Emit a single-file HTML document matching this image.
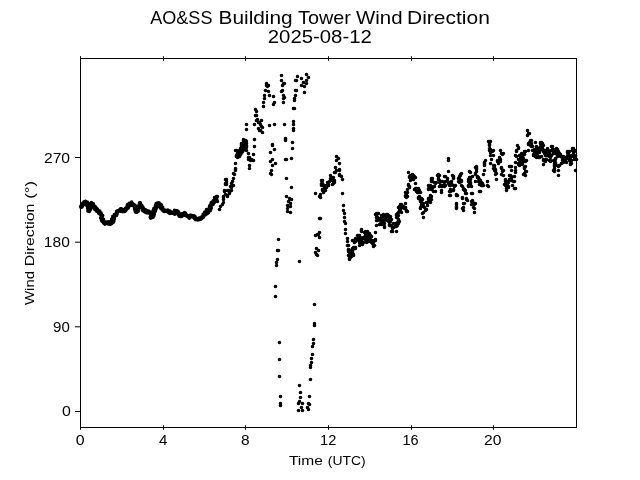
<!DOCTYPE html><html><head><meta charset="utf-8"><style>html,body{margin:0;padding:0;background:#fff;width:640px;height:480px;overflow:hidden}svg{display:block;will-change:transform}text{font-family:"Liberation Sans",sans-serif;fill:#000}</style></head><body>
<svg width="640" height="480" viewBox="0 0 640 480">
<rect width="640" height="480" fill="#fff"/>
<text x="150.25" y="23.50" font-size="18.50" text-anchor="start" textLength="62.20" lengthAdjust="spacingAndGlyphs">AO&amp;SS</text>
<text x="218.50" y="23.50" font-size="18.50" text-anchor="start" textLength="74.19" lengthAdjust="spacingAndGlyphs">Building</text>
<text x="298.05" y="23.50" font-size="18.50" text-anchor="start" textLength="52.90" lengthAdjust="spacingAndGlyphs">Tower</text>
<text x="356.00" y="23.50" font-size="18.50" text-anchor="start" textLength="46.52" lengthAdjust="spacingAndGlyphs">Wind</text>
<text x="407.00" y="23.50" font-size="18.50" text-anchor="start" textLength="82.83" lengthAdjust="spacingAndGlyphs">Direction</text>
<text x="319.80" y="43.45" font-size="17.98" text-anchor="middle" textLength="103.92" lengthAdjust="spacingAndGlyphs">2025-08-12</text>
<polyline points="81.2,207.5 83.1,205.0 85.6,201.2 87.5,205.6 88.8,211.2 91.2,202.5 93.8,206.9 96.2,210.0 98.8,210.6 101.2,215.6 103.1,221.9 105.0,224.4 108.8,222.5 111.9,223.8 113.8,216.2 117.5,212.5 120.0,209.0 123.8,211.2 126.2,208.8 128.8,204.6 132.5,203.1 135.0,206.9 136.9,212.5 140.0,202.5 142.5,209.4 146.2,211.2 150.0,212.5 151.9,218.1 155.0,208.8 157.5,203.8 158.5,203.1 161.0,206.9 163.5,210.0 167.2,211.2 171.0,212.8 173.5,213.8 176.0,210.6 179.1,215.6 182.2,215.0 185.4,213.1 188.5,217.5 192.2,215.6 194.8,218.1 198.5,219.4 202.2,218.1 204.8,213.8 208.5,211.2 211.6,205.0 214.8,199.4 217.2,200.0" fill="none" stroke="#000" stroke-width="2.6" stroke-linejoin="round" stroke-linecap="round"/>
<polyline points="239.0,156.5 243.0,151.0 245.5,146.5 246.5,142.0" fill="none" stroke="#000" stroke-width="3.4" stroke-linejoin="round" stroke-linecap="round"/>
<polyline points="236.5,156.5 239.5,151.5 242.0,147.0 244.5,142.0 246.0,140.5" fill="none" stroke="#000" stroke-width="3.4" stroke-linejoin="round" stroke-linecap="round"/>
<polyline points="248.5,158.5 251.0,159.8 253.0,160.5" fill="none" stroke="#000" stroke-width="3.0" stroke-linejoin="round" stroke-linecap="round"/>
<path fill="#000" d="M79.05,207.21a1.8,1.8 0 1,0 3.6,0a1.8,1.8 0 1,0 -3.6,0M78.93,206.56a1.8,1.8 0 1,0 3.6,0a1.8,1.8 0 1,0 -3.6,0M80.32,207.04a1.8,1.8 0 1,0 3.6,0a1.8,1.8 0 1,0 -3.6,0M79.28,205.72a1.8,1.8 0 1,0 3.6,0a1.8,1.8 0 1,0 -3.6,0M80.59,206.13a1.8,1.8 0 1,0 3.6,0a1.8,1.8 0 1,0 -3.6,0M80.47,205.49a1.8,1.8 0 1,0 3.6,0a1.8,1.8 0 1,0 -3.6,0M80.04,204.62a1.8,1.8 0 1,0 3.6,0a1.8,1.8 0 1,0 -3.6,0M81.32,205.01a1.8,1.8 0 1,0 3.6,0a1.8,1.8 0 1,0 -3.6,0M80.45,203.94a1.8,1.8 0 1,0 3.6,0a1.8,1.8 0 1,0 -3.6,0M81.60,204.22a1.8,1.8 0 1,0 3.6,0a1.8,1.8 0 1,0 -3.6,0M80.98,203.31a1.8,1.8 0 1,0 3.6,0a1.8,1.8 0 1,0 -3.6,0M81.26,203.00a1.8,1.8 0 1,0 3.6,0a1.8,1.8 0 1,0 -3.6,0M82.26,203.18a1.8,1.8 0 1,0 3.6,0a1.8,1.8 0 1,0 -3.6,0M83.43,203.46a1.8,1.8 0 1,0 3.6,0a1.8,1.8 0 1,0 -3.6,0M82.01,202.03a1.8,1.8 0 1,0 3.6,0a1.8,1.8 0 1,0 -3.6,0M82.47,201.84a1.8,1.8 0 1,0 3.6,0a1.8,1.8 0 1,0 -3.6,0M83.64,202.13a1.8,1.8 0 1,0 3.6,0a1.8,1.8 0 1,0 -3.6,0M84.62,202.29a1.8,1.8 0 1,0 3.6,0a1.8,1.8 0 1,0 -3.6,0M83.60,201.34a1.8,1.8 0 1,0 3.6,0a1.8,1.8 0 1,0 -3.6,0M84.24,201.53a1.8,1.8 0 1,0 3.6,0a1.8,1.8 0 1,0 -3.6,0M82.92,202.57a1.8,1.8 0 1,0 3.6,0a1.8,1.8 0 1,0 -3.6,0M85.48,201.93a1.8,1.8 0 1,0 3.6,0a1.8,1.8 0 1,0 -3.6,0M83.57,203.23a1.8,1.8 0 1,0 3.6,0a1.8,1.8 0 1,0 -3.6,0M85.20,202.99a1.8,1.8 0 1,0 3.6,0a1.8,1.8 0 1,0 -3.6,0M85.75,203.22a1.8,1.8 0 1,0 3.6,0a1.8,1.8 0 1,0 -3.6,0M85.99,203.59a1.8,1.8 0 1,0 3.6,0a1.8,1.8 0 1,0 -3.6,0M85.67,204.20a1.8,1.8 0 1,0 3.6,0a1.8,1.8 0 1,0 -3.6,0M84.54,205.16a1.8,1.8 0 1,0 3.6,0a1.8,1.8 0 1,0 -3.6,0M86.35,204.85a1.8,1.8 0 1,0 3.6,0a1.8,1.8 0 1,0 -3.6,0M85.48,205.65a1.8,1.8 0 1,0 3.6,0a1.8,1.8 0 1,0 -3.6,0M85.41,206.09a1.8,1.8 0 1,0 3.6,0a1.8,1.8 0 1,0 -3.6,0M86.23,206.33a1.8,1.8 0 1,0 3.6,0a1.8,1.8 0 1,0 -3.6,0M85.84,206.84a1.8,1.8 0 1,0 3.6,0a1.8,1.8 0 1,0 -3.6,0M87.25,206.95a1.8,1.8 0 1,0 3.6,0a1.8,1.8 0 1,0 -3.6,0M87.35,207.35a1.8,1.8 0 1,0 3.6,0a1.8,1.8 0 1,0 -3.6,0M87.04,207.84a1.8,1.8 0 1,0 3.6,0a1.8,1.8 0 1,0 -3.6,0M85.83,208.53a1.8,1.8 0 1,0 3.6,0a1.8,1.8 0 1,0 -3.6,0M86.61,208.78a1.8,1.8 0 1,0 3.6,0a1.8,1.8 0 1,0 -3.6,0M87.01,209.12a1.8,1.8 0 1,0 3.6,0a1.8,1.8 0 1,0 -3.6,0M86.36,209.69a1.8,1.8 0 1,0 3.6,0a1.8,1.8 0 1,0 -3.6,0M86.81,210.01a1.8,1.8 0 1,0 3.6,0a1.8,1.8 0 1,0 -3.6,0M87.32,210.32a1.8,1.8 0 1,0 3.6,0a1.8,1.8 0 1,0 -3.6,0M86.06,211.02a1.8,1.8 0 1,0 3.6,0a1.8,1.8 0 1,0 -3.6,0M87.49,211.40a1.8,1.8 0 1,0 3.6,0a1.8,1.8 0 1,0 -3.6,0M86.37,210.66a1.8,1.8 0 1,0 3.6,0a1.8,1.8 0 1,0 -3.6,0M87.38,210.51a1.8,1.8 0 1,0 3.6,0a1.8,1.8 0 1,0 -3.6,0M87.36,210.08a1.8,1.8 0 1,0 3.6,0a1.8,1.8 0 1,0 -3.6,0M88.41,209.95a1.8,1.8 0 1,0 3.6,0a1.8,1.8 0 1,0 -3.6,0M88.14,209.44a1.8,1.8 0 1,0 3.6,0a1.8,1.8 0 1,0 -3.6,0M87.06,208.70a1.8,1.8 0 1,0 3.6,0a1.8,1.8 0 1,0 -3.6,0M89.04,208.84a1.8,1.8 0 1,0 3.6,0a1.8,1.8 0 1,0 -3.6,0M86.83,207.77a1.8,1.8 0 1,0 3.6,0a1.8,1.8 0 1,0 -3.6,0M87.75,207.61a1.8,1.8 0 1,0 3.6,0a1.8,1.8 0 1,0 -3.6,0M88.78,207.47a1.8,1.8 0 1,0 3.6,0a1.8,1.8 0 1,0 -3.6,0M87.26,206.61a1.8,1.8 0 1,0 3.6,0a1.8,1.8 0 1,0 -3.6,0M88.28,206.47a1.8,1.8 0 1,0 3.6,0a1.8,1.8 0 1,0 -3.6,0M87.19,205.73a1.8,1.8 0 1,0 3.6,0a1.8,1.8 0 1,0 -3.6,0M88.99,205.81a1.8,1.8 0 1,0 3.6,0a1.8,1.8 0 1,0 -3.6,0M89.37,205.49a1.8,1.8 0 1,0 3.6,0a1.8,1.8 0 1,0 -3.6,0M88.96,204.94a1.8,1.8 0 1,0 3.6,0a1.8,1.8 0 1,0 -3.6,0M89.89,204.78a1.8,1.8 0 1,0 3.6,0a1.8,1.8 0 1,0 -3.6,0M88.49,203.95a1.8,1.8 0 1,0 3.6,0a1.8,1.8 0 1,0 -3.6,0M89.63,203.84a1.8,1.8 0 1,0 3.6,0a1.8,1.8 0 1,0 -3.6,0M89.48,203.37a1.8,1.8 0 1,0 3.6,0a1.8,1.8 0 1,0 -3.6,0M89.55,202.96a1.8,1.8 0 1,0 3.6,0a1.8,1.8 0 1,0 -3.6,0M89.56,202.44a1.8,1.8 0 1,0 3.6,0a1.8,1.8 0 1,0 -3.6,0M88.83,203.34a1.8,1.8 0 1,0 3.6,0a1.8,1.8 0 1,0 -3.6,0M88.78,203.85a1.8,1.8 0 1,0 3.6,0a1.8,1.8 0 1,0 -3.6,0M90.14,203.56a1.8,1.8 0 1,0 3.6,0a1.8,1.8 0 1,0 -3.6,0M89.88,204.19a1.8,1.8 0 1,0 3.6,0a1.8,1.8 0 1,0 -3.6,0M91.56,203.73a1.8,1.8 0 1,0 3.6,0a1.8,1.8 0 1,0 -3.6,0M90.21,204.98a1.8,1.8 0 1,0 3.6,0a1.8,1.8 0 1,0 -3.6,0M90.55,205.27a1.8,1.8 0 1,0 3.6,0a1.8,1.8 0 1,0 -3.6,0M89.92,206.12a1.8,1.8 0 1,0 3.6,0a1.8,1.8 0 1,0 -3.6,0M90.54,206.25a1.8,1.8 0 1,0 3.6,0a1.8,1.8 0 1,0 -3.6,0M92.06,205.87a1.8,1.8 0 1,0 3.6,0a1.8,1.8 0 1,0 -3.6,0M92.02,206.38a1.8,1.8 0 1,0 3.6,0a1.8,1.8 0 1,0 -3.6,0M91.58,207.20a1.8,1.8 0 1,0 3.6,0a1.8,1.8 0 1,0 -3.6,0M93.27,206.41a1.8,1.8 0 1,0 3.6,0a1.8,1.8 0 1,0 -3.6,0M92.59,207.52a1.8,1.8 0 1,0 3.6,0a1.8,1.8 0 1,0 -3.6,0M93.51,207.35a1.8,1.8 0 1,0 3.6,0a1.8,1.8 0 1,0 -3.6,0M93.90,207.60a1.8,1.8 0 1,0 3.6,0a1.8,1.8 0 1,0 -3.6,0M94.30,207.85a1.8,1.8 0 1,0 3.6,0a1.8,1.8 0 1,0 -3.6,0M93.03,209.44a1.8,1.8 0 1,0 3.6,0a1.8,1.8 0 1,0 -3.6,0M94.70,208.66a1.8,1.8 0 1,0 3.6,0a1.8,1.8 0 1,0 -3.6,0M94.72,209.21a1.8,1.8 0 1,0 3.6,0a1.8,1.8 0 1,0 -3.6,0M94.52,209.70a1.8,1.8 0 1,0 3.6,0a1.8,1.8 0 1,0 -3.6,0M94.62,211.11a1.8,1.8 0 1,0 3.6,0a1.8,1.8 0 1,0 -3.6,0M95.56,209.06a1.8,1.8 0 1,0 3.6,0a1.8,1.8 0 1,0 -3.6,0M95.73,210.16a1.8,1.8 0 1,0 3.6,0a1.8,1.8 0 1,0 -3.6,0M96.08,210.53a1.8,1.8 0 1,0 3.6,0a1.8,1.8 0 1,0 -3.6,0M96.28,211.54a1.8,1.8 0 1,0 3.6,0a1.8,1.8 0 1,0 -3.6,0M96.15,211.00a1.8,1.8 0 1,0 3.6,0a1.8,1.8 0 1,0 -3.6,0M96.23,211.44a1.8,1.8 0 1,0 3.6,0a1.8,1.8 0 1,0 -3.6,0M97.89,211.09a1.8,1.8 0 1,0 3.6,0a1.8,1.8 0 1,0 -3.6,0M97.74,211.65a1.8,1.8 0 1,0 3.6,0a1.8,1.8 0 1,0 -3.6,0M98.07,211.96a1.8,1.8 0 1,0 3.6,0a1.8,1.8 0 1,0 -3.6,0M96.95,213.00a1.8,1.8 0 1,0 3.6,0a1.8,1.8 0 1,0 -3.6,0M96.96,213.48a1.8,1.8 0 1,0 3.6,0a1.8,1.8 0 1,0 -3.6,0M99.17,212.86a1.8,1.8 0 1,0 3.6,0a1.8,1.8 0 1,0 -3.6,0M99.30,213.27a1.8,1.8 0 1,0 3.6,0a1.8,1.8 0 1,0 -3.6,0M99.35,213.73a1.8,1.8 0 1,0 3.6,0a1.8,1.8 0 1,0 -3.6,0M99.54,214.11a1.8,1.8 0 1,0 3.6,0a1.8,1.8 0 1,0 -3.6,0M99.10,214.81a1.8,1.8 0 1,0 3.6,0a1.8,1.8 0 1,0 -3.6,0M99.03,215.33a1.8,1.8 0 1,0 3.6,0a1.8,1.8 0 1,0 -3.6,0M100.09,215.41a1.8,1.8 0 1,0 3.6,0a1.8,1.8 0 1,0 -3.6,0M100.90,215.60a1.8,1.8 0 1,0 3.6,0a1.8,1.8 0 1,0 -3.6,0M99.90,216.32a1.8,1.8 0 1,0 3.6,0a1.8,1.8 0 1,0 -3.6,0M100.15,216.68a1.8,1.8 0 1,0 3.6,0a1.8,1.8 0 1,0 -3.6,0M99.73,217.23a1.8,1.8 0 1,0 3.6,0a1.8,1.8 0 1,0 -3.6,0M98.81,217.93a1.8,1.8 0 1,0 3.6,0a1.8,1.8 0 1,0 -3.6,0M99.63,218.11a1.8,1.8 0 1,0 3.6,0a1.8,1.8 0 1,0 -3.6,0M100.22,218.37a1.8,1.8 0 1,0 3.6,0a1.8,1.8 0 1,0 -3.6,0M100.06,218.84a1.8,1.8 0 1,0 3.6,0a1.8,1.8 0 1,0 -3.6,0M100.02,219.28a1.8,1.8 0 1,0 3.6,0a1.8,1.8 0 1,0 -3.6,0M101.80,219.19a1.8,1.8 0 1,0 3.6,0a1.8,1.8 0 1,0 -3.6,0M99.65,220.25a1.8,1.8 0 1,0 3.6,0a1.8,1.8 0 1,0 -3.6,0M100.09,220.55a1.8,1.8 0 1,0 3.6,0a1.8,1.8 0 1,0 -3.6,0M99.95,221.01a1.8,1.8 0 1,0 3.6,0a1.8,1.8 0 1,0 -3.6,0M100.27,221.35a1.8,1.8 0 1,0 3.6,0a1.8,1.8 0 1,0 -3.6,0M101.47,221.42a1.8,1.8 0 1,0 3.6,0a1.8,1.8 0 1,0 -3.6,0M101.53,221.73a1.8,1.8 0 1,0 3.6,0a1.8,1.8 0 1,0 -3.6,0M102.46,221.59a1.8,1.8 0 1,0 3.6,0a1.8,1.8 0 1,0 -3.6,0M101.54,222.84a1.8,1.8 0 1,0 3.6,0a1.8,1.8 0 1,0 -3.6,0M103.09,222.23a1.8,1.8 0 1,0 3.6,0a1.8,1.8 0 1,0 -3.6,0M103.35,222.60a1.8,1.8 0 1,0 3.6,0a1.8,1.8 0 1,0 -3.6,0M103.31,223.19a1.8,1.8 0 1,0 3.6,0a1.8,1.8 0 1,0 -3.6,0M103.68,223.47a1.8,1.8 0 1,0 3.6,0a1.8,1.8 0 1,0 -3.6,0M103.00,224.00a1.8,1.8 0 1,0 3.6,0a1.8,1.8 0 1,0 -3.6,0M103.01,223.09a1.8,1.8 0 1,0 3.6,0a1.8,1.8 0 1,0 -3.6,0M103.32,222.77a1.8,1.8 0 1,0 3.6,0a1.8,1.8 0 1,0 -3.6,0M103.88,222.96a1.8,1.8 0 1,0 3.6,0a1.8,1.8 0 1,0 -3.6,0M104.20,222.64a1.8,1.8 0 1,0 3.6,0a1.8,1.8 0 1,0 -3.6,0M104.90,223.11a1.8,1.8 0 1,0 3.6,0a1.8,1.8 0 1,0 -3.6,0M104.85,222.07a1.8,1.8 0 1,0 3.6,0a1.8,1.8 0 1,0 -3.6,0M106.30,224.00a1.8,1.8 0 1,0 3.6,0a1.8,1.8 0 1,0 -3.6,0M106.34,223.16a1.8,1.8 0 1,0 3.6,0a1.8,1.8 0 1,0 -3.6,0M106.13,221.81a1.8,1.8 0 1,0 3.6,0a1.8,1.8 0 1,0 -3.6,0M107.21,221.86a1.8,1.8 0 1,0 3.6,0a1.8,1.8 0 1,0 -3.6,0M107.50,222.26a1.8,1.8 0 1,0 3.6,0a1.8,1.8 0 1,0 -3.6,0M107.88,222.46a1.8,1.8 0 1,0 3.6,0a1.8,1.8 0 1,0 -3.6,0M108.52,221.99a1.8,1.8 0 1,0 3.6,0a1.8,1.8 0 1,0 -3.6,0M108.16,224.03a1.8,1.8 0 1,0 3.6,0a1.8,1.8 0 1,0 -3.6,0M108.41,224.56a1.8,1.8 0 1,0 3.6,0a1.8,1.8 0 1,0 -3.6,0M109.35,223.35a1.8,1.8 0 1,0 3.6,0a1.8,1.8 0 1,0 -3.6,0M109.72,223.55a1.8,1.8 0 1,0 3.6,0a1.8,1.8 0 1,0 -3.6,0M108.97,223.47a1.8,1.8 0 1,0 3.6,0a1.8,1.8 0 1,0 -3.6,0M109.12,223.09a1.8,1.8 0 1,0 3.6,0a1.8,1.8 0 1,0 -3.6,0M109.87,222.86a1.8,1.8 0 1,0 3.6,0a1.8,1.8 0 1,0 -3.6,0M109.75,222.41a1.8,1.8 0 1,0 3.6,0a1.8,1.8 0 1,0 -3.6,0M111.38,222.39a1.8,1.8 0 1,0 3.6,0a1.8,1.8 0 1,0 -3.6,0M109.67,221.55a1.8,1.8 0 1,0 3.6,0a1.8,1.8 0 1,0 -3.6,0M109.39,221.06a1.8,1.8 0 1,0 3.6,0a1.8,1.8 0 1,0 -3.6,0M112.01,221.29a1.8,1.8 0 1,0 3.6,0a1.8,1.8 0 1,0 -3.6,0M110.96,220.61a1.8,1.8 0 1,0 3.6,0a1.8,1.8 0 1,0 -3.6,0M110.02,219.96a1.8,1.8 0 1,0 3.6,0a1.8,1.8 0 1,0 -3.6,0M111.19,219.83a1.8,1.8 0 1,0 3.6,0a1.8,1.8 0 1,0 -3.6,0M109.89,219.09a1.8,1.8 0 1,0 3.6,0a1.8,1.8 0 1,0 -3.6,0M111.34,219.03a1.8,1.8 0 1,0 3.6,0a1.8,1.8 0 1,0 -3.6,0M112.67,218.94a1.8,1.8 0 1,0 3.6,0a1.8,1.8 0 1,0 -3.6,0M112.45,218.47a1.8,1.8 0 1,0 3.6,0a1.8,1.8 0 1,0 -3.6,0M112.09,217.96a1.8,1.8 0 1,0 3.6,0a1.8,1.8 0 1,0 -3.6,0M111.01,217.27a1.8,1.8 0 1,0 3.6,0a1.8,1.8 0 1,0 -3.6,0M111.39,216.95a1.8,1.8 0 1,0 3.6,0a1.8,1.8 0 1,0 -3.6,0M110.95,216.42a1.8,1.8 0 1,0 3.6,0a1.8,1.8 0 1,0 -3.6,0M112.49,216.79a1.8,1.8 0 1,0 3.6,0a1.8,1.8 0 1,0 -3.6,0M112.30,216.03a1.8,1.8 0 1,0 3.6,0a1.8,1.8 0 1,0 -3.6,0M113.08,216.23a1.8,1.8 0 1,0 3.6,0a1.8,1.8 0 1,0 -3.6,0M112.48,215.05a1.8,1.8 0 1,0 3.6,0a1.8,1.8 0 1,0 -3.6,0M112.56,214.55a1.8,1.8 0 1,0 3.6,0a1.8,1.8 0 1,0 -3.6,0M114.01,215.42a1.8,1.8 0 1,0 3.6,0a1.8,1.8 0 1,0 -3.6,0M114.64,215.48a1.8,1.8 0 1,0 3.6,0a1.8,1.8 0 1,0 -3.6,0M114.67,214.93a1.8,1.8 0 1,0 3.6,0a1.8,1.8 0 1,0 -3.6,0M114.86,214.55a1.8,1.8 0 1,0 3.6,0a1.8,1.8 0 1,0 -3.6,0M115.18,214.28a1.8,1.8 0 1,0 3.6,0a1.8,1.8 0 1,0 -3.6,0M115.31,213.84a1.8,1.8 0 1,0 3.6,0a1.8,1.8 0 1,0 -3.6,0M114.58,212.54a1.8,1.8 0 1,0 3.6,0a1.8,1.8 0 1,0 -3.6,0M115.45,212.82a1.8,1.8 0 1,0 3.6,0a1.8,1.8 0 1,0 -3.6,0M115.37,212.26a1.8,1.8 0 1,0 3.6,0a1.8,1.8 0 1,0 -3.6,0M114.88,211.38a1.8,1.8 0 1,0 3.6,0a1.8,1.8 0 1,0 -3.6,0M115.12,211.03a1.8,1.8 0 1,0 3.6,0a1.8,1.8 0 1,0 -3.6,0M115.95,211.09a1.8,1.8 0 1,0 3.6,0a1.8,1.8 0 1,0 -3.6,0M116.15,210.71a1.8,1.8 0 1,0 3.6,0a1.8,1.8 0 1,0 -3.6,0M117.39,211.06a1.8,1.8 0 1,0 3.6,0a1.8,1.8 0 1,0 -3.6,0M118.24,211.14a1.8,1.8 0 1,0 3.6,0a1.8,1.8 0 1,0 -3.6,0M117.33,209.96a1.8,1.8 0 1,0 3.6,0a1.8,1.8 0 1,0 -3.6,0M118.70,210.41a1.8,1.8 0 1,0 3.6,0a1.8,1.8 0 1,0 -3.6,0M119.06,210.14a1.8,1.8 0 1,0 3.6,0a1.8,1.8 0 1,0 -3.6,0M117.54,210.09a1.8,1.8 0 1,0 3.6,0a1.8,1.8 0 1,0 -3.6,0M118.77,208.90a1.8,1.8 0 1,0 3.6,0a1.8,1.8 0 1,0 -3.6,0M119.35,208.78a1.8,1.8 0 1,0 3.6,0a1.8,1.8 0 1,0 -3.6,0M119.72,209.02a1.8,1.8 0 1,0 3.6,0a1.8,1.8 0 1,0 -3.6,0M120.14,209.17a1.8,1.8 0 1,0 3.6,0a1.8,1.8 0 1,0 -3.6,0M120.50,209.42a1.8,1.8 0 1,0 3.6,0a1.8,1.8 0 1,0 -3.6,0M120.27,210.65a1.8,1.8 0 1,0 3.6,0a1.8,1.8 0 1,0 -3.6,0M120.25,211.54a1.8,1.8 0 1,0 3.6,0a1.8,1.8 0 1,0 -3.6,0M120.71,211.62a1.8,1.8 0 1,0 3.6,0a1.8,1.8 0 1,0 -3.6,0M121.60,210.98a1.8,1.8 0 1,0 3.6,0a1.8,1.8 0 1,0 -3.6,0M122.25,211.55a1.8,1.8 0 1,0 3.6,0a1.8,1.8 0 1,0 -3.6,0M122.86,211.53a1.8,1.8 0 1,0 3.6,0a1.8,1.8 0 1,0 -3.6,0M121.75,209.80a1.8,1.8 0 1,0 3.6,0a1.8,1.8 0 1,0 -3.6,0M123.21,210.63a1.8,1.8 0 1,0 3.6,0a1.8,1.8 0 1,0 -3.6,0M124.01,210.81a1.8,1.8 0 1,0 3.6,0a1.8,1.8 0 1,0 -3.6,0M124.07,210.25a1.8,1.8 0 1,0 3.6,0a1.8,1.8 0 1,0 -3.6,0M124.32,209.87a1.8,1.8 0 1,0 3.6,0a1.8,1.8 0 1,0 -3.6,0M124.09,209.02a1.8,1.8 0 1,0 3.6,0a1.8,1.8 0 1,0 -3.6,0M123.68,208.29a1.8,1.8 0 1,0 3.6,0a1.8,1.8 0 1,0 -3.6,0M125.35,208.82a1.8,1.8 0 1,0 3.6,0a1.8,1.8 0 1,0 -3.6,0M124.46,207.82a1.8,1.8 0 1,0 3.6,0a1.8,1.8 0 1,0 -3.6,0M125.80,208.15a1.8,1.8 0 1,0 3.6,0a1.8,1.8 0 1,0 -3.6,0M126.41,208.05a1.8,1.8 0 1,0 3.6,0a1.8,1.8 0 1,0 -3.6,0M125.24,206.87a1.8,1.8 0 1,0 3.6,0a1.8,1.8 0 1,0 -3.6,0M125.46,206.53a1.8,1.8 0 1,0 3.6,0a1.8,1.8 0 1,0 -3.6,0M126.98,206.97a1.8,1.8 0 1,0 3.6,0a1.8,1.8 0 1,0 -3.6,0M126.66,206.31a1.8,1.8 0 1,0 3.6,0a1.8,1.8 0 1,0 -3.6,0M125.53,205.16a1.8,1.8 0 1,0 3.6,0a1.8,1.8 0 1,0 -3.6,0M125.64,204.75a1.8,1.8 0 1,0 3.6,0a1.8,1.8 0 1,0 -3.6,0M125.90,204.44a1.8,1.8 0 1,0 3.6,0a1.8,1.8 0 1,0 -3.6,0M127.37,205.65a1.8,1.8 0 1,0 3.6,0a1.8,1.8 0 1,0 -3.6,0M127.64,205.25a1.8,1.8 0 1,0 3.6,0a1.8,1.8 0 1,0 -3.6,0M127.33,203.38a1.8,1.8 0 1,0 3.6,0a1.8,1.8 0 1,0 -3.6,0M128.41,205.00a1.8,1.8 0 1,0 3.6,0a1.8,1.8 0 1,0 -3.6,0M128.95,205.25a1.8,1.8 0 1,0 3.6,0a1.8,1.8 0 1,0 -3.6,0M128.99,204.26a1.8,1.8 0 1,0 3.6,0a1.8,1.8 0 1,0 -3.6,0M129.04,203.31a1.8,1.8 0 1,0 3.6,0a1.8,1.8 0 1,0 -3.6,0M129.63,203.68a1.8,1.8 0 1,0 3.6,0a1.8,1.8 0 1,0 -3.6,0M129.57,202.44a1.8,1.8 0 1,0 3.6,0a1.8,1.8 0 1,0 -3.6,0M129.82,201.99a1.8,1.8 0 1,0 3.6,0a1.8,1.8 0 1,0 -3.6,0M129.60,203.82a1.8,1.8 0 1,0 3.6,0a1.8,1.8 0 1,0 -3.6,0M130.58,203.68a1.8,1.8 0 1,0 3.6,0a1.8,1.8 0 1,0 -3.6,0M131.09,203.83a1.8,1.8 0 1,0 3.6,0a1.8,1.8 0 1,0 -3.6,0M130.37,204.80a1.8,1.8 0 1,0 3.6,0a1.8,1.8 0 1,0 -3.6,0M131.76,204.38a1.8,1.8 0 1,0 3.6,0a1.8,1.8 0 1,0 -3.6,0M130.97,205.40a1.8,1.8 0 1,0 3.6,0a1.8,1.8 0 1,0 -3.6,0M131.30,205.67a1.8,1.8 0 1,0 3.6,0a1.8,1.8 0 1,0 -3.6,0M132.97,205.07a1.8,1.8 0 1,0 3.6,0a1.8,1.8 0 1,0 -3.6,0M133.10,205.48a1.8,1.8 0 1,0 3.6,0a1.8,1.8 0 1,0 -3.6,0M133.23,205.89a1.8,1.8 0 1,0 3.6,0a1.8,1.8 0 1,0 -3.6,0M133.58,206.16a1.8,1.8 0 1,0 3.6,0a1.8,1.8 0 1,0 -3.6,0M132.97,206.98a1.8,1.8 0 1,0 3.6,0a1.8,1.8 0 1,0 -3.6,0M133.97,207.08a1.8,1.8 0 1,0 3.6,0a1.8,1.8 0 1,0 -3.6,0M133.69,207.63a1.8,1.8 0 1,0 3.6,0a1.8,1.8 0 1,0 -3.6,0M134.59,207.77a1.8,1.8 0 1,0 3.6,0a1.8,1.8 0 1,0 -3.6,0M132.66,208.87a1.8,1.8 0 1,0 3.6,0a1.8,1.8 0 1,0 -3.6,0M134.27,208.77a1.8,1.8 0 1,0 3.6,0a1.8,1.8 0 1,0 -3.6,0M134.13,209.26a1.8,1.8 0 1,0 3.6,0a1.8,1.8 0 1,0 -3.6,0M133.93,209.77a1.8,1.8 0 1,0 3.6,0a1.8,1.8 0 1,0 -3.6,0M133.21,210.46a1.8,1.8 0 1,0 3.6,0a1.8,1.8 0 1,0 -3.6,0M134.63,210.43a1.8,1.8 0 1,0 3.6,0a1.8,1.8 0 1,0 -3.6,0M133.45,211.28a1.8,1.8 0 1,0 3.6,0a1.8,1.8 0 1,0 -3.6,0M134.69,211.30a1.8,1.8 0 1,0 3.6,0a1.8,1.8 0 1,0 -3.6,0M134.74,211.73a1.8,1.8 0 1,0 3.6,0a1.8,1.8 0 1,0 -3.6,0M134.90,212.12a1.8,1.8 0 1,0 3.6,0a1.8,1.8 0 1,0 -3.6,0M133.81,212.10a1.8,1.8 0 1,0 3.6,0a1.8,1.8 0 1,0 -3.6,0M135.06,212.07a1.8,1.8 0 1,0 3.6,0a1.8,1.8 0 1,0 -3.6,0M134.49,211.47a1.8,1.8 0 1,0 3.6,0a1.8,1.8 0 1,0 -3.6,0M134.13,210.93a1.8,1.8 0 1,0 3.6,0a1.8,1.8 0 1,0 -3.6,0M136.38,211.21a1.8,1.8 0 1,0 3.6,0a1.8,1.8 0 1,0 -3.6,0M134.82,210.31a1.8,1.8 0 1,0 3.6,0a1.8,1.8 0 1,0 -3.6,0M135.74,210.17a1.8,1.8 0 1,0 3.6,0a1.8,1.8 0 1,0 -3.6,0M136.54,209.99a1.8,1.8 0 1,0 3.6,0a1.8,1.8 0 1,0 -3.6,0M136.20,209.47a1.8,1.8 0 1,0 3.6,0a1.8,1.8 0 1,0 -3.6,0M135.71,208.89a1.8,1.8 0 1,0 3.6,0a1.8,1.8 0 1,0 -3.6,0M136.34,208.67a1.8,1.8 0 1,0 3.6,0a1.8,1.8 0 1,0 -3.6,0M136.56,208.32a1.8,1.8 0 1,0 3.6,0a1.8,1.8 0 1,0 -3.6,0M137.29,208.12a1.8,1.8 0 1,0 3.6,0a1.8,1.8 0 1,0 -3.6,0M135.60,207.17a1.8,1.8 0 1,0 3.6,0a1.8,1.8 0 1,0 -3.6,0M136.93,207.17a1.8,1.8 0 1,0 3.6,0a1.8,1.8 0 1,0 -3.6,0M136.22,206.52a1.8,1.8 0 1,0 3.6,0a1.8,1.8 0 1,0 -3.6,0M136.41,206.16a1.8,1.8 0 1,0 3.6,0a1.8,1.8 0 1,0 -3.6,0M137.86,206.19a1.8,1.8 0 1,0 3.6,0a1.8,1.8 0 1,0 -3.6,0M137.27,205.58a1.8,1.8 0 1,0 3.6,0a1.8,1.8 0 1,0 -3.6,0M137.53,205.24a1.8,1.8 0 1,0 3.6,0a1.8,1.8 0 1,0 -3.6,0M138.18,205.02a1.8,1.8 0 1,0 3.6,0a1.8,1.8 0 1,0 -3.6,0M138.71,204.77a1.8,1.8 0 1,0 3.6,0a1.8,1.8 0 1,0 -3.6,0M137.57,203.99a1.8,1.8 0 1,0 3.6,0a1.8,1.8 0 1,0 -3.6,0M138.14,203.75a1.8,1.8 0 1,0 3.6,0a1.8,1.8 0 1,0 -3.6,0M137.98,203.27a1.8,1.8 0 1,0 3.6,0a1.8,1.8 0 1,0 -3.6,0M138.11,202.89a1.8,1.8 0 1,0 3.6,0a1.8,1.8 0 1,0 -3.6,0M137.69,202.68a1.8,1.8 0 1,0 3.6,0a1.8,1.8 0 1,0 -3.6,0M138.46,202.84a1.8,1.8 0 1,0 3.6,0a1.8,1.8 0 1,0 -3.6,0M138.39,203.30a1.8,1.8 0 1,0 3.6,0a1.8,1.8 0 1,0 -3.6,0M138.67,203.63a1.8,1.8 0 1,0 3.6,0a1.8,1.8 0 1,0 -3.6,0M137.59,204.45a1.8,1.8 0 1,0 3.6,0a1.8,1.8 0 1,0 -3.6,0M138.37,204.61a1.8,1.8 0 1,0 3.6,0a1.8,1.8 0 1,0 -3.6,0M138.04,205.16a1.8,1.8 0 1,0 3.6,0a1.8,1.8 0 1,0 -3.6,0M138.01,205.61a1.8,1.8 0 1,0 3.6,0a1.8,1.8 0 1,0 -3.6,0M139.94,205.34a1.8,1.8 0 1,0 3.6,0a1.8,1.8 0 1,0 -3.6,0M139.29,206.01a1.8,1.8 0 1,0 3.6,0a1.8,1.8 0 1,0 -3.6,0M138.42,206.76a1.8,1.8 0 1,0 3.6,0a1.8,1.8 0 1,0 -3.6,0M138.83,207.04a1.8,1.8 0 1,0 3.6,0a1.8,1.8 0 1,0 -3.6,0M140.82,206.75a1.8,1.8 0 1,0 3.6,0a1.8,1.8 0 1,0 -3.6,0M141.00,207.12a1.8,1.8 0 1,0 3.6,0a1.8,1.8 0 1,0 -3.6,0M140.30,207.81a1.8,1.8 0 1,0 3.6,0a1.8,1.8 0 1,0 -3.6,0M141.41,207.84a1.8,1.8 0 1,0 3.6,0a1.8,1.8 0 1,0 -3.6,0M141.10,208.39a1.8,1.8 0 1,0 3.6,0a1.8,1.8 0 1,0 -3.6,0M141.68,208.61a1.8,1.8 0 1,0 3.6,0a1.8,1.8 0 1,0 -3.6,0M140.49,209.83a1.8,1.8 0 1,0 3.6,0a1.8,1.8 0 1,0 -3.6,0M140.72,210.30a1.8,1.8 0 1,0 3.6,0a1.8,1.8 0 1,0 -3.6,0M140.96,210.77a1.8,1.8 0 1,0 3.6,0a1.8,1.8 0 1,0 -3.6,0M142.25,209.09a1.8,1.8 0 1,0 3.6,0a1.8,1.8 0 1,0 -3.6,0M141.93,210.68a1.8,1.8 0 1,0 3.6,0a1.8,1.8 0 1,0 -3.6,0M142.38,210.73a1.8,1.8 0 1,0 3.6,0a1.8,1.8 0 1,0 -3.6,0M143.39,209.61a1.8,1.8 0 1,0 3.6,0a1.8,1.8 0 1,0 -3.6,0M142.85,211.66a1.8,1.8 0 1,0 3.6,0a1.8,1.8 0 1,0 -3.6,0M143.12,212.05a1.8,1.8 0 1,0 3.6,0a1.8,1.8 0 1,0 -3.6,0M144.42,210.36a1.8,1.8 0 1,0 3.6,0a1.8,1.8 0 1,0 -3.6,0M144.05,212.45a1.8,1.8 0 1,0 3.6,0a1.8,1.8 0 1,0 -3.6,0M144.96,211.12a1.8,1.8 0 1,0 3.6,0a1.8,1.8 0 1,0 -3.6,0M145.29,211.49a1.8,1.8 0 1,0 3.6,0a1.8,1.8 0 1,0 -3.6,0M145.27,212.97a1.8,1.8 0 1,0 3.6,0a1.8,1.8 0 1,0 -3.6,0M145.82,212.69a1.8,1.8 0 1,0 3.6,0a1.8,1.8 0 1,0 -3.6,0M146.83,211.05a1.8,1.8 0 1,0 3.6,0a1.8,1.8 0 1,0 -3.6,0M147.01,211.90a1.8,1.8 0 1,0 3.6,0a1.8,1.8 0 1,0 -3.6,0M147.35,212.26a1.8,1.8 0 1,0 3.6,0a1.8,1.8 0 1,0 -3.6,0M147.93,211.93a1.8,1.8 0 1,0 3.6,0a1.8,1.8 0 1,0 -3.6,0M149.01,212.23a1.8,1.8 0 1,0 3.6,0a1.8,1.8 0 1,0 -3.6,0M148.82,212.74a1.8,1.8 0 1,0 3.6,0a1.8,1.8 0 1,0 -3.6,0M147.88,213.50a1.8,1.8 0 1,0 3.6,0a1.8,1.8 0 1,0 -3.6,0M149.88,213.27a1.8,1.8 0 1,0 3.6,0a1.8,1.8 0 1,0 -3.6,0M148.60,214.15a1.8,1.8 0 1,0 3.6,0a1.8,1.8 0 1,0 -3.6,0M149.04,214.45a1.8,1.8 0 1,0 3.6,0a1.8,1.8 0 1,0 -3.6,0M150.29,214.47a1.8,1.8 0 1,0 3.6,0a1.8,1.8 0 1,0 -3.6,0M149.60,215.15a1.8,1.8 0 1,0 3.6,0a1.8,1.8 0 1,0 -3.6,0M148.96,215.81a1.8,1.8 0 1,0 3.6,0a1.8,1.8 0 1,0 -3.6,0M149.39,216.11a1.8,1.8 0 1,0 3.6,0a1.8,1.8 0 1,0 -3.6,0M150.71,216.11a1.8,1.8 0 1,0 3.6,0a1.8,1.8 0 1,0 -3.6,0M148.41,217.34a1.8,1.8 0 1,0 3.6,0a1.8,1.8 0 1,0 -3.6,0M149.06,217.56a1.8,1.8 0 1,0 3.6,0a1.8,1.8 0 1,0 -3.6,0M148.71,218.12a1.8,1.8 0 1,0 3.6,0a1.8,1.8 0 1,0 -3.6,0M149.05,217.75a1.8,1.8 0 1,0 3.6,0a1.8,1.8 0 1,0 -3.6,0M149.61,217.50a1.8,1.8 0 1,0 3.6,0a1.8,1.8 0 1,0 -3.6,0M149.13,216.92a1.8,1.8 0 1,0 3.6,0a1.8,1.8 0 1,0 -3.6,0M151.23,217.18a1.8,1.8 0 1,0 3.6,0a1.8,1.8 0 1,0 -3.6,0M150.01,216.34a1.8,1.8 0 1,0 3.6,0a1.8,1.8 0 1,0 -3.6,0M149.76,215.83a1.8,1.8 0 1,0 3.6,0a1.8,1.8 0 1,0 -3.6,0M150.67,215.69a1.8,1.8 0 1,0 3.6,0a1.8,1.8 0 1,0 -3.6,0M152.10,215.74a1.8,1.8 0 1,0 3.6,0a1.8,1.8 0 1,0 -3.6,0M151.98,215.26a1.8,1.8 0 1,0 3.6,0a1.8,1.8 0 1,0 -3.6,0M150.62,214.38a1.8,1.8 0 1,0 3.6,0a1.8,1.8 0 1,0 -3.6,0M150.46,213.90a1.8,1.8 0 1,0 3.6,0a1.8,1.8 0 1,0 -3.6,0M152.63,214.18a1.8,1.8 0 1,0 3.6,0a1.8,1.8 0 1,0 -3.6,0M151.84,213.49a1.8,1.8 0 1,0 3.6,0a1.8,1.8 0 1,0 -3.6,0M152.31,213.21a1.8,1.8 0 1,0 3.6,0a1.8,1.8 0 1,0 -3.6,0M150.82,212.28a1.8,1.8 0 1,0 3.6,0a1.8,1.8 0 1,0 -3.6,0M150.86,211.87a1.8,1.8 0 1,0 3.6,0a1.8,1.8 0 1,0 -3.6,0M152.67,212.03a1.8,1.8 0 1,0 3.6,0a1.8,1.8 0 1,0 -3.6,0M152.10,211.41a1.8,1.8 0 1,0 3.6,0a1.8,1.8 0 1,0 -3.6,0M151.29,210.71a1.8,1.8 0 1,0 3.6,0a1.8,1.8 0 1,0 -3.6,0M153.72,211.08a1.8,1.8 0 1,0 3.6,0a1.8,1.8 0 1,0 -3.6,0M153.04,210.43a1.8,1.8 0 1,0 3.6,0a1.8,1.8 0 1,0 -3.6,0M153.61,210.18a1.8,1.8 0 1,0 3.6,0a1.8,1.8 0 1,0 -3.6,0M151.84,209.16a1.8,1.8 0 1,0 3.6,0a1.8,1.8 0 1,0 -3.6,0M154.02,209.45a1.8,1.8 0 1,0 3.6,0a1.8,1.8 0 1,0 -3.6,0M152.11,208.21a1.8,1.8 0 1,0 3.6,0a1.8,1.8 0 1,0 -3.6,0M154.30,208.82a1.8,1.8 0 1,0 3.6,0a1.8,1.8 0 1,0 -3.6,0M153.47,207.92a1.8,1.8 0 1,0 3.6,0a1.8,1.8 0 1,0 -3.6,0M153.37,207.39a1.8,1.8 0 1,0 3.6,0a1.8,1.8 0 1,0 -3.6,0M154.10,207.28a1.8,1.8 0 1,0 3.6,0a1.8,1.8 0 1,0 -3.6,0M155.23,207.36a1.8,1.8 0 1,0 3.6,0a1.8,1.8 0 1,0 -3.6,0M153.77,206.15a1.8,1.8 0 1,0 3.6,0a1.8,1.8 0 1,0 -3.6,0M153.62,205.59a1.8,1.8 0 1,0 3.6,0a1.8,1.8 0 1,0 -3.6,0M154.81,205.71a1.8,1.8 0 1,0 3.6,0a1.8,1.8 0 1,0 -3.6,0M154.28,204.96a1.8,1.8 0 1,0 3.6,0a1.8,1.8 0 1,0 -3.6,0M154.14,204.41a1.8,1.8 0 1,0 3.6,0a1.8,1.8 0 1,0 -3.6,0M154.47,204.10a1.8,1.8 0 1,0 3.6,0a1.8,1.8 0 1,0 -3.6,0M154.38,203.57a1.8,1.8 0 1,0 3.6,0a1.8,1.8 0 1,0 -3.6,0M155.24,203.05a1.8,1.8 0 1,0 3.6,0a1.8,1.8 0 1,0 -3.6,0M155.91,202.98a1.8,1.8 0 1,0 3.6,0a1.8,1.8 0 1,0 -3.6,0M157.16,202.80a1.8,1.8 0 1,0 3.6,0a1.8,1.8 0 1,0 -3.6,0M156.32,203.84a1.8,1.8 0 1,0 3.6,0a1.8,1.8 0 1,0 -3.6,0M157.65,203.47a1.8,1.8 0 1,0 3.6,0a1.8,1.8 0 1,0 -3.6,0M157.38,204.14a1.8,1.8 0 1,0 3.6,0a1.8,1.8 0 1,0 -3.6,0M158.36,203.99a1.8,1.8 0 1,0 3.6,0a1.8,1.8 0 1,0 -3.6,0M158.19,204.59a1.8,1.8 0 1,0 3.6,0a1.8,1.8 0 1,0 -3.6,0M159.19,204.43a1.8,1.8 0 1,0 3.6,0a1.8,1.8 0 1,0 -3.6,0M158.87,205.13a1.8,1.8 0 1,0 3.6,0a1.8,1.8 0 1,0 -3.6,0M159.65,205.12a1.8,1.8 0 1,0 3.6,0a1.8,1.8 0 1,0 -3.6,0M158.20,206.57a1.8,1.8 0 1,0 3.6,0a1.8,1.8 0 1,0 -3.6,0M158.85,206.63a1.8,1.8 0 1,0 3.6,0a1.8,1.8 0 1,0 -3.6,0M159.88,206.35a1.8,1.8 0 1,0 3.6,0a1.8,1.8 0 1,0 -3.6,0M159.53,207.20a1.8,1.8 0 1,0 3.6,0a1.8,1.8 0 1,0 -3.6,0M158.81,208.35a1.8,1.8 0 1,0 3.6,0a1.8,1.8 0 1,0 -3.6,0M160.89,207.24a1.8,1.8 0 1,0 3.6,0a1.8,1.8 0 1,0 -3.6,0M159.62,208.84a1.8,1.8 0 1,0 3.6,0a1.8,1.8 0 1,0 -3.6,0M160.74,208.50a1.8,1.8 0 1,0 3.6,0a1.8,1.8 0 1,0 -3.6,0M160.88,208.96a1.8,1.8 0 1,0 3.6,0a1.8,1.8 0 1,0 -3.6,0M160.42,209.90a1.8,1.8 0 1,0 3.6,0a1.8,1.8 0 1,0 -3.6,0M161.66,209.47a1.8,1.8 0 1,0 3.6,0a1.8,1.8 0 1,0 -3.6,0M161.69,210.02a1.8,1.8 0 1,0 3.6,0a1.8,1.8 0 1,0 -3.6,0M161.95,210.64a1.8,1.8 0 1,0 3.6,0a1.8,1.8 0 1,0 -3.6,0M162.11,211.56a1.8,1.8 0 1,0 3.6,0a1.8,1.8 0 1,0 -3.6,0M163.09,210.00a1.8,1.8 0 1,0 3.6,0a1.8,1.8 0 1,0 -3.6,0M163.07,211.44a1.8,1.8 0 1,0 3.6,0a1.8,1.8 0 1,0 -3.6,0M163.60,211.24a1.8,1.8 0 1,0 3.6,0a1.8,1.8 0 1,0 -3.6,0M164.08,211.19a1.8,1.8 0 1,0 3.6,0a1.8,1.8 0 1,0 -3.6,0M164.70,210.72a1.8,1.8 0 1,0 3.6,0a1.8,1.8 0 1,0 -3.6,0M165.17,210.71a1.8,1.8 0 1,0 3.6,0a1.8,1.8 0 1,0 -3.6,0M165.91,210.09a1.8,1.8 0 1,0 3.6,0a1.8,1.8 0 1,0 -3.6,0M166.21,210.44a1.8,1.8 0 1,0 3.6,0a1.8,1.8 0 1,0 -3.6,0M166.65,210.43a1.8,1.8 0 1,0 3.6,0a1.8,1.8 0 1,0 -3.6,0M166.32,212.33a1.8,1.8 0 1,0 3.6,0a1.8,1.8 0 1,0 -3.6,0M167.20,211.21a1.8,1.8 0 1,0 3.6,0a1.8,1.8 0 1,0 -3.6,0M167.68,211.12a1.8,1.8 0 1,0 3.6,0a1.8,1.8 0 1,0 -3.6,0M168.13,211.07a1.8,1.8 0 1,0 3.6,0a1.8,1.8 0 1,0 -3.6,0M167.72,213.19a1.8,1.8 0 1,0 3.6,0a1.8,1.8 0 1,0 -3.6,0M168.06,213.41a1.8,1.8 0 1,0 3.6,0a1.8,1.8 0 1,0 -3.6,0M168.65,213.04a1.8,1.8 0 1,0 3.6,0a1.8,1.8 0 1,0 -3.6,0M169.43,212.18a1.8,1.8 0 1,0 3.6,0a1.8,1.8 0 1,0 -3.6,0M169.88,212.25a1.8,1.8 0 1,0 3.6,0a1.8,1.8 0 1,0 -3.6,0M170.25,212.55a1.8,1.8 0 1,0 3.6,0a1.8,1.8 0 1,0 -3.6,0M170.49,213.14a1.8,1.8 0 1,0 3.6,0a1.8,1.8 0 1,0 -3.6,0M171.22,212.53a1.8,1.8 0 1,0 3.6,0a1.8,1.8 0 1,0 -3.6,0M171.34,213.44a1.8,1.8 0 1,0 3.6,0a1.8,1.8 0 1,0 -3.6,0M171.18,213.34a1.8,1.8 0 1,0 3.6,0a1.8,1.8 0 1,0 -3.6,0M172.96,214.24a1.8,1.8 0 1,0 3.6,0a1.8,1.8 0 1,0 -3.6,0M173.24,213.94a1.8,1.8 0 1,0 3.6,0a1.8,1.8 0 1,0 -3.6,0M172.55,212.89a1.8,1.8 0 1,0 3.6,0a1.8,1.8 0 1,0 -3.6,0M172.14,212.05a1.8,1.8 0 1,0 3.6,0a1.8,1.8 0 1,0 -3.6,0M173.97,212.99a1.8,1.8 0 1,0 3.6,0a1.8,1.8 0 1,0 -3.6,0M172.78,211.53a1.8,1.8 0 1,0 3.6,0a1.8,1.8 0 1,0 -3.6,0M173.14,211.30a1.8,1.8 0 1,0 3.6,0a1.8,1.8 0 1,0 -3.6,0M172.61,210.36a1.8,1.8 0 1,0 3.6,0a1.8,1.8 0 1,0 -3.6,0M173.69,210.71a1.8,1.8 0 1,0 3.6,0a1.8,1.8 0 1,0 -3.6,0M174.26,210.56a1.8,1.8 0 1,0 3.6,0a1.8,1.8 0 1,0 -3.6,0M174.41,210.96a1.8,1.8 0 1,0 3.6,0a1.8,1.8 0 1,0 -3.6,0M175.35,210.87a1.8,1.8 0 1,0 3.6,0a1.8,1.8 0 1,0 -3.6,0M174.85,211.68a1.8,1.8 0 1,0 3.6,0a1.8,1.8 0 1,0 -3.6,0M176.26,211.30a1.8,1.8 0 1,0 3.6,0a1.8,1.8 0 1,0 -3.6,0M175.87,212.04a1.8,1.8 0 1,0 3.6,0a1.8,1.8 0 1,0 -3.6,0M176.50,212.14a1.8,1.8 0 1,0 3.6,0a1.8,1.8 0 1,0 -3.6,0M175.99,212.95a1.8,1.8 0 1,0 3.6,0a1.8,1.8 0 1,0 -3.6,0M177.06,212.78a1.8,1.8 0 1,0 3.6,0a1.8,1.8 0 1,0 -3.6,0M177.33,213.11a1.8,1.8 0 1,0 3.6,0a1.8,1.8 0 1,0 -3.6,0M176.88,213.88a1.8,1.8 0 1,0 3.6,0a1.8,1.8 0 1,0 -3.6,0M177.27,214.13a1.8,1.8 0 1,0 3.6,0a1.8,1.8 0 1,0 -3.6,0M176.65,215.01a1.8,1.8 0 1,0 3.6,0a1.8,1.8 0 1,0 -3.6,0M177.01,215.29a1.8,1.8 0 1,0 3.6,0a1.8,1.8 0 1,0 -3.6,0M177.43,216.29a1.8,1.8 0 1,0 3.6,0a1.8,1.8 0 1,0 -3.6,0M177.78,215.96a1.8,1.8 0 1,0 3.6,0a1.8,1.8 0 1,0 -3.6,0M178.20,216.04a1.8,1.8 0 1,0 3.6,0a1.8,1.8 0 1,0 -3.6,0M178.68,216.42a1.8,1.8 0 1,0 3.6,0a1.8,1.8 0 1,0 -3.6,0M178.82,215.00a1.8,1.8 0 1,0 3.6,0a1.8,1.8 0 1,0 -3.6,0M179.18,214.75a1.8,1.8 0 1,0 3.6,0a1.8,1.8 0 1,0 -3.6,0M179.92,216.48a1.8,1.8 0 1,0 3.6,0a1.8,1.8 0 1,0 -3.6,0M179.87,214.11a1.8,1.8 0 1,0 3.6,0a1.8,1.8 0 1,0 -3.6,0M180.77,215.54a1.8,1.8 0 1,0 3.6,0a1.8,1.8 0 1,0 -3.6,0M181.01,215.13a1.8,1.8 0 1,0 3.6,0a1.8,1.8 0 1,0 -3.6,0M180.49,213.48a1.8,1.8 0 1,0 3.6,0a1.8,1.8 0 1,0 -3.6,0M181.98,215.17a1.8,1.8 0 1,0 3.6,0a1.8,1.8 0 1,0 -3.6,0M182.42,215.10a1.8,1.8 0 1,0 3.6,0a1.8,1.8 0 1,0 -3.6,0M182.38,214.25a1.8,1.8 0 1,0 3.6,0a1.8,1.8 0 1,0 -3.6,0M182.89,214.29a1.8,1.8 0 1,0 3.6,0a1.8,1.8 0 1,0 -3.6,0M183.35,214.27a1.8,1.8 0 1,0 3.6,0a1.8,1.8 0 1,0 -3.6,0M182.73,212.45a1.8,1.8 0 1,0 3.6,0a1.8,1.8 0 1,0 -3.6,0M183.55,213.14a1.8,1.8 0 1,0 3.6,0a1.8,1.8 0 1,0 -3.6,0M183.83,213.45a1.8,1.8 0 1,0 3.6,0a1.8,1.8 0 1,0 -3.6,0M183.31,214.32a1.8,1.8 0 1,0 3.6,0a1.8,1.8 0 1,0 -3.6,0M183.62,214.61a1.8,1.8 0 1,0 3.6,0a1.8,1.8 0 1,0 -3.6,0M183.81,214.98a1.8,1.8 0 1,0 3.6,0a1.8,1.8 0 1,0 -3.6,0M184.60,214.93a1.8,1.8 0 1,0 3.6,0a1.8,1.8 0 1,0 -3.6,0M184.13,215.76a1.8,1.8 0 1,0 3.6,0a1.8,1.8 0 1,0 -3.6,0M184.85,215.76a1.8,1.8 0 1,0 3.6,0a1.8,1.8 0 1,0 -3.6,0M185.07,216.12a1.8,1.8 0 1,0 3.6,0a1.8,1.8 0 1,0 -3.6,0M186.36,215.71a1.8,1.8 0 1,0 3.6,0a1.8,1.8 0 1,0 -3.6,0M187.06,215.73a1.8,1.8 0 1,0 3.6,0a1.8,1.8 0 1,0 -3.6,0M187.06,216.23a1.8,1.8 0 1,0 3.6,0a1.8,1.8 0 1,0 -3.6,0M186.78,216.94a1.8,1.8 0 1,0 3.6,0a1.8,1.8 0 1,0 -3.6,0M186.20,216.51a1.8,1.8 0 1,0 3.6,0a1.8,1.8 0 1,0 -3.6,0M187.50,218.15a1.8,1.8 0 1,0 3.6,0a1.8,1.8 0 1,0 -3.6,0M187.52,217.27a1.8,1.8 0 1,0 3.6,0a1.8,1.8 0 1,0 -3.6,0M187.99,217.25a1.8,1.8 0 1,0 3.6,0a1.8,1.8 0 1,0 -3.6,0M188.36,217.06a1.8,1.8 0 1,0 3.6,0a1.8,1.8 0 1,0 -3.6,0M188.80,217.00a1.8,1.8 0 1,0 3.6,0a1.8,1.8 0 1,0 -3.6,0M188.94,216.33a1.8,1.8 0 1,0 3.6,0a1.8,1.8 0 1,0 -3.6,0M188.70,214.93a1.8,1.8 0 1,0 3.6,0a1.8,1.8 0 1,0 -3.6,0M190.08,216.72a1.8,1.8 0 1,0 3.6,0a1.8,1.8 0 1,0 -3.6,0M190.39,216.41a1.8,1.8 0 1,0 3.6,0a1.8,1.8 0 1,0 -3.6,0M190.44,215.61a1.8,1.8 0 1,0 3.6,0a1.8,1.8 0 1,0 -3.6,0M190.69,215.98a1.8,1.8 0 1,0 3.6,0a1.8,1.8 0 1,0 -3.6,0M190.76,216.54a1.8,1.8 0 1,0 3.6,0a1.8,1.8 0 1,0 -3.6,0M192.25,215.68a1.8,1.8 0 1,0 3.6,0a1.8,1.8 0 1,0 -3.6,0M191.23,217.32a1.8,1.8 0 1,0 3.6,0a1.8,1.8 0 1,0 -3.6,0M192.50,216.67a1.8,1.8 0 1,0 3.6,0a1.8,1.8 0 1,0 -3.6,0M193.17,216.63a1.8,1.8 0 1,0 3.6,0a1.8,1.8 0 1,0 -3.6,0M193.10,217.32a1.8,1.8 0 1,0 3.6,0a1.8,1.8 0 1,0 -3.6,0M192.74,218.71a1.8,1.8 0 1,0 3.6,0a1.8,1.8 0 1,0 -3.6,0M193.64,217.46a1.8,1.8 0 1,0 3.6,0a1.8,1.8 0 1,0 -3.6,0M193.56,219.02a1.8,1.8 0 1,0 3.6,0a1.8,1.8 0 1,0 -3.6,0M193.76,219.79a1.8,1.8 0 1,0 3.6,0a1.8,1.8 0 1,0 -3.6,0M194.62,218.66a1.8,1.8 0 1,0 3.6,0a1.8,1.8 0 1,0 -3.6,0M195.14,218.51a1.8,1.8 0 1,0 3.6,0a1.8,1.8 0 1,0 -3.6,0M195.47,218.91a1.8,1.8 0 1,0 3.6,0a1.8,1.8 0 1,0 -3.6,0M195.70,219.60a1.8,1.8 0 1,0 3.6,0a1.8,1.8 0 1,0 -3.6,0M196.04,219.96a1.8,1.8 0 1,0 3.6,0a1.8,1.8 0 1,0 -3.6,0M196.81,219.71a1.8,1.8 0 1,0 3.6,0a1.8,1.8 0 1,0 -3.6,0M197.25,219.63a1.8,1.8 0 1,0 3.6,0a1.8,1.8 0 1,0 -3.6,0M197.15,217.99a1.8,1.8 0 1,0 3.6,0a1.8,1.8 0 1,0 -3.6,0M197.63,218.03a1.8,1.8 0 1,0 3.6,0a1.8,1.8 0 1,0 -3.6,0M198.14,218.17a1.8,1.8 0 1,0 3.6,0a1.8,1.8 0 1,0 -3.6,0M199.01,219.32a1.8,1.8 0 1,0 3.6,0a1.8,1.8 0 1,0 -3.6,0M199.02,218.02a1.8,1.8 0 1,0 3.6,0a1.8,1.8 0 1,0 -3.6,0M199.68,218.57a1.8,1.8 0 1,0 3.6,0a1.8,1.8 0 1,0 -3.6,0M199.59,216.95a1.8,1.8 0 1,0 3.6,0a1.8,1.8 0 1,0 -3.6,0M199.38,217.49a1.8,1.8 0 1,0 3.6,0a1.8,1.8 0 1,0 -3.6,0M200.10,217.41a1.8,1.8 0 1,0 3.6,0a1.8,1.8 0 1,0 -3.6,0M201.28,217.61a1.8,1.8 0 1,0 3.6,0a1.8,1.8 0 1,0 -3.6,0M201.54,217.28a1.8,1.8 0 1,0 3.6,0a1.8,1.8 0 1,0 -3.6,0M201.71,216.90a1.8,1.8 0 1,0 3.6,0a1.8,1.8 0 1,0 -3.6,0M200.98,216.00a1.8,1.8 0 1,0 3.6,0a1.8,1.8 0 1,0 -3.6,0M201.74,215.95a1.8,1.8 0 1,0 3.6,0a1.8,1.8 0 1,0 -3.6,0M201.82,215.51a1.8,1.8 0 1,0 3.6,0a1.8,1.8 0 1,0 -3.6,0M202.03,215.15a1.8,1.8 0 1,0 3.6,0a1.8,1.8 0 1,0 -3.6,0M201.40,214.31a1.8,1.8 0 1,0 3.6,0a1.8,1.8 0 1,0 -3.6,0M203.49,215.02a1.8,1.8 0 1,0 3.6,0a1.8,1.8 0 1,0 -3.6,0M202.01,213.69a1.8,1.8 0 1,0 3.6,0a1.8,1.8 0 1,0 -3.6,0M203.69,214.86a1.8,1.8 0 1,0 3.6,0a1.8,1.8 0 1,0 -3.6,0M203.97,214.54a1.8,1.8 0 1,0 3.6,0a1.8,1.8 0 1,0 -3.6,0M202.88,212.17a1.8,1.8 0 1,0 3.6,0a1.8,1.8 0 1,0 -3.6,0M203.91,212.97a1.8,1.8 0 1,0 3.6,0a1.8,1.8 0 1,0 -3.6,0M204.81,213.59a1.8,1.8 0 1,0 3.6,0a1.8,1.8 0 1,0 -3.6,0M205.38,213.70a1.8,1.8 0 1,0 3.6,0a1.8,1.8 0 1,0 -3.6,0M204.92,212.27a1.8,1.8 0 1,0 3.6,0a1.8,1.8 0 1,0 -3.6,0M204.98,211.62a1.8,1.8 0 1,0 3.6,0a1.8,1.8 0 1,0 -3.6,0M205.23,211.26a1.8,1.8 0 1,0 3.6,0a1.8,1.8 0 1,0 -3.6,0M206.71,212.74a1.8,1.8 0 1,0 3.6,0a1.8,1.8 0 1,0 -3.6,0M205.91,210.80a1.8,1.8 0 1,0 3.6,0a1.8,1.8 0 1,0 -3.6,0M206.90,211.35a1.8,1.8 0 1,0 3.6,0a1.8,1.8 0 1,0 -3.6,0M205.98,210.44a1.8,1.8 0 1,0 3.6,0a1.8,1.8 0 1,0 -3.6,0M207.13,210.54a1.8,1.8 0 1,0 3.6,0a1.8,1.8 0 1,0 -3.6,0M208.38,210.71a1.8,1.8 0 1,0 3.6,0a1.8,1.8 0 1,0 -3.6,0M206.51,209.32a1.8,1.8 0 1,0 3.6,0a1.8,1.8 0 1,0 -3.6,0M208.41,209.81a1.8,1.8 0 1,0 3.6,0a1.8,1.8 0 1,0 -3.6,0M207.82,209.05a1.8,1.8 0 1,0 3.6,0a1.8,1.8 0 1,0 -3.6,0M208.95,209.16a1.8,1.8 0 1,0 3.6,0a1.8,1.8 0 1,0 -3.6,0M208.67,208.56a1.8,1.8 0 1,0 3.6,0a1.8,1.8 0 1,0 -3.6,0M207.67,207.61a1.8,1.8 0 1,0 3.6,0a1.8,1.8 0 1,0 -3.6,0M209.52,208.07a1.8,1.8 0 1,0 3.6,0a1.8,1.8 0 1,0 -3.6,0M208.67,207.19a1.8,1.8 0 1,0 3.6,0a1.8,1.8 0 1,0 -3.6,0M207.70,206.25a1.8,1.8 0 1,0 3.6,0a1.8,1.8 0 1,0 -3.6,0M207.83,205.85a1.8,1.8 0 1,0 3.6,0a1.8,1.8 0 1,0 -3.6,0M209.23,206.09a1.8,1.8 0 1,0 3.6,0a1.8,1.8 0 1,0 -3.6,0M209.31,205.67a1.8,1.8 0 1,0 3.6,0a1.8,1.8 0 1,0 -3.6,0M209.12,205.12a1.8,1.8 0 1,0 3.6,0a1.8,1.8 0 1,0 -3.6,0M208.92,204.51a1.8,1.8 0 1,0 3.6,0a1.8,1.8 0 1,0 -3.6,0M209.62,204.44a1.8,1.8 0 1,0 3.6,0a1.8,1.8 0 1,0 -3.6,0M209.74,204.05a1.8,1.8 0 1,0 3.6,0a1.8,1.8 0 1,0 -3.6,0M211.22,204.42a1.8,1.8 0 1,0 3.6,0a1.8,1.8 0 1,0 -3.6,0M209.37,202.92a1.8,1.8 0 1,0 3.6,0a1.8,1.8 0 1,0 -3.6,0M211.40,203.59a1.8,1.8 0 1,0 3.6,0a1.8,1.8 0 1,0 -3.6,0M211.81,203.37a1.8,1.8 0 1,0 3.6,0a1.8,1.8 0 1,0 -3.6,0M210.25,202.03a1.8,1.8 0 1,0 3.6,0a1.8,1.8 0 1,0 -3.6,0M212.42,202.79a1.8,1.8 0 1,0 3.6,0a1.8,1.8 0 1,0 -3.6,0M212.09,202.14a1.8,1.8 0 1,0 3.6,0a1.8,1.8 0 1,0 -3.6,0M212.75,202.05a1.8,1.8 0 1,0 3.6,0a1.8,1.8 0 1,0 -3.6,0M211.45,200.86a1.8,1.8 0 1,0 3.6,0a1.8,1.8 0 1,0 -3.6,0M211.85,200.62a1.8,1.8 0 1,0 3.6,0a1.8,1.8 0 1,0 -3.6,0M212.10,200.30a1.8,1.8 0 1,0 3.6,0a1.8,1.8 0 1,0 -3.6,0M213.77,200.78a1.8,1.8 0 1,0 3.6,0a1.8,1.8 0 1,0 -3.6,0M212.97,199.87a1.8,1.8 0 1,0 3.6,0a1.8,1.8 0 1,0 -3.6,0M213.04,199.02a1.8,1.8 0 1,0 3.6,0a1.8,1.8 0 1,0 -3.6,0M213.41,199.30a1.8,1.8 0 1,0 3.6,0a1.8,1.8 0 1,0 -3.6,0M213.93,198.99a1.8,1.8 0 1,0 3.6,0a1.8,1.8 0 1,0 -3.6,0M214.50,198.47a1.8,1.8 0 1,0 3.6,0a1.8,1.8 0 1,0 -3.6,0M214.88,198.72a1.8,1.8 0 1,0 3.6,0a1.8,1.8 0 1,0 -3.6,0M214.81,200.81a1.8,1.8 0 1,0 3.6,0a1.8,1.8 0 1,0 -3.6,0M214.70,196.50a1.8,1.8 0 1,0 3.6,0a1.8,1.8 0 1,0 -3.6,0M221.70,197.50a1.8,1.8 0 1,0 3.6,0a1.8,1.8 0 1,0 -3.6,0M222.70,191.50a1.8,1.8 0 1,0 3.6,0a1.8,1.8 0 1,0 -3.6,0M225.70,195.50a1.8,1.8 0 1,0 3.6,0a1.8,1.8 0 1,0 -3.6,0M226.70,190.50a1.8,1.8 0 1,0 3.6,0a1.8,1.8 0 1,0 -3.6,0M224.70,183.50a1.8,1.8 0 1,0 3.6,0a1.8,1.8 0 1,0 -3.6,0M224.70,179.50a1.8,1.8 0 1,0 3.6,0a1.8,1.8 0 1,0 -3.6,0M228.70,186.50a1.8,1.8 0 1,0 3.6,0a1.8,1.8 0 1,0 -3.6,0M229.70,183.50a1.8,1.8 0 1,0 3.6,0a1.8,1.8 0 1,0 -3.6,0M231.70,178.50a1.8,1.8 0 1,0 3.6,0a1.8,1.8 0 1,0 -3.6,0M231.70,173.50a1.8,1.8 0 1,0 3.6,0a1.8,1.8 0 1,0 -3.6,0M233.70,169.50a1.8,1.8 0 1,0 3.6,0a1.8,1.8 0 1,0 -3.6,0M233.70,163.50a1.8,1.8 0 1,0 3.6,0a1.8,1.8 0 1,0 -3.6,0M234.70,156.50a1.8,1.8 0 1,0 3.6,0a1.8,1.8 0 1,0 -3.6,0M235.70,154.50a1.8,1.8 0 1,0 3.6,0a1.8,1.8 0 1,0 -3.6,0M234.70,150.50a1.8,1.8 0 1,0 3.6,0a1.8,1.8 0 1,0 -3.6,0M237.70,151.50a1.8,1.8 0 1,0 3.6,0a1.8,1.8 0 1,0 -3.6,0M239.70,149.50a1.8,1.8 0 1,0 3.6,0a1.8,1.8 0 1,0 -3.6,0M239.70,145.50a1.8,1.8 0 1,0 3.6,0a1.8,1.8 0 1,0 -3.6,0M241.70,140.50a1.8,1.8 0 1,0 3.6,0a1.8,1.8 0 1,0 -3.6,0M243.70,141.50a1.8,1.8 0 1,0 3.6,0a1.8,1.8 0 1,0 -3.6,0M244.70,145.50a1.8,1.8 0 1,0 3.6,0a1.8,1.8 0 1,0 -3.6,0M244.70,150.50a1.8,1.8 0 1,0 3.6,0a1.8,1.8 0 1,0 -3.6,0M246.70,153.50a1.8,1.8 0 1,0 3.6,0a1.8,1.8 0 1,0 -3.6,0M246.70,159.50a1.8,1.8 0 1,0 3.6,0a1.8,1.8 0 1,0 -3.6,0M248.70,160.50a1.8,1.8 0 1,0 3.6,0a1.8,1.8 0 1,0 -3.6,0M251.70,160.50a1.8,1.8 0 1,0 3.6,0a1.8,1.8 0 1,0 -3.6,0M247.70,168.50a1.8,1.8 0 1,0 3.6,0a1.8,1.8 0 1,0 -3.6,0M251.70,154.50a1.8,1.8 0 1,0 3.6,0a1.8,1.8 0 1,0 -3.6,0M252.70,139.50a1.8,1.8 0 1,0 3.6,0a1.8,1.8 0 1,0 -3.6,0M252.70,146.50a1.8,1.8 0 1,0 3.6,0a1.8,1.8 0 1,0 -3.6,0M241.70,139.50a1.8,1.8 0 1,0 3.6,0a1.8,1.8 0 1,0 -3.6,0M239.70,143.50a1.8,1.8 0 1,0 3.6,0a1.8,1.8 0 1,0 -3.6,0M270.70,144.50a1.8,1.8 0 1,0 3.6,0a1.8,1.8 0 1,0 -3.6,0M283.70,139.50a1.8,1.8 0 1,0 3.6,0a1.8,1.8 0 1,0 -3.6,0M290.70,142.50a1.8,1.8 0 1,0 3.6,0a1.8,1.8 0 1,0 -3.6,0M244.70,124.50a1.8,1.8 0 1,0 3.6,0a1.8,1.8 0 1,0 -3.6,0M244.70,129.50a1.8,1.8 0 1,0 3.6,0a1.8,1.8 0 1,0 -3.6,0M252.70,124.50a1.8,1.8 0 1,0 3.6,0a1.8,1.8 0 1,0 -3.6,0M254.70,120.50a1.8,1.8 0 1,0 3.6,0a1.8,1.8 0 1,0 -3.6,0M257.70,122.50a1.8,1.8 0 1,0 3.6,0a1.8,1.8 0 1,0 -3.6,0M259.70,120.50a1.8,1.8 0 1,0 3.6,0a1.8,1.8 0 1,0 -3.6,0M256.70,128.50a1.8,1.8 0 1,0 3.6,0a1.8,1.8 0 1,0 -3.6,0M258.70,130.50a1.8,1.8 0 1,0 3.6,0a1.8,1.8 0 1,0 -3.6,0M260.70,132.50a1.8,1.8 0 1,0 3.6,0a1.8,1.8 0 1,0 -3.6,0M259.70,126.50a1.8,1.8 0 1,0 3.6,0a1.8,1.8 0 1,0 -3.6,0M267.70,125.50a1.8,1.8 0 1,0 3.6,0a1.8,1.8 0 1,0 -3.6,0M272.70,124.50a1.8,1.8 0 1,0 3.6,0a1.8,1.8 0 1,0 -3.6,0M282.70,124.50a1.8,1.8 0 1,0 3.6,0a1.8,1.8 0 1,0 -3.6,0M291.70,121.50a1.8,1.8 0 1,0 3.6,0a1.8,1.8 0 1,0 -3.6,0M291.70,128.50a1.8,1.8 0 1,0 3.6,0a1.8,1.8 0 1,0 -3.6,0M292.70,108.50a1.8,1.8 0 1,0 3.6,0a1.8,1.8 0 1,0 -3.6,0M253.70,109.50a1.8,1.8 0 1,0 3.6,0a1.8,1.8 0 1,0 -3.6,0M254.70,111.50a1.8,1.8 0 1,0 3.6,0a1.8,1.8 0 1,0 -3.6,0M254.70,115.50a1.8,1.8 0 1,0 3.6,0a1.8,1.8 0 1,0 -3.6,0M261.70,106.50a1.8,1.8 0 1,0 3.6,0a1.8,1.8 0 1,0 -3.6,0M261.70,102.50a1.8,1.8 0 1,0 3.6,0a1.8,1.8 0 1,0 -3.6,0M262.70,95.50a1.8,1.8 0 1,0 3.6,0a1.8,1.8 0 1,0 -3.6,0M262.70,98.50a1.8,1.8 0 1,0 3.6,0a1.8,1.8 0 1,0 -3.6,0M263.70,90.50a1.8,1.8 0 1,0 3.6,0a1.8,1.8 0 1,0 -3.6,0M264.70,83.50a1.8,1.8 0 1,0 3.6,0a1.8,1.8 0 1,0 -3.6,0M264.70,85.50a1.8,1.8 0 1,0 3.6,0a1.8,1.8 0 1,0 -3.6,0M265.70,86.50a1.8,1.8 0 1,0 3.6,0a1.8,1.8 0 1,0 -3.6,0M266.70,91.50a1.8,1.8 0 1,0 3.6,0a1.8,1.8 0 1,0 -3.6,0M267.70,95.50a1.8,1.8 0 1,0 3.6,0a1.8,1.8 0 1,0 -3.6,0M271.70,96.50a1.8,1.8 0 1,0 3.6,0a1.8,1.8 0 1,0 -3.6,0M272.70,102.50a1.8,1.8 0 1,0 3.6,0a1.8,1.8 0 1,0 -3.6,0M271.70,104.50a1.8,1.8 0 1,0 3.6,0a1.8,1.8 0 1,0 -3.6,0M279.70,75.50a1.8,1.8 0 1,0 3.6,0a1.8,1.8 0 1,0 -3.6,0M279.70,80.50a1.8,1.8 0 1,0 3.6,0a1.8,1.8 0 1,0 -3.6,0M280.70,85.50a1.8,1.8 0 1,0 3.6,0a1.8,1.8 0 1,0 -3.6,0M282.70,83.50a1.8,1.8 0 1,0 3.6,0a1.8,1.8 0 1,0 -3.6,0M279.70,91.50a1.8,1.8 0 1,0 3.6,0a1.8,1.8 0 1,0 -3.6,0M281.70,95.50a1.8,1.8 0 1,0 3.6,0a1.8,1.8 0 1,0 -3.6,0M282.70,97.50a1.8,1.8 0 1,0 3.6,0a1.8,1.8 0 1,0 -3.6,0M281.70,102.50a1.8,1.8 0 1,0 3.6,0a1.8,1.8 0 1,0 -3.6,0M293.70,80.50a1.8,1.8 0 1,0 3.6,0a1.8,1.8 0 1,0 -3.6,0M293.70,90.50a1.8,1.8 0 1,0 3.6,0a1.8,1.8 0 1,0 -3.6,0M293.70,95.50a1.8,1.8 0 1,0 3.6,0a1.8,1.8 0 1,0 -3.6,0M292.70,100.50a1.8,1.8 0 1,0 3.6,0a1.8,1.8 0 1,0 -3.6,0M266.70,85.50a1.8,1.8 0 1,0 3.6,0a1.8,1.8 0 1,0 -3.6,0M266.70,91.50a1.8,1.8 0 1,0 3.6,0a1.8,1.8 0 1,0 -3.6,0M271.70,96.50a1.8,1.8 0 1,0 3.6,0a1.8,1.8 0 1,0 -3.6,0M271.70,104.50a1.8,1.8 0 1,0 3.6,0a1.8,1.8 0 1,0 -3.6,0M279.70,75.50a1.8,1.8 0 1,0 3.6,0a1.8,1.8 0 1,0 -3.6,0M279.70,80.50a1.8,1.8 0 1,0 3.6,0a1.8,1.8 0 1,0 -3.6,0M281.70,83.50a1.8,1.8 0 1,0 3.6,0a1.8,1.8 0 1,0 -3.6,0M280.70,85.50a1.8,1.8 0 1,0 3.6,0a1.8,1.8 0 1,0 -3.6,0M280.70,90.50a1.8,1.8 0 1,0 3.6,0a1.8,1.8 0 1,0 -3.6,0M281.70,95.50a1.8,1.8 0 1,0 3.6,0a1.8,1.8 0 1,0 -3.6,0M281.70,98.50a1.8,1.8 0 1,0 3.6,0a1.8,1.8 0 1,0 -3.6,0M281.70,102.50a1.8,1.8 0 1,0 3.6,0a1.8,1.8 0 1,0 -3.6,0M295.70,76.50a1.8,1.8 0 1,0 3.6,0a1.8,1.8 0 1,0 -3.6,0M294.70,80.50a1.8,1.8 0 1,0 3.6,0a1.8,1.8 0 1,0 -3.6,0M299.70,78.50a1.8,1.8 0 1,0 3.6,0a1.8,1.8 0 1,0 -3.6,0M304.70,74.50a1.8,1.8 0 1,0 3.6,0a1.8,1.8 0 1,0 -3.6,0M306.70,77.50a1.8,1.8 0 1,0 3.6,0a1.8,1.8 0 1,0 -3.6,0M304.70,80.50a1.8,1.8 0 1,0 3.6,0a1.8,1.8 0 1,0 -3.6,0M301.70,82.50a1.8,1.8 0 1,0 3.6,0a1.8,1.8 0 1,0 -3.6,0M304.70,83.50a1.8,1.8 0 1,0 3.6,0a1.8,1.8 0 1,0 -3.6,0M299.70,85.50a1.8,1.8 0 1,0 3.6,0a1.8,1.8 0 1,0 -3.6,0M302.70,86.50a1.8,1.8 0 1,0 3.6,0a1.8,1.8 0 1,0 -3.6,0M301.70,82.50a1.8,1.8 0 1,0 3.6,0a1.8,1.8 0 1,0 -3.6,0M302.70,92.50a1.8,1.8 0 1,0 3.6,0a1.8,1.8 0 1,0 -3.6,0M294.70,90.50a1.8,1.8 0 1,0 3.6,0a1.8,1.8 0 1,0 -3.6,0M293.70,95.50a1.8,1.8 0 1,0 3.6,0a1.8,1.8 0 1,0 -3.6,0M292.70,98.50a1.8,1.8 0 1,0 3.6,0a1.8,1.8 0 1,0 -3.6,0M291.70,108.50a1.8,1.8 0 1,0 3.6,0a1.8,1.8 0 1,0 -3.6,0M291.70,121.50a1.8,1.8 0 1,0 3.6,0a1.8,1.8 0 1,0 -3.6,0M291.70,124.50a1.8,1.8 0 1,0 3.6,0a1.8,1.8 0 1,0 -3.6,0M291.70,128.50a1.8,1.8 0 1,0 3.6,0a1.8,1.8 0 1,0 -3.6,0M291.70,130.50a1.8,1.8 0 1,0 3.6,0a1.8,1.8 0 1,0 -3.6,0M283.70,138.50a1.8,1.8 0 1,0 3.6,0a1.8,1.8 0 1,0 -3.6,0M270.70,145.50a1.8,1.8 0 1,0 3.6,0a1.8,1.8 0 1,0 -3.6,0M272.70,149.50a1.8,1.8 0 1,0 3.6,0a1.8,1.8 0 1,0 -3.6,0M268.70,152.50a1.8,1.8 0 1,0 3.6,0a1.8,1.8 0 1,0 -3.6,0M270.70,159.50a1.8,1.8 0 1,0 3.6,0a1.8,1.8 0 1,0 -3.6,0M268.70,161.50a1.8,1.8 0 1,0 3.6,0a1.8,1.8 0 1,0 -3.6,0M273.70,163.50a1.8,1.8 0 1,0 3.6,0a1.8,1.8 0 1,0 -3.6,0M270.70,165.50a1.8,1.8 0 1,0 3.6,0a1.8,1.8 0 1,0 -3.6,0M269.70,170.50a1.8,1.8 0 1,0 3.6,0a1.8,1.8 0 1,0 -3.6,0M268.70,173.50a1.8,1.8 0 1,0 3.6,0a1.8,1.8 0 1,0 -3.6,0M269.70,174.50a1.8,1.8 0 1,0 3.6,0a1.8,1.8 0 1,0 -3.6,0M283.70,140.50a1.8,1.8 0 1,0 3.6,0a1.8,1.8 0 1,0 -3.6,0M290.70,148.50a1.8,1.8 0 1,0 3.6,0a1.8,1.8 0 1,0 -3.6,0M283.70,159.50a1.8,1.8 0 1,0 3.6,0a1.8,1.8 0 1,0 -3.6,0M284.70,159.50a1.8,1.8 0 1,0 3.6,0a1.8,1.8 0 1,0 -3.6,0M289.70,158.50a1.8,1.8 0 1,0 3.6,0a1.8,1.8 0 1,0 -3.6,0M284.70,178.50a1.8,1.8 0 1,0 3.6,0a1.8,1.8 0 1,0 -3.6,0M289.70,187.50a1.8,1.8 0 1,0 3.6,0a1.8,1.8 0 1,0 -3.6,0M284.70,196.50a1.8,1.8 0 1,0 3.6,0a1.8,1.8 0 1,0 -3.6,0M287.70,198.50a1.8,1.8 0 1,0 3.6,0a1.8,1.8 0 1,0 -3.6,0M289.70,199.50a1.8,1.8 0 1,0 3.6,0a1.8,1.8 0 1,0 -3.6,0M286.70,201.50a1.8,1.8 0 1,0 3.6,0a1.8,1.8 0 1,0 -3.6,0M288.70,203.50a1.8,1.8 0 1,0 3.6,0a1.8,1.8 0 1,0 -3.6,0M285.70,205.50a1.8,1.8 0 1,0 3.6,0a1.8,1.8 0 1,0 -3.6,0M288.70,206.50a1.8,1.8 0 1,0 3.6,0a1.8,1.8 0 1,0 -3.6,0M285.70,208.50a1.8,1.8 0 1,0 3.6,0a1.8,1.8 0 1,0 -3.6,0M285.70,211.50a1.8,1.8 0 1,0 3.6,0a1.8,1.8 0 1,0 -3.6,0M288.70,212.50a1.8,1.8 0 1,0 3.6,0a1.8,1.8 0 1,0 -3.6,0M313.70,193.50a1.8,1.8 0 1,0 3.6,0a1.8,1.8 0 1,0 -3.6,0M317.70,196.50a1.8,1.8 0 1,0 3.6,0a1.8,1.8 0 1,0 -3.6,0M317.70,218.50a1.8,1.8 0 1,0 3.6,0a1.8,1.8 0 1,0 -3.6,0M276.70,239.50a1.8,1.8 0 1,0 3.6,0a1.8,1.8 0 1,0 -3.6,0M275.70,250.50a1.8,1.8 0 1,0 3.6,0a1.8,1.8 0 1,0 -3.6,0M276.70,250.50a1.8,1.8 0 1,0 3.6,0a1.8,1.8 0 1,0 -3.6,0M275.70,259.50a1.8,1.8 0 1,0 3.6,0a1.8,1.8 0 1,0 -3.6,0M274.70,262.50a1.8,1.8 0 1,0 3.6,0a1.8,1.8 0 1,0 -3.6,0M274.70,265.50a1.8,1.8 0 1,0 3.6,0a1.8,1.8 0 1,0 -3.6,0M273.70,286.50a1.8,1.8 0 1,0 3.6,0a1.8,1.8 0 1,0 -3.6,0M273.70,296.50a1.8,1.8 0 1,0 3.6,0a1.8,1.8 0 1,0 -3.6,0M297.70,261.50a1.8,1.8 0 1,0 3.6,0a1.8,1.8 0 1,0 -3.6,0M313.70,235.50a1.8,1.8 0 1,0 3.6,0a1.8,1.8 0 1,0 -3.6,0M316.70,234.50a1.8,1.8 0 1,0 3.6,0a1.8,1.8 0 1,0 -3.6,0M317.70,237.50a1.8,1.8 0 1,0 3.6,0a1.8,1.8 0 1,0 -3.6,0M314.70,248.50a1.8,1.8 0 1,0 3.6,0a1.8,1.8 0 1,0 -3.6,0M313.70,252.50a1.8,1.8 0 1,0 3.6,0a1.8,1.8 0 1,0 -3.6,0M315.70,255.50a1.8,1.8 0 1,0 3.6,0a1.8,1.8 0 1,0 -3.6,0M277.70,342.50a1.8,1.8 0 1,0 3.6,0a1.8,1.8 0 1,0 -3.6,0M277.70,359.50a1.8,1.8 0 1,0 3.6,0a1.8,1.8 0 1,0 -3.6,0M277.70,376.50a1.8,1.8 0 1,0 3.6,0a1.8,1.8 0 1,0 -3.6,0M312.70,304.50a1.8,1.8 0 1,0 3.6,0a1.8,1.8 0 1,0 -3.6,0M312.70,323.50a1.8,1.8 0 1,0 3.6,0a1.8,1.8 0 1,0 -3.6,0M312.70,325.50a1.8,1.8 0 1,0 3.6,0a1.8,1.8 0 1,0 -3.6,0M311.70,339.50a1.8,1.8 0 1,0 3.6,0a1.8,1.8 0 1,0 -3.6,0M311.70,343.50a1.8,1.8 0 1,0 3.6,0a1.8,1.8 0 1,0 -3.6,0M310.70,346.50a1.8,1.8 0 1,0 3.6,0a1.8,1.8 0 1,0 -3.6,0M310.70,354.50a1.8,1.8 0 1,0 3.6,0a1.8,1.8 0 1,0 -3.6,0M309.70,358.50a1.8,1.8 0 1,0 3.6,0a1.8,1.8 0 1,0 -3.6,0M309.70,362.50a1.8,1.8 0 1,0 3.6,0a1.8,1.8 0 1,0 -3.6,0M308.70,365.50a1.8,1.8 0 1,0 3.6,0a1.8,1.8 0 1,0 -3.6,0M308.70,367.50a1.8,1.8 0 1,0 3.6,0a1.8,1.8 0 1,0 -3.6,0M308.70,379.50a1.8,1.8 0 1,0 3.6,0a1.8,1.8 0 1,0 -3.6,0M277.70,376.50a1.8,1.8 0 1,0 3.6,0a1.8,1.8 0 1,0 -3.6,0M278.70,396.50a1.8,1.8 0 1,0 3.6,0a1.8,1.8 0 1,0 -3.6,0M278.70,403.50a1.8,1.8 0 1,0 3.6,0a1.8,1.8 0 1,0 -3.6,0M278.70,405.50a1.8,1.8 0 1,0 3.6,0a1.8,1.8 0 1,0 -3.6,0M297.70,385.50a1.8,1.8 0 1,0 3.6,0a1.8,1.8 0 1,0 -3.6,0M298.70,392.50a1.8,1.8 0 1,0 3.6,0a1.8,1.8 0 1,0 -3.6,0M298.70,397.50a1.8,1.8 0 1,0 3.6,0a1.8,1.8 0 1,0 -3.6,0M297.70,401.50a1.8,1.8 0 1,0 3.6,0a1.8,1.8 0 1,0 -3.6,0M296.70,403.50a1.8,1.8 0 1,0 3.6,0a1.8,1.8 0 1,0 -3.6,0M300.70,403.50a1.8,1.8 0 1,0 3.6,0a1.8,1.8 0 1,0 -3.6,0M299.70,407.50a1.8,1.8 0 1,0 3.6,0a1.8,1.8 0 1,0 -3.6,0M296.70,410.50a1.8,1.8 0 1,0 3.6,0a1.8,1.8 0 1,0 -3.6,0M300.70,410.50a1.8,1.8 0 1,0 3.6,0a1.8,1.8 0 1,0 -3.6,0M308.70,379.50a1.8,1.8 0 1,0 3.6,0a1.8,1.8 0 1,0 -3.6,0M307.70,396.50a1.8,1.8 0 1,0 3.6,0a1.8,1.8 0 1,0 -3.6,0M306.70,403.50a1.8,1.8 0 1,0 3.6,0a1.8,1.8 0 1,0 -3.6,0M307.70,404.50a1.8,1.8 0 1,0 3.6,0a1.8,1.8 0 1,0 -3.6,0M305.70,407.50a1.8,1.8 0 1,0 3.6,0a1.8,1.8 0 1,0 -3.6,0M306.70,409.50a1.8,1.8 0 1,0 3.6,0a1.8,1.8 0 1,0 -3.6,0M313.70,193.50a1.8,1.8 0 1,0 3.6,0a1.8,1.8 0 1,0 -3.6,0M318.70,194.50a1.8,1.8 0 1,0 3.6,0a1.8,1.8 0 1,0 -3.6,0M318.70,197.50a1.8,1.8 0 1,0 3.6,0a1.8,1.8 0 1,0 -3.6,0M318.70,218.50a1.8,1.8 0 1,0 3.6,0a1.8,1.8 0 1,0 -3.6,0M320.70,189.50a1.8,1.8 0 1,0 3.6,0a1.8,1.8 0 1,0 -3.6,0M322.70,188.50a1.8,1.8 0 1,0 3.6,0a1.8,1.8 0 1,0 -3.6,0M319.70,184.50a1.8,1.8 0 1,0 3.6,0a1.8,1.8 0 1,0 -3.6,0M319.70,180.50a1.8,1.8 0 1,0 3.6,0a1.8,1.8 0 1,0 -3.6,0M321.70,185.50a1.8,1.8 0 1,0 3.6,0a1.8,1.8 0 1,0 -3.6,0M324.70,185.50a1.8,1.8 0 1,0 3.6,0a1.8,1.8 0 1,0 -3.6,0M326.70,185.50a1.8,1.8 0 1,0 3.6,0a1.8,1.8 0 1,0 -3.6,0M328.70,180.50a1.8,1.8 0 1,0 3.6,0a1.8,1.8 0 1,0 -3.6,0M328.70,175.50a1.8,1.8 0 1,0 3.6,0a1.8,1.8 0 1,0 -3.6,0M330.70,180.50a1.8,1.8 0 1,0 3.6,0a1.8,1.8 0 1,0 -3.6,0M332.70,182.50a1.8,1.8 0 1,0 3.6,0a1.8,1.8 0 1,0 -3.6,0M331.70,177.50a1.8,1.8 0 1,0 3.6,0a1.8,1.8 0 1,0 -3.6,0M333.70,172.50a1.8,1.8 0 1,0 3.6,0a1.8,1.8 0 1,0 -3.6,0M333.70,167.50a1.8,1.8 0 1,0 3.6,0a1.8,1.8 0 1,0 -3.6,0M337.70,170.50a1.8,1.8 0 1,0 3.6,0a1.8,1.8 0 1,0 -3.6,0M334.70,160.50a1.8,1.8 0 1,0 3.6,0a1.8,1.8 0 1,0 -3.6,0M334.70,156.50a1.8,1.8 0 1,0 3.6,0a1.8,1.8 0 1,0 -3.6,0M336.70,158.50a1.8,1.8 0 1,0 3.6,0a1.8,1.8 0 1,0 -3.6,0M337.70,163.50a1.8,1.8 0 1,0 3.6,0a1.8,1.8 0 1,0 -3.6,0M337.70,175.50a1.8,1.8 0 1,0 3.6,0a1.8,1.8 0 1,0 -3.6,0M339.70,176.50a1.8,1.8 0 1,0 3.6,0a1.8,1.8 0 1,0 -3.6,0M340.70,179.50a1.8,1.8 0 1,0 3.6,0a1.8,1.8 0 1,0 -3.6,0M340.70,193.50a1.8,1.8 0 1,0 3.6,0a1.8,1.8 0 1,0 -3.6,0M341.70,205.50a1.8,1.8 0 1,0 3.6,0a1.8,1.8 0 1,0 -3.6,0M341.70,210.50a1.8,1.8 0 1,0 3.6,0a1.8,1.8 0 1,0 -3.6,0M342.70,213.50a1.8,1.8 0 1,0 3.6,0a1.8,1.8 0 1,0 -3.6,0M342.70,217.50a1.8,1.8 0 1,0 3.6,0a1.8,1.8 0 1,0 -3.6,0M342.70,213.50a1.8,1.8 0 1,0 3.6,0a1.8,1.8 0 1,0 -3.6,0M342.70,217.50a1.8,1.8 0 1,0 3.6,0a1.8,1.8 0 1,0 -3.6,0M342.70,221.50a1.8,1.8 0 1,0 3.6,0a1.8,1.8 0 1,0 -3.6,0M343.70,223.50a1.8,1.8 0 1,0 3.6,0a1.8,1.8 0 1,0 -3.6,0M343.70,229.50a1.8,1.8 0 1,0 3.6,0a1.8,1.8 0 1,0 -3.6,0M343.70,233.50a1.8,1.8 0 1,0 3.6,0a1.8,1.8 0 1,0 -3.6,0M345.70,238.50a1.8,1.8 0 1,0 3.6,0a1.8,1.8 0 1,0 -3.6,0M345.70,241.50a1.8,1.8 0 1,0 3.6,0a1.8,1.8 0 1,0 -3.6,0M345.70,245.50a1.8,1.8 0 1,0 3.6,0a1.8,1.8 0 1,0 -3.6,0M346.70,250.50a1.8,1.8 0 1,0 3.6,0a1.8,1.8 0 1,0 -3.6,0M347.70,255.50a1.8,1.8 0 1,0 3.6,0a1.8,1.8 0 1,0 -3.6,0M347.70,258.50a1.8,1.8 0 1,0 3.6,0a1.8,1.8 0 1,0 -3.6,0M350.70,254.50a1.8,1.8 0 1,0 3.6,0a1.8,1.8 0 1,0 -3.6,0M349.70,250.50a1.8,1.8 0 1,0 3.6,0a1.8,1.8 0 1,0 -3.6,0M351.70,247.50a1.8,1.8 0 1,0 3.6,0a1.8,1.8 0 1,0 -3.6,0M353.70,247.50a1.8,1.8 0 1,0 3.6,0a1.8,1.8 0 1,0 -3.6,0M318.70,218.50a1.8,1.8 0 1,0 3.6,0a1.8,1.8 0 1,0 -3.6,0M317.70,232.50a1.8,1.8 0 1,0 3.6,0a1.8,1.8 0 1,0 -3.6,0M313.70,235.50a1.8,1.8 0 1,0 3.6,0a1.8,1.8 0 1,0 -3.6,0M315.70,234.50a1.8,1.8 0 1,0 3.6,0a1.8,1.8 0 1,0 -3.6,0M316.70,250.50a1.8,1.8 0 1,0 3.6,0a1.8,1.8 0 1,0 -3.6,0M314.70,254.50a1.8,1.8 0 1,0 3.6,0a1.8,1.8 0 1,0 -3.6,0M315.70,255.50a1.8,1.8 0 1,0 3.6,0a1.8,1.8 0 1,0 -3.6,0M341.70,210.50a1.8,1.8 0 1,0 3.6,0a1.8,1.8 0 1,0 -3.6,0M342.70,221.50a1.8,1.8 0 1,0 3.6,0a1.8,1.8 0 1,0 -3.6,0M343.70,223.50a1.8,1.8 0 1,0 3.6,0a1.8,1.8 0 1,0 -3.6,0M343.70,229.50a1.8,1.8 0 1,0 3.6,0a1.8,1.8 0 1,0 -3.6,0M343.70,233.50a1.8,1.8 0 1,0 3.6,0a1.8,1.8 0 1,0 -3.6,0M345.70,241.50a1.8,1.8 0 1,0 3.6,0a1.8,1.8 0 1,0 -3.6,0M346.70,245.50a1.8,1.8 0 1,0 3.6,0a1.8,1.8 0 1,0 -3.6,0M346.70,250.50a1.8,1.8 0 1,0 3.6,0a1.8,1.8 0 1,0 -3.6,0M348.70,253.50a1.8,1.8 0 1,0 3.6,0a1.8,1.8 0 1,0 -3.6,0M347.70,258.50a1.8,1.8 0 1,0 3.6,0a1.8,1.8 0 1,0 -3.6,0M350.70,250.50a1.8,1.8 0 1,0 3.6,0a1.8,1.8 0 1,0 -3.6,0M352.70,240.50a1.8,1.8 0 1,0 3.6,0a1.8,1.8 0 1,0 -3.6,0M223.70,179.50a1.8,1.8 0 1,0 3.6,0a1.8,1.8 0 1,0 -3.6,0M223.70,183.50a1.8,1.8 0 1,0 3.6,0a1.8,1.8 0 1,0 -3.6,0M394.70,231.50a1.8,1.8 0 1,0 3.6,0a1.8,1.8 0 1,0 -3.6,0M394.70,225.50a1.8,1.8 0 1,0 3.6,0a1.8,1.8 0 1,0 -3.6,0M396.70,220.50a1.8,1.8 0 1,0 3.6,0a1.8,1.8 0 1,0 -3.6,0M395.70,215.50a1.8,1.8 0 1,0 3.6,0a1.8,1.8 0 1,0 -3.6,0M398.70,210.50a1.8,1.8 0 1,0 3.6,0a1.8,1.8 0 1,0 -3.6,0M399.70,205.50a1.8,1.8 0 1,0 3.6,0a1.8,1.8 0 1,0 -3.6,0M403.70,208.50a1.8,1.8 0 1,0 3.6,0a1.8,1.8 0 1,0 -3.6,0M404.70,211.50a1.8,1.8 0 1,0 3.6,0a1.8,1.8 0 1,0 -3.6,0M403.70,203.50a1.8,1.8 0 1,0 3.6,0a1.8,1.8 0 1,0 -3.6,0M403.70,195.50a1.8,1.8 0 1,0 3.6,0a1.8,1.8 0 1,0 -3.6,0M404.70,193.50a1.8,1.8 0 1,0 3.6,0a1.8,1.8 0 1,0 -3.6,0M405.70,189.50a1.8,1.8 0 1,0 3.6,0a1.8,1.8 0 1,0 -3.6,0M406.70,185.50a1.8,1.8 0 1,0 3.6,0a1.8,1.8 0 1,0 -3.6,0M406.70,172.50a1.8,1.8 0 1,0 3.6,0a1.8,1.8 0 1,0 -3.6,0M408.70,176.50a1.8,1.8 0 1,0 3.6,0a1.8,1.8 0 1,0 -3.6,0M411.70,175.50a1.8,1.8 0 1,0 3.6,0a1.8,1.8 0 1,0 -3.6,0M408.70,180.50a1.8,1.8 0 1,0 3.6,0a1.8,1.8 0 1,0 -3.6,0M413.70,183.50a1.8,1.8 0 1,0 3.6,0a1.8,1.8 0 1,0 -3.6,0M413.70,189.50a1.8,1.8 0 1,0 3.6,0a1.8,1.8 0 1,0 -3.6,0M417.70,190.50a1.8,1.8 0 1,0 3.6,0a1.8,1.8 0 1,0 -3.6,0M416.70,197.50a1.8,1.8 0 1,0 3.6,0a1.8,1.8 0 1,0 -3.6,0M418.70,200.50a1.8,1.8 0 1,0 3.6,0a1.8,1.8 0 1,0 -3.6,0M420.70,203.50a1.8,1.8 0 1,0 3.6,0a1.8,1.8 0 1,0 -3.6,0M418.70,207.50a1.8,1.8 0 1,0 3.6,0a1.8,1.8 0 1,0 -3.6,0M420.70,213.50a1.8,1.8 0 1,0 3.6,0a1.8,1.8 0 1,0 -3.6,0M421.70,217.50a1.8,1.8 0 1,0 3.6,0a1.8,1.8 0 1,0 -3.6,0M423.70,210.50a1.8,1.8 0 1,0 3.6,0a1.8,1.8 0 1,0 -3.6,0M425.70,205.50a1.8,1.8 0 1,0 3.6,0a1.8,1.8 0 1,0 -3.6,0M427.70,200.50a1.8,1.8 0 1,0 3.6,0a1.8,1.8 0 1,0 -3.6,0M428.70,195.50a1.8,1.8 0 1,0 3.6,0a1.8,1.8 0 1,0 -3.6,0M426.70,189.50a1.8,1.8 0 1,0 3.6,0a1.8,1.8 0 1,0 -3.6,0M427.70,185.50a1.8,1.8 0 1,0 3.6,0a1.8,1.8 0 1,0 -3.6,0M429.70,179.50a1.8,1.8 0 1,0 3.6,0a1.8,1.8 0 1,0 -3.6,0M433.70,183.50a1.8,1.8 0 1,0 3.6,0a1.8,1.8 0 1,0 -3.6,0M436.70,175.50a1.8,1.8 0 1,0 3.6,0a1.8,1.8 0 1,0 -3.6,0M437.70,181.50a1.8,1.8 0 1,0 3.6,0a1.8,1.8 0 1,0 -3.6,0M440.70,186.50a1.8,1.8 0 1,0 3.6,0a1.8,1.8 0 1,0 -3.6,0M439.70,190.50a1.8,1.8 0 1,0 3.6,0a1.8,1.8 0 1,0 -3.6,0M443.70,185.50a1.8,1.8 0 1,0 3.6,0a1.8,1.8 0 1,0 -3.6,0M443.70,176.50a1.8,1.8 0 1,0 3.6,0a1.8,1.8 0 1,0 -3.6,0M445.70,180.50a1.8,1.8 0 1,0 3.6,0a1.8,1.8 0 1,0 -3.6,0M446.70,160.50a1.8,1.8 0 1,0 3.6,0a1.8,1.8 0 1,0 -3.6,0M446.70,171.50a1.8,1.8 0 1,0 3.6,0a1.8,1.8 0 1,0 -3.6,0M448.70,191.50a1.8,1.8 0 1,0 3.6,0a1.8,1.8 0 1,0 -3.6,0M448.70,195.50a1.8,1.8 0 1,0 3.6,0a1.8,1.8 0 1,0 -3.6,0M450.70,175.50a1.8,1.8 0 1,0 3.6,0a1.8,1.8 0 1,0 -3.6,0M451.70,185.50a1.8,1.8 0 1,0 3.6,0a1.8,1.8 0 1,0 -3.6,0M450.70,175.50a1.8,1.8 0 1,0 3.6,0a1.8,1.8 0 1,0 -3.6,0M451.70,178.50a1.8,1.8 0 1,0 3.6,0a1.8,1.8 0 1,0 -3.6,0M449.70,183.50a1.8,1.8 0 1,0 3.6,0a1.8,1.8 0 1,0 -3.6,0M453.70,185.50a1.8,1.8 0 1,0 3.6,0a1.8,1.8 0 1,0 -3.6,0M451.70,189.50a1.8,1.8 0 1,0 3.6,0a1.8,1.8 0 1,0 -3.6,0M454.70,195.50a1.8,1.8 0 1,0 3.6,0a1.8,1.8 0 1,0 -3.6,0M454.70,204.50a1.8,1.8 0 1,0 3.6,0a1.8,1.8 0 1,0 -3.6,0M454.70,207.50a1.8,1.8 0 1,0 3.6,0a1.8,1.8 0 1,0 -3.6,0M456.70,181.50a1.8,1.8 0 1,0 3.6,0a1.8,1.8 0 1,0 -3.6,0M457.70,177.50a1.8,1.8 0 1,0 3.6,0a1.8,1.8 0 1,0 -3.6,0M458.70,174.50a1.8,1.8 0 1,0 3.6,0a1.8,1.8 0 1,0 -3.6,0M459.70,180.50a1.8,1.8 0 1,0 3.6,0a1.8,1.8 0 1,0 -3.6,0M460.70,186.50a1.8,1.8 0 1,0 3.6,0a1.8,1.8 0 1,0 -3.6,0M460.70,197.50a1.8,1.8 0 1,0 3.6,0a1.8,1.8 0 1,0 -3.6,0M461.70,203.50a1.8,1.8 0 1,0 3.6,0a1.8,1.8 0 1,0 -3.6,0M460.70,208.50a1.8,1.8 0 1,0 3.6,0a1.8,1.8 0 1,0 -3.6,0M463.70,190.50a1.8,1.8 0 1,0 3.6,0a1.8,1.8 0 1,0 -3.6,0M464.70,193.50a1.8,1.8 0 1,0 3.6,0a1.8,1.8 0 1,0 -3.6,0M464.70,198.50a1.8,1.8 0 1,0 3.6,0a1.8,1.8 0 1,0 -3.6,0M466.70,185.50a1.8,1.8 0 1,0 3.6,0a1.8,1.8 0 1,0 -3.6,0M467.70,180.50a1.8,1.8 0 1,0 3.6,0a1.8,1.8 0 1,0 -3.6,0M468.70,172.50a1.8,1.8 0 1,0 3.6,0a1.8,1.8 0 1,0 -3.6,0M468.70,177.50a1.8,1.8 0 1,0 3.6,0a1.8,1.8 0 1,0 -3.6,0M468.70,183.50a1.8,1.8 0 1,0 3.6,0a1.8,1.8 0 1,0 -3.6,0M469.70,193.50a1.8,1.8 0 1,0 3.6,0a1.8,1.8 0 1,0 -3.6,0M469.70,201.50a1.8,1.8 0 1,0 3.6,0a1.8,1.8 0 1,0 -3.6,0M472.70,203.50a1.8,1.8 0 1,0 3.6,0a1.8,1.8 0 1,0 -3.6,0M472.70,208.50a1.8,1.8 0 1,0 3.6,0a1.8,1.8 0 1,0 -3.6,0M473.70,181.50a1.8,1.8 0 1,0 3.6,0a1.8,1.8 0 1,0 -3.6,0M473.70,174.50a1.8,1.8 0 1,0 3.6,0a1.8,1.8 0 1,0 -3.6,0M474.70,168.50a1.8,1.8 0 1,0 3.6,0a1.8,1.8 0 1,0 -3.6,0M476.70,178.50a1.8,1.8 0 1,0 3.6,0a1.8,1.8 0 1,0 -3.6,0M478.70,183.50a1.8,1.8 0 1,0 3.6,0a1.8,1.8 0 1,0 -3.6,0M478.70,191.50a1.8,1.8 0 1,0 3.6,0a1.8,1.8 0 1,0 -3.6,0M480.70,185.50a1.8,1.8 0 1,0 3.6,0a1.8,1.8 0 1,0 -3.6,0M481.70,174.50a1.8,1.8 0 1,0 3.6,0a1.8,1.8 0 1,0 -3.6,0M482.70,170.50a1.8,1.8 0 1,0 3.6,0a1.8,1.8 0 1,0 -3.6,0M482.70,163.50a1.8,1.8 0 1,0 3.6,0a1.8,1.8 0 1,0 -3.6,0M483.70,160.50a1.8,1.8 0 1,0 3.6,0a1.8,1.8 0 1,0 -3.6,0M485.70,181.50a1.8,1.8 0 1,0 3.6,0a1.8,1.8 0 1,0 -3.6,0M486.70,186.50a1.8,1.8 0 1,0 3.6,0a1.8,1.8 0 1,0 -3.6,0M487.70,141.50a1.8,1.8 0 1,0 3.6,0a1.8,1.8 0 1,0 -3.6,0M487.70,144.50a1.8,1.8 0 1,0 3.6,0a1.8,1.8 0 1,0 -3.6,0M488.70,150.50a1.8,1.8 0 1,0 3.6,0a1.8,1.8 0 1,0 -3.6,0M488.70,155.50a1.8,1.8 0 1,0 3.6,0a1.8,1.8 0 1,0 -3.6,0M489.70,159.50a1.8,1.8 0 1,0 3.6,0a1.8,1.8 0 1,0 -3.6,0M488.70,163.50a1.8,1.8 0 1,0 3.6,0a1.8,1.8 0 1,0 -3.6,0M491.70,150.50a1.8,1.8 0 1,0 3.6,0a1.8,1.8 0 1,0 -3.6,0M492.70,165.50a1.8,1.8 0 1,0 3.6,0a1.8,1.8 0 1,0 -3.6,0M493.70,170.50a1.8,1.8 0 1,0 3.6,0a1.8,1.8 0 1,0 -3.6,0M493.70,174.50a1.8,1.8 0 1,0 3.6,0a1.8,1.8 0 1,0 -3.6,0M494.70,179.50a1.8,1.8 0 1,0 3.6,0a1.8,1.8 0 1,0 -3.6,0M496.70,160.50a1.8,1.8 0 1,0 3.6,0a1.8,1.8 0 1,0 -3.6,0M498.70,159.50a1.8,1.8 0 1,0 3.6,0a1.8,1.8 0 1,0 -3.6,0M498.70,150.50a1.8,1.8 0 1,0 3.6,0a1.8,1.8 0 1,0 -3.6,0M500.70,154.50a1.8,1.8 0 1,0 3.6,0a1.8,1.8 0 1,0 -3.6,0M499.70,168.50a1.8,1.8 0 1,0 3.6,0a1.8,1.8 0 1,0 -3.6,0M501.70,175.50a1.8,1.8 0 1,0 3.6,0a1.8,1.8 0 1,0 -3.6,0M503.70,180.50a1.8,1.8 0 1,0 3.6,0a1.8,1.8 0 1,0 -3.6,0M503.70,185.50a1.8,1.8 0 1,0 3.6,0a1.8,1.8 0 1,0 -3.6,0M506.70,186.50a1.8,1.8 0 1,0 3.6,0a1.8,1.8 0 1,0 -3.6,0M507.70,166.50a1.8,1.8 0 1,0 3.6,0a1.8,1.8 0 1,0 -3.6,0M504.70,188.50a1.8,1.8 0 1,0 3.6,0a1.8,1.8 0 1,0 -3.6,0M506.70,181.50a1.8,1.8 0 1,0 3.6,0a1.8,1.8 0 1,0 -3.6,0M505.70,185.50a1.8,1.8 0 1,0 3.6,0a1.8,1.8 0 1,0 -3.6,0M508.70,175.50a1.8,1.8 0 1,0 3.6,0a1.8,1.8 0 1,0 -3.6,0M508.70,166.50a1.8,1.8 0 1,0 3.6,0a1.8,1.8 0 1,0 -3.6,0M509.70,180.50a1.8,1.8 0 1,0 3.6,0a1.8,1.8 0 1,0 -3.6,0M512.70,188.50a1.8,1.8 0 1,0 3.6,0a1.8,1.8 0 1,0 -3.6,0M512.70,181.50a1.8,1.8 0 1,0 3.6,0a1.8,1.8 0 1,0 -3.6,0M513.70,170.50a1.8,1.8 0 1,0 3.6,0a1.8,1.8 0 1,0 -3.6,0M513.70,162.50a1.8,1.8 0 1,0 3.6,0a1.8,1.8 0 1,0 -3.6,0M513.70,155.50a1.8,1.8 0 1,0 3.6,0a1.8,1.8 0 1,0 -3.6,0M514.70,150.50a1.8,1.8 0 1,0 3.6,0a1.8,1.8 0 1,0 -3.6,0M515.70,145.50a1.8,1.8 0 1,0 3.6,0a1.8,1.8 0 1,0 -3.6,0M517.70,165.50a1.8,1.8 0 1,0 3.6,0a1.8,1.8 0 1,0 -3.6,0M518.70,158.50a1.8,1.8 0 1,0 3.6,0a1.8,1.8 0 1,0 -3.6,0M519.70,155.50a1.8,1.8 0 1,0 3.6,0a1.8,1.8 0 1,0 -3.6,0M521.70,160.50a1.8,1.8 0 1,0 3.6,0a1.8,1.8 0 1,0 -3.6,0M522.70,151.50a1.8,1.8 0 1,0 3.6,0a1.8,1.8 0 1,0 -3.6,0M523.70,166.50a1.8,1.8 0 1,0 3.6,0a1.8,1.8 0 1,0 -3.6,0M523.70,171.50a1.8,1.8 0 1,0 3.6,0a1.8,1.8 0 1,0 -3.6,0M523.70,175.50a1.8,1.8 0 1,0 3.6,0a1.8,1.8 0 1,0 -3.6,0M524.70,160.50a1.8,1.8 0 1,0 3.6,0a1.8,1.8 0 1,0 -3.6,0M525.70,130.50a1.8,1.8 0 1,0 3.6,0a1.8,1.8 0 1,0 -3.6,0M526.70,133.50a1.8,1.8 0 1,0 3.6,0a1.8,1.8 0 1,0 -3.6,0M525.70,135.50a1.8,1.8 0 1,0 3.6,0a1.8,1.8 0 1,0 -3.6,0M526.70,144.50a1.8,1.8 0 1,0 3.6,0a1.8,1.8 0 1,0 -3.6,0M526.70,150.50a1.8,1.8 0 1,0 3.6,0a1.8,1.8 0 1,0 -3.6,0M528.70,140.50a1.8,1.8 0 1,0 3.6,0a1.8,1.8 0 1,0 -3.6,0M529.70,145.50a1.8,1.8 0 1,0 3.6,0a1.8,1.8 0 1,0 -3.6,0M530.70,150.50a1.8,1.8 0 1,0 3.6,0a1.8,1.8 0 1,0 -3.6,0M532.70,155.50a1.8,1.8 0 1,0 3.6,0a1.8,1.8 0 1,0 -3.6,0M533.70,142.50a1.8,1.8 0 1,0 3.6,0a1.8,1.8 0 1,0 -3.6,0M534.70,148.50a1.8,1.8 0 1,0 3.6,0a1.8,1.8 0 1,0 -3.6,0M534.70,157.50a1.8,1.8 0 1,0 3.6,0a1.8,1.8 0 1,0 -3.6,0M537.70,152.50a1.8,1.8 0 1,0 3.6,0a1.8,1.8 0 1,0 -3.6,0M538.70,143.50a1.8,1.8 0 1,0 3.6,0a1.8,1.8 0 1,0 -3.6,0M539.70,146.50a1.8,1.8 0 1,0 3.6,0a1.8,1.8 0 1,0 -3.6,0M541.70,150.50a1.8,1.8 0 1,0 3.6,0a1.8,1.8 0 1,0 -3.6,0M541.70,164.50a1.8,1.8 0 1,0 3.6,0a1.8,1.8 0 1,0 -3.6,0M543.70,155.50a1.8,1.8 0 1,0 3.6,0a1.8,1.8 0 1,0 -3.6,0M543.70,160.50a1.8,1.8 0 1,0 3.6,0a1.8,1.8 0 1,0 -3.6,0M546.70,150.50a1.8,1.8 0 1,0 3.6,0a1.8,1.8 0 1,0 -3.6,0M547.70,155.50a1.8,1.8 0 1,0 3.6,0a1.8,1.8 0 1,0 -3.6,0M548.70,160.50a1.8,1.8 0 1,0 3.6,0a1.8,1.8 0 1,0 -3.6,0M550.70,146.50a1.8,1.8 0 1,0 3.6,0a1.8,1.8 0 1,0 -3.6,0M551.70,152.50a1.8,1.8 0 1,0 3.6,0a1.8,1.8 0 1,0 -3.6,0M552.70,163.50a1.8,1.8 0 1,0 3.6,0a1.8,1.8 0 1,0 -3.6,0M552.70,171.50a1.8,1.8 0 1,0 3.6,0a1.8,1.8 0 1,0 -3.6,0M553.70,158.50a1.8,1.8 0 1,0 3.6,0a1.8,1.8 0 1,0 -3.6,0M554.70,149.50a1.8,1.8 0 1,0 3.6,0a1.8,1.8 0 1,0 -3.6,0M556.70,153.50a1.8,1.8 0 1,0 3.6,0a1.8,1.8 0 1,0 -3.6,0M556.70,165.50a1.8,1.8 0 1,0 3.6,0a1.8,1.8 0 1,0 -3.6,0M556.70,175.50a1.8,1.8 0 1,0 3.6,0a1.8,1.8 0 1,0 -3.6,0M558.70,156.50a1.8,1.8 0 1,0 3.6,0a1.8,1.8 0 1,0 -3.6,0M560.70,160.50a1.8,1.8 0 1,0 3.6,0a1.8,1.8 0 1,0 -3.6,0M563.70,161.50a1.8,1.8 0 1,0 3.6,0a1.8,1.8 0 1,0 -3.6,0M565.70,155.50a1.8,1.8 0 1,0 3.6,0a1.8,1.8 0 1,0 -3.6,0M566.70,152.50a1.8,1.8 0 1,0 3.6,0a1.8,1.8 0 1,0 -3.6,0M568.70,161.50a1.8,1.8 0 1,0 3.6,0a1.8,1.8 0 1,0 -3.6,0M568.70,156.50a1.8,1.8 0 1,0 3.6,0a1.8,1.8 0 1,0 -3.6,0M570.70,150.50a1.8,1.8 0 1,0 3.6,0a1.8,1.8 0 1,0 -3.6,0M572.70,151.50a1.8,1.8 0 1,0 3.6,0a1.8,1.8 0 1,0 -3.6,0M573.70,158.50a1.8,1.8 0 1,0 3.6,0a1.8,1.8 0 1,0 -3.6,0M573.70,170.50a1.8,1.8 0 1,0 3.6,0a1.8,1.8 0 1,0 -3.6,0M354.70,240.50a1.8,1.8 0 1,0 3.6,0a1.8,1.8 0 1,0 -3.6,0M356.70,235.50a1.8,1.8 0 1,0 3.6,0a1.8,1.8 0 1,0 -3.6,0M359.70,231.50a1.8,1.8 0 1,0 3.6,0a1.8,1.8 0 1,0 -3.6,0M359.70,241.50a1.8,1.8 0 1,0 3.6,0a1.8,1.8 0 1,0 -3.6,0M363.70,231.50a1.8,1.8 0 1,0 3.6,0a1.8,1.8 0 1,0 -3.6,0M364.70,237.50a1.8,1.8 0 1,0 3.6,0a1.8,1.8 0 1,0 -3.6,0M366.70,235.50a1.8,1.8 0 1,0 3.6,0a1.8,1.8 0 1,0 -3.6,0M368.70,240.50a1.8,1.8 0 1,0 3.6,0a1.8,1.8 0 1,0 -3.6,0M371.70,246.50a1.8,1.8 0 1,0 3.6,0a1.8,1.8 0 1,0 -3.6,0M373.70,240.50a1.8,1.8 0 1,0 3.6,0a1.8,1.8 0 1,0 -3.6,0M373.70,232.50a1.8,1.8 0 1,0 3.6,0a1.8,1.8 0 1,0 -3.6,0M374.70,225.50a1.8,1.8 0 1,0 3.6,0a1.8,1.8 0 1,0 -3.6,0M375.70,213.50a1.8,1.8 0 1,0 3.6,0a1.8,1.8 0 1,0 -3.6,0M375.70,218.50a1.8,1.8 0 1,0 3.6,0a1.8,1.8 0 1,0 -3.6,0M378.70,220.50a1.8,1.8 0 1,0 3.6,0a1.8,1.8 0 1,0 -3.6,0M380.70,216.50a1.8,1.8 0 1,0 3.6,0a1.8,1.8 0 1,0 -3.6,0M383.70,217.50a1.8,1.8 0 1,0 3.6,0a1.8,1.8 0 1,0 -3.6,0M385.70,214.50a1.8,1.8 0 1,0 3.6,0a1.8,1.8 0 1,0 -3.6,0M387.70,218.50a1.8,1.8 0 1,0 3.6,0a1.8,1.8 0 1,0 -3.6,0M382.70,226.50a1.8,1.8 0 1,0 3.6,0a1.8,1.8 0 1,0 -3.6,0M389.70,225.50a1.8,1.8 0 1,0 3.6,0a1.8,1.8 0 1,0 -3.6,0M389.70,231.50a1.8,1.8 0 1,0 3.6,0a1.8,1.8 0 1,0 -3.6,0M394.70,231.50a1.8,1.8 0 1,0 3.6,0a1.8,1.8 0 1,0 -3.6,0M393.70,226.50a1.8,1.8 0 1,0 3.6,0a1.8,1.8 0 1,0 -3.6,0M395.70,222.50a1.8,1.8 0 1,0 3.6,0a1.8,1.8 0 1,0 -3.6,0M397.70,206.50a1.8,1.8 0 1,0 3.6,0a1.8,1.8 0 1,0 -3.6,0M349.70,251.50a1.8,1.8 0 1,0 3.6,0a1.8,1.8 0 1,0 -3.6,0M349.70,256.50a1.8,1.8 0 1,0 3.6,0a1.8,1.8 0 1,0 -3.6,0M352.70,247.50a1.8,1.8 0 1,0 3.6,0a1.8,1.8 0 1,0 -3.6,0M353.70,248.50a1.8,1.8 0 1,0 3.6,0a1.8,1.8 0 1,0 -3.6,0M353.70,241.50a1.8,1.8 0 1,0 3.6,0a1.8,1.8 0 1,0 -3.6,0M355.70,235.50a1.8,1.8 0 1,0 3.6,0a1.8,1.8 0 1,0 -3.6,0M356.70,239.50a1.8,1.8 0 1,0 3.6,0a1.8,1.8 0 1,0 -3.6,0M357.70,242.50a1.8,1.8 0 1,0 3.6,0a1.8,1.8 0 1,0 -3.6,0M358.70,244.50a1.8,1.8 0 1,0 3.6,0a1.8,1.8 0 1,0 -3.6,0M360.70,242.50a1.8,1.8 0 1,0 3.6,0a1.8,1.8 0 1,0 -3.6,0M359.70,231.50a1.8,1.8 0 1,0 3.6,0a1.8,1.8 0 1,0 -3.6,0M358.70,237.50a1.8,1.8 0 1,0 3.6,0a1.8,1.8 0 1,0 -3.6,0M361.70,237.50a1.8,1.8 0 1,0 3.6,0a1.8,1.8 0 1,0 -3.6,0M363.70,231.50a1.8,1.8 0 1,0 3.6,0a1.8,1.8 0 1,0 -3.6,0M363.70,235.50a1.8,1.8 0 1,0 3.6,0a1.8,1.8 0 1,0 -3.6,0M365.70,241.50a1.8,1.8 0 1,0 3.6,0a1.8,1.8 0 1,0 -3.6,0M367.70,235.50a1.8,1.8 0 1,0 3.6,0a1.8,1.8 0 1,0 -3.6,0M367.70,239.50a1.8,1.8 0 1,0 3.6,0a1.8,1.8 0 1,0 -3.6,0M369.70,242.50a1.8,1.8 0 1,0 3.6,0a1.8,1.8 0 1,0 -3.6,0M371.70,246.50a1.8,1.8 0 1,0 3.6,0a1.8,1.8 0 1,0 -3.6,0M374.70,225.50a1.8,1.8 0 1,0 3.6,0a1.8,1.8 0 1,0 -3.6,0M374.70,217.50a1.8,1.8 0 1,0 3.6,0a1.8,1.8 0 1,0 -3.6,0M375.70,220.50a1.8,1.8 0 1,0 3.6,0a1.8,1.8 0 1,0 -3.6,0M378.70,218.50a1.8,1.8 0 1,0 3.6,0a1.8,1.8 0 1,0 -3.6,0M379.70,222.50a1.8,1.8 0 1,0 3.6,0a1.8,1.8 0 1,0 -3.6,0M382.70,219.50a1.8,1.8 0 1,0 3.6,0a1.8,1.8 0 1,0 -3.6,0M384.70,216.50a1.8,1.8 0 1,0 3.6,0a1.8,1.8 0 1,0 -3.6,0M386.70,220.50a1.8,1.8 0 1,0 3.6,0a1.8,1.8 0 1,0 -3.6,0M388.70,218.50a1.8,1.8 0 1,0 3.6,0a1.8,1.8 0 1,0 -3.6,0M389.70,225.50a1.8,1.8 0 1,0 3.6,0a1.8,1.8 0 1,0 -3.6,0M390.70,231.50a1.8,1.8 0 1,0 3.6,0a1.8,1.8 0 1,0 -3.6,0M391.70,227.50a1.8,1.8 0 1,0 3.6,0a1.8,1.8 0 1,0 -3.6,0M394.70,231.50a1.8,1.8 0 1,0 3.6,0a1.8,1.8 0 1,0 -3.6,0M393.70,225.50a1.8,1.8 0 1,0 3.6,0a1.8,1.8 0 1,0 -3.6,0M396.70,222.50a1.8,1.8 0 1,0 3.6,0a1.8,1.8 0 1,0 -3.6,0M395.70,217.50a1.8,1.8 0 1,0 3.6,0a1.8,1.8 0 1,0 -3.6,0M313.70,193.50a1.8,1.8 0 1,0 3.6,0a1.8,1.8 0 1,0 -3.6,0M318.70,194.50a1.8,1.8 0 1,0 3.6,0a1.8,1.8 0 1,0 -3.6,0M320.70,190.50a1.8,1.8 0 1,0 3.6,0a1.8,1.8 0 1,0 -3.6,0M319.70,185.50a1.8,1.8 0 1,0 3.6,0a1.8,1.8 0 1,0 -3.6,0M320.70,180.50a1.8,1.8 0 1,0 3.6,0a1.8,1.8 0 1,0 -3.6,0M319.70,183.50a1.8,1.8 0 1,0 3.6,0a1.8,1.8 0 1,0 -3.6,0M322.70,188.50a1.8,1.8 0 1,0 3.6,0a1.8,1.8 0 1,0 -3.6,0M322.70,185.50a1.8,1.8 0 1,0 3.6,0a1.8,1.8 0 1,0 -3.6,0M324.70,185.50a1.8,1.8 0 1,0 3.6,0a1.8,1.8 0 1,0 -3.6,0M326.70,185.50a1.8,1.8 0 1,0 3.6,0a1.8,1.8 0 1,0 -3.6,0M327.70,181.50a1.8,1.8 0 1,0 3.6,0a1.8,1.8 0 1,0 -3.6,0M328.70,175.50a1.8,1.8 0 1,0 3.6,0a1.8,1.8 0 1,0 -3.6,0M328.70,178.50a1.8,1.8 0 1,0 3.6,0a1.8,1.8 0 1,0 -3.6,0M330.70,179.50a1.8,1.8 0 1,0 3.6,0a1.8,1.8 0 1,0 -3.6,0M331.70,183.50a1.8,1.8 0 1,0 3.6,0a1.8,1.8 0 1,0 -3.6,0M332.70,180.50a1.8,1.8 0 1,0 3.6,0a1.8,1.8 0 1,0 -3.6,0M332.70,172.50a1.8,1.8 0 1,0 3.6,0a1.8,1.8 0 1,0 -3.6,0M333.70,167.50a1.8,1.8 0 1,0 3.6,0a1.8,1.8 0 1,0 -3.6,0M334.70,170.50a1.8,1.8 0 1,0 3.6,0a1.8,1.8 0 1,0 -3.6,0M337.70,169.50a1.8,1.8 0 1,0 3.6,0a1.8,1.8 0 1,0 -3.6,0M334.70,156.50a1.8,1.8 0 1,0 3.6,0a1.8,1.8 0 1,0 -3.6,0M336.70,158.50a1.8,1.8 0 1,0 3.6,0a1.8,1.8 0 1,0 -3.6,0M337.70,163.50a1.8,1.8 0 1,0 3.6,0a1.8,1.8 0 1,0 -3.6,0M337.70,174.50a1.8,1.8 0 1,0 3.6,0a1.8,1.8 0 1,0 -3.6,0M339.70,176.50a1.8,1.8 0 1,0 3.6,0a1.8,1.8 0 1,0 -3.6,0M340.70,179.50a1.8,1.8 0 1,0 3.6,0a1.8,1.8 0 1,0 -3.6,0M340.70,193.50a1.8,1.8 0 1,0 3.6,0a1.8,1.8 0 1,0 -3.6,0M406.70,172.50a1.8,1.8 0 1,0 3.6,0a1.8,1.8 0 1,0 -3.6,0M408.70,175.50a1.8,1.8 0 1,0 3.6,0a1.8,1.8 0 1,0 -3.6,0M410.70,174.50a1.8,1.8 0 1,0 3.6,0a1.8,1.8 0 1,0 -3.6,0M412.70,177.50a1.8,1.8 0 1,0 3.6,0a1.8,1.8 0 1,0 -3.6,0M408.70,178.50a1.8,1.8 0 1,0 3.6,0a1.8,1.8 0 1,0 -3.6,0M406.70,184.50a1.8,1.8 0 1,0 3.6,0a1.8,1.8 0 1,0 -3.6,0M407.70,186.50a1.8,1.8 0 1,0 3.6,0a1.8,1.8 0 1,0 -3.6,0M405.70,189.50a1.8,1.8 0 1,0 3.6,0a1.8,1.8 0 1,0 -3.6,0M413.70,183.50a1.8,1.8 0 1,0 3.6,0a1.8,1.8 0 1,0 -3.6,0M413.70,188.50a1.8,1.8 0 1,0 3.6,0a1.8,1.8 0 1,0 -3.6,0M415.70,189.50a1.8,1.8 0 1,0 3.6,0a1.8,1.8 0 1,0 -3.6,0M416.70,191.50a1.8,1.8 0 1,0 3.6,0a1.8,1.8 0 1,0 -3.6,0M404.70,193.50a1.8,1.8 0 1,0 3.6,0a1.8,1.8 0 1,0 -3.6,0M403.70,196.50a1.8,1.8 0 1,0 3.6,0a1.8,1.8 0 1,0 -3.6,0M405.70,196.50a1.8,1.8 0 1,0 3.6,0a1.8,1.8 0 1,0 -3.6,0M403.70,203.50a1.8,1.8 0 1,0 3.6,0a1.8,1.8 0 1,0 -3.6,0M399.70,205.50a1.8,1.8 0 1,0 3.6,0a1.8,1.8 0 1,0 -3.6,0M401.70,206.50a1.8,1.8 0 1,0 3.6,0a1.8,1.8 0 1,0 -3.6,0M397.70,208.50a1.8,1.8 0 1,0 3.6,0a1.8,1.8 0 1,0 -3.6,0M402.70,208.50a1.8,1.8 0 1,0 3.6,0a1.8,1.8 0 1,0 -3.6,0M405.70,211.50a1.8,1.8 0 1,0 3.6,0a1.8,1.8 0 1,0 -3.6,0M396.70,212.50a1.8,1.8 0 1,0 3.6,0a1.8,1.8 0 1,0 -3.6,0M399.70,212.50a1.8,1.8 0 1,0 3.6,0a1.8,1.8 0 1,0 -3.6,0M417.70,197.50a1.8,1.8 0 1,0 3.6,0a1.8,1.8 0 1,0 -3.6,0M419.70,198.50a1.8,1.8 0 1,0 3.6,0a1.8,1.8 0 1,0 -3.6,0M418.70,200.50a1.8,1.8 0 1,0 3.6,0a1.8,1.8 0 1,0 -3.6,0M421.70,203.50a1.8,1.8 0 1,0 3.6,0a1.8,1.8 0 1,0 -3.6,0M419.70,206.50a1.8,1.8 0 1,0 3.6,0a1.8,1.8 0 1,0 -3.6,0M418.70,207.50a1.8,1.8 0 1,0 3.6,0a1.8,1.8 0 1,0 -3.6,0M422.70,207.50a1.8,1.8 0 1,0 3.6,0a1.8,1.8 0 1,0 -3.6,0M424.70,209.50a1.8,1.8 0 1,0 3.6,0a1.8,1.8 0 1,0 -3.6,0M421.70,212.50a1.8,1.8 0 1,0 3.6,0a1.8,1.8 0 1,0 -3.6,0M425.70,202.50a1.8,1.8 0 1,0 3.6,0a1.8,1.8 0 1,0 -3.6,0M426.70,199.50a1.8,1.8 0 1,0 3.6,0a1.8,1.8 0 1,0 -3.6,0M428.70,195.50a1.8,1.8 0 1,0 3.6,0a1.8,1.8 0 1,0 -3.6,0M426.70,185.50a1.8,1.8 0 1,0 3.6,0a1.8,1.8 0 1,0 -3.6,0M426.70,189.50a1.8,1.8 0 1,0 3.6,0a1.8,1.8 0 1,0 -3.6,0M429.70,178.50a1.8,1.8 0 1,0 3.6,0a1.8,1.8 0 1,0 -3.6,0M430.70,181.50a1.8,1.8 0 1,0 3.6,0a1.8,1.8 0 1,0 -3.6,0M431.70,186.50a1.8,1.8 0 1,0 3.6,0a1.8,1.8 0 1,0 -3.6,0M431.70,191.50a1.8,1.8 0 1,0 3.6,0a1.8,1.8 0 1,0 -3.6,0M446.70,158.50a1.8,1.8 0 1,0 3.6,0a1.8,1.8 0 1,0 -3.6,0M446.70,160.50a1.8,1.8 0 1,0 3.6,0a1.8,1.8 0 1,0 -3.6,0M446.70,171.50a1.8,1.8 0 1,0 3.6,0a1.8,1.8 0 1,0 -3.6,0M429.70,178.50a1.8,1.8 0 1,0 3.6,0a1.8,1.8 0 1,0 -3.6,0M430.70,181.50a1.8,1.8 0 1,0 3.6,0a1.8,1.8 0 1,0 -3.6,0M428.70,185.50a1.8,1.8 0 1,0 3.6,0a1.8,1.8 0 1,0 -3.6,0M429.70,188.50a1.8,1.8 0 1,0 3.6,0a1.8,1.8 0 1,0 -3.6,0M432.70,186.50a1.8,1.8 0 1,0 3.6,0a1.8,1.8 0 1,0 -3.6,0M433.70,191.50a1.8,1.8 0 1,0 3.6,0a1.8,1.8 0 1,0 -3.6,0M429.70,196.50a1.8,1.8 0 1,0 3.6,0a1.8,1.8 0 1,0 -3.6,0M428.70,199.50a1.8,1.8 0 1,0 3.6,0a1.8,1.8 0 1,0 -3.6,0M428.70,202.50a1.8,1.8 0 1,0 3.6,0a1.8,1.8 0 1,0 -3.6,0M435.70,175.50a1.8,1.8 0 1,0 3.6,0a1.8,1.8 0 1,0 -3.6,0M436.70,174.50a1.8,1.8 0 1,0 3.6,0a1.8,1.8 0 1,0 -3.6,0M436.70,178.50a1.8,1.8 0 1,0 3.6,0a1.8,1.8 0 1,0 -3.6,0M434.70,182.50a1.8,1.8 0 1,0 3.6,0a1.8,1.8 0 1,0 -3.6,0M438.70,181.50a1.8,1.8 0 1,0 3.6,0a1.8,1.8 0 1,0 -3.6,0M437.70,186.50a1.8,1.8 0 1,0 3.6,0a1.8,1.8 0 1,0 -3.6,0M439.70,185.50a1.8,1.8 0 1,0 3.6,0a1.8,1.8 0 1,0 -3.6,0M440.70,181.50a1.8,1.8 0 1,0 3.6,0a1.8,1.8 0 1,0 -3.6,0M442.70,176.50a1.8,1.8 0 1,0 3.6,0a1.8,1.8 0 1,0 -3.6,0M443.70,181.50a1.8,1.8 0 1,0 3.6,0a1.8,1.8 0 1,0 -3.6,0M442.70,185.50a1.8,1.8 0 1,0 3.6,0a1.8,1.8 0 1,0 -3.6,0M439.70,190.50a1.8,1.8 0 1,0 3.6,0a1.8,1.8 0 1,0 -3.6,0M439.70,192.50a1.8,1.8 0 1,0 3.6,0a1.8,1.8 0 1,0 -3.6,0M445.70,178.50a1.8,1.8 0 1,0 3.6,0a1.8,1.8 0 1,0 -3.6,0M446.70,183.50a1.8,1.8 0 1,0 3.6,0a1.8,1.8 0 1,0 -3.6,0M448.70,185.50a1.8,1.8 0 1,0 3.6,0a1.8,1.8 0 1,0 -3.6,0M448.70,190.50a1.8,1.8 0 1,0 3.6,0a1.8,1.8 0 1,0 -3.6,0M447.70,191.50a1.8,1.8 0 1,0 3.6,0a1.8,1.8 0 1,0 -3.6,0M447.70,195.50a1.8,1.8 0 1,0 3.6,0a1.8,1.8 0 1,0 -3.6,0M451.70,177.50a1.8,1.8 0 1,0 3.6,0a1.8,1.8 0 1,0 -3.6,0M449.70,181.50a1.8,1.8 0 1,0 3.6,0a1.8,1.8 0 1,0 -3.6,0M452.70,186.50a1.8,1.8 0 1,0 3.6,0a1.8,1.8 0 1,0 -3.6,0M451.70,189.50a1.8,1.8 0 1,0 3.6,0a1.8,1.8 0 1,0 -3.6,0M454.70,194.50a1.8,1.8 0 1,0 3.6,0a1.8,1.8 0 1,0 -3.6,0M455.70,195.50a1.8,1.8 0 1,0 3.6,0a1.8,1.8 0 1,0 -3.6,0M454.70,203.50a1.8,1.8 0 1,0 3.6,0a1.8,1.8 0 1,0 -3.6,0M454.70,208.50a1.8,1.8 0 1,0 3.6,0a1.8,1.8 0 1,0 -3.6,0M456.70,181.50a1.8,1.8 0 1,0 3.6,0a1.8,1.8 0 1,0 -3.6,0M456.70,178.50a1.8,1.8 0 1,0 3.6,0a1.8,1.8 0 1,0 -3.6,0M458.70,175.50a1.8,1.8 0 1,0 3.6,0a1.8,1.8 0 1,0 -3.6,0M459.70,173.50a1.8,1.8 0 1,0 3.6,0a1.8,1.8 0 1,0 -3.6,0M459.70,180.50a1.8,1.8 0 1,0 3.6,0a1.8,1.8 0 1,0 -3.6,0M459.70,185.50a1.8,1.8 0 1,0 3.6,0a1.8,1.8 0 1,0 -3.6,0M461.70,188.50a1.8,1.8 0 1,0 3.6,0a1.8,1.8 0 1,0 -3.6,0M462.70,190.50a1.8,1.8 0 1,0 3.6,0a1.8,1.8 0 1,0 -3.6,0M464.70,193.50a1.8,1.8 0 1,0 3.6,0a1.8,1.8 0 1,0 -3.6,0M460.70,198.50a1.8,1.8 0 1,0 3.6,0a1.8,1.8 0 1,0 -3.6,0M464.70,198.50a1.8,1.8 0 1,0 3.6,0a1.8,1.8 0 1,0 -3.6,0M465.70,200.50a1.8,1.8 0 1,0 3.6,0a1.8,1.8 0 1,0 -3.6,0M462.70,203.50a1.8,1.8 0 1,0 3.6,0a1.8,1.8 0 1,0 -3.6,0M461.70,207.50a1.8,1.8 0 1,0 3.6,0a1.8,1.8 0 1,0 -3.6,0M461.70,210.50a1.8,1.8 0 1,0 3.6,0a1.8,1.8 0 1,0 -3.6,0M467.70,171.50a1.8,1.8 0 1,0 3.6,0a1.8,1.8 0 1,0 -3.6,0M467.70,177.50a1.8,1.8 0 1,0 3.6,0a1.8,1.8 0 1,0 -3.6,0M468.70,179.50a1.8,1.8 0 1,0 3.6,0a1.8,1.8 0 1,0 -3.6,0M466.70,181.50a1.8,1.8 0 1,0 3.6,0a1.8,1.8 0 1,0 -3.6,0M468.70,184.50a1.8,1.8 0 1,0 3.6,0a1.8,1.8 0 1,0 -3.6,0M469.70,186.50a1.8,1.8 0 1,0 3.6,0a1.8,1.8 0 1,0 -3.6,0M470.70,193.50a1.8,1.8 0 1,0 3.6,0a1.8,1.8 0 1,0 -3.6,0M470.70,201.50a1.8,1.8 0 1,0 3.6,0a1.8,1.8 0 1,0 -3.6,0M471.70,203.50a1.8,1.8 0 1,0 3.6,0a1.8,1.8 0 1,0 -3.6,0M471.70,207.50a1.8,1.8 0 1,0 3.6,0a1.8,1.8 0 1,0 -3.6,0M472.70,212.50a1.8,1.8 0 1,0 3.6,0a1.8,1.8 0 1,0 -3.6,0M473.70,181.50a1.8,1.8 0 1,0 3.6,0a1.8,1.8 0 1,0 -3.6,0M474.70,168.50a1.8,1.8 0 1,0 3.6,0a1.8,1.8 0 1,0 -3.6,0M474.70,171.50a1.8,1.8 0 1,0 3.6,0a1.8,1.8 0 1,0 -3.6,0M473.70,173.50a1.8,1.8 0 1,0 3.6,0a1.8,1.8 0 1,0 -3.6,0M476.70,178.50a1.8,1.8 0 1,0 3.6,0a1.8,1.8 0 1,0 -3.6,0M476.70,181.50a1.8,1.8 0 1,0 3.6,0a1.8,1.8 0 1,0 -3.6,0M477.70,191.50a1.8,1.8 0 1,0 3.6,0a1.8,1.8 0 1,0 -3.6,0M473.70,203.50a1.8,1.8 0 1,0 3.6,0a1.8,1.8 0 1,0 -3.6,0M487.70,141.50a1.8,1.8 0 1,0 3.6,0a1.8,1.8 0 1,0 -3.6,0M487.70,145.50a1.8,1.8 0 1,0 3.6,0a1.8,1.8 0 1,0 -3.6,0M488.70,149.50a1.8,1.8 0 1,0 3.6,0a1.8,1.8 0 1,0 -3.6,0M491.70,150.50a1.8,1.8 0 1,0 3.6,0a1.8,1.8 0 1,0 -3.6,0M488.70,152.50a1.8,1.8 0 1,0 3.6,0a1.8,1.8 0 1,0 -3.6,0M491.70,155.50a1.8,1.8 0 1,0 3.6,0a1.8,1.8 0 1,0 -3.6,0M489.70,159.50a1.8,1.8 0 1,0 3.6,0a1.8,1.8 0 1,0 -3.6,0M498.70,150.50a1.8,1.8 0 1,0 3.6,0a1.8,1.8 0 1,0 -3.6,0M499.70,153.50a1.8,1.8 0 1,0 3.6,0a1.8,1.8 0 1,0 -3.6,0M501.70,153.50a1.8,1.8 0 1,0 3.6,0a1.8,1.8 0 1,0 -3.6,0M497.70,160.50a1.8,1.8 0 1,0 3.6,0a1.8,1.8 0 1,0 -3.6,0M495.70,161.50a1.8,1.8 0 1,0 3.6,0a1.8,1.8 0 1,0 -3.6,0M498.70,161.50a1.8,1.8 0 1,0 3.6,0a1.8,1.8 0 1,0 -3.6,0M496.70,163.50a1.8,1.8 0 1,0 3.6,0a1.8,1.8 0 1,0 -3.6,0M488.70,163.50a1.8,1.8 0 1,0 3.6,0a1.8,1.8 0 1,0 -3.6,0M482.70,162.50a1.8,1.8 0 1,0 3.6,0a1.8,1.8 0 1,0 -3.6,0M482.70,165.50a1.8,1.8 0 1,0 3.6,0a1.8,1.8 0 1,0 -3.6,0M491.70,165.50a1.8,1.8 0 1,0 3.6,0a1.8,1.8 0 1,0 -3.6,0M492.70,167.50a1.8,1.8 0 1,0 3.6,0a1.8,1.8 0 1,0 -3.6,0M493.70,170.50a1.8,1.8 0 1,0 3.6,0a1.8,1.8 0 1,0 -3.6,0M492.70,170.50a1.8,1.8 0 1,0 3.6,0a1.8,1.8 0 1,0 -3.6,0M494.70,173.50a1.8,1.8 0 1,0 3.6,0a1.8,1.8 0 1,0 -3.6,0M494.70,179.50a1.8,1.8 0 1,0 3.6,0a1.8,1.8 0 1,0 -3.6,0M499.70,167.50a1.8,1.8 0 1,0 3.6,0a1.8,1.8 0 1,0 -3.6,0M500.70,171.50a1.8,1.8 0 1,0 3.6,0a1.8,1.8 0 1,0 -3.6,0M499.70,174.50a1.8,1.8 0 1,0 3.6,0a1.8,1.8 0 1,0 -3.6,0M482.70,170.50a1.8,1.8 0 1,0 3.6,0a1.8,1.8 0 1,0 -3.6,0M481.70,174.50a1.8,1.8 0 1,0 3.6,0a1.8,1.8 0 1,0 -3.6,0M474.70,167.50a1.8,1.8 0 1,0 3.6,0a1.8,1.8 0 1,0 -3.6,0M475.70,177.50a1.8,1.8 0 1,0 3.6,0a1.8,1.8 0 1,0 -3.6,0M478.70,180.50a1.8,1.8 0 1,0 3.6,0a1.8,1.8 0 1,0 -3.6,0M479.70,182.50a1.8,1.8 0 1,0 3.6,0a1.8,1.8 0 1,0 -3.6,0M481.70,185.50a1.8,1.8 0 1,0 3.6,0a1.8,1.8 0 1,0 -3.6,0M485.70,181.50a1.8,1.8 0 1,0 3.6,0a1.8,1.8 0 1,0 -3.6,0M485.70,185.50a1.8,1.8 0 1,0 3.6,0a1.8,1.8 0 1,0 -3.6,0M508.70,166.50a1.8,1.8 0 1,0 3.6,0a1.8,1.8 0 1,0 -3.6,0M509.70,170.50a1.8,1.8 0 1,0 3.6,0a1.8,1.8 0 1,0 -3.6,0M507.70,175.50a1.8,1.8 0 1,0 3.6,0a1.8,1.8 0 1,0 -3.6,0M509.70,176.50a1.8,1.8 0 1,0 3.6,0a1.8,1.8 0 1,0 -3.6,0M507.70,180.50a1.8,1.8 0 1,0 3.6,0a1.8,1.8 0 1,0 -3.6,0M506.70,182.50a1.8,1.8 0 1,0 3.6,0a1.8,1.8 0 1,0 -3.6,0M503.70,181.50a1.8,1.8 0 1,0 3.6,0a1.8,1.8 0 1,0 -3.6,0M503.70,185.50a1.8,1.8 0 1,0 3.6,0a1.8,1.8 0 1,0 -3.6,0M505.70,187.50a1.8,1.8 0 1,0 3.6,0a1.8,1.8 0 1,0 -3.6,0M511.70,181.50a1.8,1.8 0 1,0 3.6,0a1.8,1.8 0 1,0 -3.6,0M510.70,185.50a1.8,1.8 0 1,0 3.6,0a1.8,1.8 0 1,0 -3.6,0M513.70,188.50a1.8,1.8 0 1,0 3.6,0a1.8,1.8 0 1,0 -3.6,0M512.70,176.50a1.8,1.8 0 1,0 3.6,0a1.8,1.8 0 1,0 -3.6,0M513.70,172.50a1.8,1.8 0 1,0 3.6,0a1.8,1.8 0 1,0 -3.6,0M513.70,167.50a1.8,1.8 0 1,0 3.6,0a1.8,1.8 0 1,0 -3.6,0M513.70,162.50a1.8,1.8 0 1,0 3.6,0a1.8,1.8 0 1,0 -3.6,0M514.70,156.50a1.8,1.8 0 1,0 3.6,0a1.8,1.8 0 1,0 -3.6,0M514.70,151.50a1.8,1.8 0 1,0 3.6,0a1.8,1.8 0 1,0 -3.6,0M515.70,145.50a1.8,1.8 0 1,0 3.6,0a1.8,1.8 0 1,0 -3.6,0M516.70,148.50a1.8,1.8 0 1,0 3.6,0a1.8,1.8 0 1,0 -3.6,0M518.70,156.50a1.8,1.8 0 1,0 3.6,0a1.8,1.8 0 1,0 -3.6,0M517.70,160.50a1.8,1.8 0 1,0 3.6,0a1.8,1.8 0 1,0 -3.6,0M517.70,164.50a1.8,1.8 0 1,0 3.6,0a1.8,1.8 0 1,0 -3.6,0M519.70,153.50a1.8,1.8 0 1,0 3.6,0a1.8,1.8 0 1,0 -3.6,0M520.70,161.50a1.8,1.8 0 1,0 3.6,0a1.8,1.8 0 1,0 -3.6,0M522.70,168.50a1.8,1.8 0 1,0 3.6,0a1.8,1.8 0 1,0 -3.6,0M522.70,173.50a1.8,1.8 0 1,0 3.6,0a1.8,1.8 0 1,0 -3.6,0M527.70,133.50a1.8,1.8 0 1,0 3.6,0a1.8,1.8 0 1,0 -3.6,0M528.70,140.50a1.8,1.8 0 1,0 3.6,0a1.8,1.8 0 1,0 -3.6,0M526.70,143.50a1.8,1.8 0 1,0 3.6,0a1.8,1.8 0 1,0 -3.6,0M529.70,143.50a1.8,1.8 0 1,0 3.6,0a1.8,1.8 0 1,0 -3.6,0M530.70,146.50a1.8,1.8 0 1,0 3.6,0a1.8,1.8 0 1,0 -3.6,0M526.70,150.50a1.8,1.8 0 1,0 3.6,0a1.8,1.8 0 1,0 -3.6,0M533.70,142.50a1.8,1.8 0 1,0 3.6,0a1.8,1.8 0 1,0 -3.6,0M534.70,146.50a1.8,1.8 0 1,0 3.6,0a1.8,1.8 0 1,0 -3.6,0M531.70,150.50a1.8,1.8 0 1,0 3.6,0a1.8,1.8 0 1,0 -3.6,0M532.70,155.50a1.8,1.8 0 1,0 3.6,0a1.8,1.8 0 1,0 -3.6,0M534.70,151.50a1.8,1.8 0 1,0 3.6,0a1.8,1.8 0 1,0 -3.6,0M534.70,156.50a1.8,1.8 0 1,0 3.6,0a1.8,1.8 0 1,0 -3.6,0M536.70,157.50a1.8,1.8 0 1,0 3.6,0a1.8,1.8 0 1,0 -3.6,0M536.70,149.50a1.8,1.8 0 1,0 3.6,0a1.8,1.8 0 1,0 -3.6,0M539.70,142.50a1.8,1.8 0 1,0 3.6,0a1.8,1.8 0 1,0 -3.6,0M539.70,145.50a1.8,1.8 0 1,0 3.6,0a1.8,1.8 0 1,0 -3.6,0M538.70,148.50a1.8,1.8 0 1,0 3.6,0a1.8,1.8 0 1,0 -3.6,0M541.70,150.50a1.8,1.8 0 1,0 3.6,0a1.8,1.8 0 1,0 -3.6,0M541.70,160.50a1.8,1.8 0 1,0 3.6,0a1.8,1.8 0 1,0 -3.6,0M541.70,164.50a1.8,1.8 0 1,0 3.6,0a1.8,1.8 0 1,0 -3.6,0M544.70,153.50a1.8,1.8 0 1,0 3.6,0a1.8,1.8 0 1,0 -3.6,0M544.70,159.50a1.8,1.8 0 1,0 3.6,0a1.8,1.8 0 1,0 -3.6,0M546.70,150.50a1.8,1.8 0 1,0 3.6,0a1.8,1.8 0 1,0 -3.6,0M548.70,156.50a1.8,1.8 0 1,0 3.6,0a1.8,1.8 0 1,0 -3.6,0M547.70,160.50a1.8,1.8 0 1,0 3.6,0a1.8,1.8 0 1,0 -3.6,0M549.70,146.50a1.8,1.8 0 1,0 3.6,0a1.8,1.8 0 1,0 -3.6,0M551.70,150.50a1.8,1.8 0 1,0 3.6,0a1.8,1.8 0 1,0 -3.6,0M553.70,153.50a1.8,1.8 0 1,0 3.6,0a1.8,1.8 0 1,0 -3.6,0M554.70,148.50a1.8,1.8 0 1,0 3.6,0a1.8,1.8 0 1,0 -3.6,0M555.70,151.50a1.8,1.8 0 1,0 3.6,0a1.8,1.8 0 1,0 -3.6,0M556.70,155.50a1.8,1.8 0 1,0 3.6,0a1.8,1.8 0 1,0 -3.6,0M552.70,160.50a1.8,1.8 0 1,0 3.6,0a1.8,1.8 0 1,0 -3.6,0M553.70,163.50a1.8,1.8 0 1,0 3.6,0a1.8,1.8 0 1,0 -3.6,0M552.70,166.50a1.8,1.8 0 1,0 3.6,0a1.8,1.8 0 1,0 -3.6,0M552.70,171.50a1.8,1.8 0 1,0 3.6,0a1.8,1.8 0 1,0 -3.6,0M556.70,166.50a1.8,1.8 0 1,0 3.6,0a1.8,1.8 0 1,0 -3.6,0M556.70,170.50a1.8,1.8 0 1,0 3.6,0a1.8,1.8 0 1,0 -3.6,0M556.70,175.50a1.8,1.8 0 1,0 3.6,0a1.8,1.8 0 1,0 -3.6,0M559.70,156.50a1.8,1.8 0 1,0 3.6,0a1.8,1.8 0 1,0 -3.6,0M561.70,158.50a1.8,1.8 0 1,0 3.6,0a1.8,1.8 0 1,0 -3.6,0M563.70,161.50a1.8,1.8 0 1,0 3.6,0a1.8,1.8 0 1,0 -3.6,0M565.70,157.50a1.8,1.8 0 1,0 3.6,0a1.8,1.8 0 1,0 -3.6,0M566.70,153.50a1.8,1.8 0 1,0 3.6,0a1.8,1.8 0 1,0 -3.6,0M567.70,160.50a1.8,1.8 0 1,0 3.6,0a1.8,1.8 0 1,0 -3.6,0M568.70,163.50a1.8,1.8 0 1,0 3.6,0a1.8,1.8 0 1,0 -3.6,0M569.70,155.50a1.8,1.8 0 1,0 3.6,0a1.8,1.8 0 1,0 -3.6,0M570.70,149.50a1.8,1.8 0 1,0 3.6,0a1.8,1.8 0 1,0 -3.6,0M572.70,150.50a1.8,1.8 0 1,0 3.6,0a1.8,1.8 0 1,0 -3.6,0M573.70,156.50a1.8,1.8 0 1,0 3.6,0a1.8,1.8 0 1,0 -3.6,0M573.70,170.50a1.8,1.8 0 1,0 3.6,0a1.8,1.8 0 1,0 -3.6,0M522.70,152.50a1.8,1.8 0 1,0 3.6,0a1.8,1.8 0 1,0 -3.6,0M520.70,156.50a1.8,1.8 0 1,0 3.6,0a1.8,1.8 0 1,0 -3.6,0M519.70,160.50a1.8,1.8 0 1,0 3.6,0a1.8,1.8 0 1,0 -3.6,0M523.70,161.50a1.8,1.8 0 1,0 3.6,0a1.8,1.8 0 1,0 -3.6,0M520.70,163.50a1.8,1.8 0 1,0 3.6,0a1.8,1.8 0 1,0 -3.6,0M523.70,166.50a1.8,1.8 0 1,0 3.6,0a1.8,1.8 0 1,0 -3.6,0M523.70,171.50a1.8,1.8 0 1,0 3.6,0a1.8,1.8 0 1,0 -3.6,0M233.70,163.50a1.8,1.8 0 1,0 3.6,0a1.8,1.8 0 1,0 -3.6,0M234.70,156.50a1.8,1.8 0 1,0 3.6,0a1.8,1.8 0 1,0 -3.6,0M237.70,156.50a1.8,1.8 0 1,0 3.6,0a1.8,1.8 0 1,0 -3.6,0M235.70,153.50a1.8,1.8 0 1,0 3.6,0a1.8,1.8 0 1,0 -3.6,0M233.70,150.50a1.8,1.8 0 1,0 3.6,0a1.8,1.8 0 1,0 -3.6,0M238.70,148.50a1.8,1.8 0 1,0 3.6,0a1.8,1.8 0 1,0 -3.6,0M240.70,149.50a1.8,1.8 0 1,0 3.6,0a1.8,1.8 0 1,0 -3.6,0M239.70,144.50a1.8,1.8 0 1,0 3.6,0a1.8,1.8 0 1,0 -3.6,0M241.70,145.50a1.8,1.8 0 1,0 3.6,0a1.8,1.8 0 1,0 -3.6,0M244.70,146.50a1.8,1.8 0 1,0 3.6,0a1.8,1.8 0 1,0 -3.6,0M244.70,143.50a1.8,1.8 0 1,0 3.6,0a1.8,1.8 0 1,0 -3.6,0M243.70,140.50a1.8,1.8 0 1,0 3.6,0a1.8,1.8 0 1,0 -3.6,0M241.70,139.50a1.8,1.8 0 1,0 3.6,0a1.8,1.8 0 1,0 -3.6,0M246.70,157.50a1.8,1.8 0 1,0 3.6,0a1.8,1.8 0 1,0 -3.6,0M246.70,159.50a1.8,1.8 0 1,0 3.6,0a1.8,1.8 0 1,0 -3.6,0M249.70,159.50a1.8,1.8 0 1,0 3.6,0a1.8,1.8 0 1,0 -3.6,0M251.70,160.50a1.8,1.8 0 1,0 3.6,0a1.8,1.8 0 1,0 -3.6,0M251.70,154.50a1.8,1.8 0 1,0 3.6,0a1.8,1.8 0 1,0 -3.6,0M252.70,146.50a1.8,1.8 0 1,0 3.6,0a1.8,1.8 0 1,0 -3.6,0M252.70,139.50a1.8,1.8 0 1,0 3.6,0a1.8,1.8 0 1,0 -3.6,0M244.70,124.50a1.8,1.8 0 1,0 3.6,0a1.8,1.8 0 1,0 -3.6,0M244.70,129.50a1.8,1.8 0 1,0 3.6,0a1.8,1.8 0 1,0 -3.6,0M252.70,124.50a1.8,1.8 0 1,0 3.6,0a1.8,1.8 0 1,0 -3.6,0M253.70,115.50a1.8,1.8 0 1,0 3.6,0a1.8,1.8 0 1,0 -3.6,0M255.70,119.50a1.8,1.8 0 1,0 3.6,0a1.8,1.8 0 1,0 -3.6,0M256.70,122.50a1.8,1.8 0 1,0 3.6,0a1.8,1.8 0 1,0 -3.6,0M258.70,124.50a1.8,1.8 0 1,0 3.6,0a1.8,1.8 0 1,0 -3.6,0M256.70,128.50a1.8,1.8 0 1,0 3.6,0a1.8,1.8 0 1,0 -3.6,0M257.70,130.50a1.8,1.8 0 1,0 3.6,0a1.8,1.8 0 1,0 -3.6,0M260.70,127.50a1.8,1.8 0 1,0 3.6,0a1.8,1.8 0 1,0 -3.6,0M260.70,132.50a1.8,1.8 0 1,0 3.6,0a1.8,1.8 0 1,0 -3.6,0M233.70,163.50a1.8,1.8 0 1,0 3.6,0a1.8,1.8 0 1,0 -3.6,0M233.70,168.50a1.8,1.8 0 1,0 3.6,0a1.8,1.8 0 1,0 -3.6,0M233.70,170.50a1.8,1.8 0 1,0 3.6,0a1.8,1.8 0 1,0 -3.6,0M231.70,173.50a1.8,1.8 0 1,0 3.6,0a1.8,1.8 0 1,0 -3.6,0M232.70,174.50a1.8,1.8 0 1,0 3.6,0a1.8,1.8 0 1,0 -3.6,0M231.70,178.50a1.8,1.8 0 1,0 3.6,0a1.8,1.8 0 1,0 -3.6,0M230.70,181.50a1.8,1.8 0 1,0 3.6,0a1.8,1.8 0 1,0 -3.6,0M231.70,185.50a1.8,1.8 0 1,0 3.6,0a1.8,1.8 0 1,0 -3.6,0M229.70,187.50a1.8,1.8 0 1,0 3.6,0a1.8,1.8 0 1,0 -3.6,0M229.70,190.50a1.8,1.8 0 1,0 3.6,0a1.8,1.8 0 1,0 -3.6,0M227.70,190.50a1.8,1.8 0 1,0 3.6,0a1.8,1.8 0 1,0 -3.6,0M225.70,190.50a1.8,1.8 0 1,0 3.6,0a1.8,1.8 0 1,0 -3.6,0M222.70,190.50a1.8,1.8 0 1,0 3.6,0a1.8,1.8 0 1,0 -3.6,0M223.70,179.50a1.8,1.8 0 1,0 3.6,0a1.8,1.8 0 1,0 -3.6,0M223.70,184.50a1.8,1.8 0 1,0 3.6,0a1.8,1.8 0 1,0 -3.6,0M227.70,193.50a1.8,1.8 0 1,0 3.6,0a1.8,1.8 0 1,0 -3.6,0M225.70,196.50a1.8,1.8 0 1,0 3.6,0a1.8,1.8 0 1,0 -3.6,0M223.70,194.50a1.8,1.8 0 1,0 3.6,0a1.8,1.8 0 1,0 -3.6,0M221.70,196.50a1.8,1.8 0 1,0 3.6,0a1.8,1.8 0 1,0 -3.6,0M221.70,199.50a1.8,1.8 0 1,0 3.6,0a1.8,1.8 0 1,0 -3.6,0M221.70,202.50a1.8,1.8 0 1,0 3.6,0a1.8,1.8 0 1,0 -3.6,0M220.70,204.50a1.8,1.8 0 1,0 3.6,0a1.8,1.8 0 1,0 -3.6,0M218.70,206.50a1.8,1.8 0 1,0 3.6,0a1.8,1.8 0 1,0 -3.6,0M217.70,209.50a1.8,1.8 0 1,0 3.6,0a1.8,1.8 0 1,0 -3.6,0M215.70,196.50a1.8,1.8 0 1,0 3.6,0a1.8,1.8 0 1,0 -3.6,0M212.70,197.50a1.8,1.8 0 1,0 3.6,0a1.8,1.8 0 1,0 -3.6,0M215.70,201.50a1.8,1.8 0 1,0 3.6,0a1.8,1.8 0 1,0 -3.6,0M213.70,200.50a1.8,1.8 0 1,0 3.6,0a1.8,1.8 0 1,0 -3.6,0M211.70,201.50a1.8,1.8 0 1,0 3.6,0a1.8,1.8 0 1,0 -3.6,0M209.70,203.50a1.8,1.8 0 1,0 3.6,0a1.8,1.8 0 1,0 -3.6,0M208.70,205.50a1.8,1.8 0 1,0 3.6,0a1.8,1.8 0 1,0 -3.6,0M207.70,208.50a1.8,1.8 0 1,0 3.6,0a1.8,1.8 0 1,0 -3.6,0M204.70,209.50a1.8,1.8 0 1,0 3.6,0a1.8,1.8 0 1,0 -3.6,0M376.70,213.50a1.8,1.8 0 1,0 3.6,0a1.8,1.8 0 1,0 -3.6,0M374.70,215.50a1.8,1.8 0 1,0 3.6,0a1.8,1.8 0 1,0 -3.6,0M374.70,220.50a1.8,1.8 0 1,0 3.6,0a1.8,1.8 0 1,0 -3.6,0M378.70,223.50a1.8,1.8 0 1,0 3.6,0a1.8,1.8 0 1,0 -3.6,0M382.70,223.50a1.8,1.8 0 1,0 3.6,0a1.8,1.8 0 1,0 -3.6,0M385.70,214.50a1.8,1.8 0 1,0 3.6,0a1.8,1.8 0 1,0 -3.6,0M388.70,216.50a1.8,1.8 0 1,0 3.6,0a1.8,1.8 0 1,0 -3.6,0M388.70,221.50a1.8,1.8 0 1,0 3.6,0a1.8,1.8 0 1,0 -3.6,0M381.70,215.50a1.8,1.8 0 1,0 3.6,0a1.8,1.8 0 1,0 -3.6,0M383.70,218.50a1.8,1.8 0 1,0 3.6,0a1.8,1.8 0 1,0 -3.6,0M378.70,218.50a1.8,1.8 0 1,0 3.6,0a1.8,1.8 0 1,0 -3.6,0M386.70,221.50a1.8,1.8 0 1,0 3.6,0a1.8,1.8 0 1,0 -3.6,0M380.70,221.50a1.8,1.8 0 1,0 3.6,0a1.8,1.8 0 1,0 -3.6,0M382.70,227.50a1.8,1.8 0 1,0 3.6,0a1.8,1.8 0 1,0 -3.6,0M373.70,232.50a1.8,1.8 0 1,0 3.6,0a1.8,1.8 0 1,0 -3.6,0M388.70,225.50a1.8,1.8 0 1,0 3.6,0a1.8,1.8 0 1,0 -3.6,0M390.70,227.50a1.8,1.8 0 1,0 3.6,0a1.8,1.8 0 1,0 -3.6,0M389.70,231.50a1.8,1.8 0 1,0 3.6,0a1.8,1.8 0 1,0 -3.6,0M393.70,223.50a1.8,1.8 0 1,0 3.6,0a1.8,1.8 0 1,0 -3.6,0M394.70,217.50a1.8,1.8 0 1,0 3.6,0a1.8,1.8 0 1,0 -3.6,0M396.70,220.50a1.8,1.8 0 1,0 3.6,0a1.8,1.8 0 1,0 -3.6,0M395.70,213.50a1.8,1.8 0 1,0 3.6,0a1.8,1.8 0 1,0 -3.6,0M397.70,210.50a1.8,1.8 0 1,0 3.6,0a1.8,1.8 0 1,0 -3.6,0M398.70,207.50a1.8,1.8 0 1,0 3.6,0a1.8,1.8 0 1,0 -3.6,0M359.70,231.50a1.8,1.8 0 1,0 3.6,0a1.8,1.8 0 1,0 -3.6,0M355.70,235.50a1.8,1.8 0 1,0 3.6,0a1.8,1.8 0 1,0 -3.6,0M354.70,239.50a1.8,1.8 0 1,0 3.6,0a1.8,1.8 0 1,0 -3.6,0M353.70,241.50a1.8,1.8 0 1,0 3.6,0a1.8,1.8 0 1,0 -3.6,0M357.70,237.50a1.8,1.8 0 1,0 3.6,0a1.8,1.8 0 1,0 -3.6,0M358.70,241.50a1.8,1.8 0 1,0 3.6,0a1.8,1.8 0 1,0 -3.6,0M358.70,244.50a1.8,1.8 0 1,0 3.6,0a1.8,1.8 0 1,0 -3.6,0M360.70,244.50a1.8,1.8 0 1,0 3.6,0a1.8,1.8 0 1,0 -3.6,0M361.70,238.50a1.8,1.8 0 1,0 3.6,0a1.8,1.8 0 1,0 -3.6,0M363.70,235.50a1.8,1.8 0 1,0 3.6,0a1.8,1.8 0 1,0 -3.6,0M364.70,233.50a1.8,1.8 0 1,0 3.6,0a1.8,1.8 0 1,0 -3.6,0M367.70,234.50a1.8,1.8 0 1,0 3.6,0a1.8,1.8 0 1,0 -3.6,0M368.70,237.50a1.8,1.8 0 1,0 3.6,0a1.8,1.8 0 1,0 -3.6,0M366.70,241.50a1.8,1.8 0 1,0 3.6,0a1.8,1.8 0 1,0 -3.6,0M364.70,239.50a1.8,1.8 0 1,0 3.6,0a1.8,1.8 0 1,0 -3.6,0M370.70,240.50a1.8,1.8 0 1,0 3.6,0a1.8,1.8 0 1,0 -3.6,0M370.70,243.50a1.8,1.8 0 1,0 3.6,0a1.8,1.8 0 1,0 -3.6,0M371.70,246.50a1.8,1.8 0 1,0 3.6,0a1.8,1.8 0 1,0 -3.6,0M373.70,239.50a1.8,1.8 0 1,0 3.6,0a1.8,1.8 0 1,0 -3.6,0M352.70,247.50a1.8,1.8 0 1,0 3.6,0a1.8,1.8 0 1,0 -3.6,0M350.70,251.50a1.8,1.8 0 1,0 3.6,0a1.8,1.8 0 1,0 -3.6,0M347.70,250.50a1.8,1.8 0 1,0 3.6,0a1.8,1.8 0 1,0 -3.6,0M346.70,245.50a1.8,1.8 0 1,0 3.6,0a1.8,1.8 0 1,0 -3.6,0M351.70,254.50a1.8,1.8 0 1,0 3.6,0a1.8,1.8 0 1,0 -3.6,0M348.70,255.50a1.8,1.8 0 1,0 3.6,0a1.8,1.8 0 1,0 -3.6,0M320.70,183.50a1.8,1.8 0 1,0 3.6,0a1.8,1.8 0 1,0 -3.6,0M322.70,187.50a1.8,1.8 0 1,0 3.6,0a1.8,1.8 0 1,0 -3.6,0M324.70,187.50a1.8,1.8 0 1,0 3.6,0a1.8,1.8 0 1,0 -3.6,0M326.70,184.50a1.8,1.8 0 1,0 3.6,0a1.8,1.8 0 1,0 -3.6,0M328.70,180.50a1.8,1.8 0 1,0 3.6,0a1.8,1.8 0 1,0 -3.6,0M329.70,177.50a1.8,1.8 0 1,0 3.6,0a1.8,1.8 0 1,0 -3.6,0M331.70,181.50a1.8,1.8 0 1,0 3.6,0a1.8,1.8 0 1,0 -3.6,0M330.70,184.50a1.8,1.8 0 1,0 3.6,0a1.8,1.8 0 1,0 -3.6,0M325.70,182.50a1.8,1.8 0 1,0 3.6,0a1.8,1.8 0 1,0 -3.6,0M323.70,190.50a1.8,1.8 0 1,0 3.6,0a1.8,1.8 0 1,0 -3.6,0M321.70,192.50a1.8,1.8 0 1,0 3.6,0a1.8,1.8 0 1,0 -3.6,0M539.70,142.50a1.8,1.8 0 1,0 3.6,0a1.8,1.8 0 1,0 -3.6,0M540.70,145.50a1.8,1.8 0 1,0 3.6,0a1.8,1.8 0 1,0 -3.6,0M538.70,148.50a1.8,1.8 0 1,0 3.6,0a1.8,1.8 0 1,0 -3.6,0M541.70,150.50a1.8,1.8 0 1,0 3.6,0a1.8,1.8 0 1,0 -3.6,0M542.70,153.50a1.8,1.8 0 1,0 3.6,0a1.8,1.8 0 1,0 -3.6,0M544.70,152.50a1.8,1.8 0 1,0 3.6,0a1.8,1.8 0 1,0 -3.6,0M545.70,155.50a1.8,1.8 0 1,0 3.6,0a1.8,1.8 0 1,0 -3.6,0M547.70,154.50a1.8,1.8 0 1,0 3.6,0a1.8,1.8 0 1,0 -3.6,0M548.70,157.50a1.8,1.8 0 1,0 3.6,0a1.8,1.8 0 1,0 -3.6,0M550.70,149.50a1.8,1.8 0 1,0 3.6,0a1.8,1.8 0 1,0 -3.6,0M553.70,150.50a1.8,1.8 0 1,0 3.6,0a1.8,1.8 0 1,0 -3.6,0M554.70,148.50a1.8,1.8 0 1,0 3.6,0a1.8,1.8 0 1,0 -3.6,0M556.70,151.50a1.8,1.8 0 1,0 3.6,0a1.8,1.8 0 1,0 -3.6,0M557.70,153.50a1.8,1.8 0 1,0 3.6,0a1.8,1.8 0 1,0 -3.6,0M555.70,155.50a1.8,1.8 0 1,0 3.6,0a1.8,1.8 0 1,0 -3.6,0M559.70,156.50a1.8,1.8 0 1,0 3.6,0a1.8,1.8 0 1,0 -3.6,0M562.70,157.50a1.8,1.8 0 1,0 3.6,0a1.8,1.8 0 1,0 -3.6,0M562.70,160.50a1.8,1.8 0 1,0 3.6,0a1.8,1.8 0 1,0 -3.6,0M561.70,162.50a1.8,1.8 0 1,0 3.6,0a1.8,1.8 0 1,0 -3.6,0M564.70,158.50a1.8,1.8 0 1,0 3.6,0a1.8,1.8 0 1,0 -3.6,0M566.70,151.50a1.8,1.8 0 1,0 3.6,0a1.8,1.8 0 1,0 -3.6,0M566.70,154.50a1.8,1.8 0 1,0 3.6,0a1.8,1.8 0 1,0 -3.6,0M568.70,157.50a1.8,1.8 0 1,0 3.6,0a1.8,1.8 0 1,0 -3.6,0M569.70,160.50a1.8,1.8 0 1,0 3.6,0a1.8,1.8 0 1,0 -3.6,0M571.70,148.50a1.8,1.8 0 1,0 3.6,0a1.8,1.8 0 1,0 -3.6,0M572.70,151.50a1.8,1.8 0 1,0 3.6,0a1.8,1.8 0 1,0 -3.6,0M571.70,156.50a1.8,1.8 0 1,0 3.6,0a1.8,1.8 0 1,0 -3.6,0M572.70,159.50a1.8,1.8 0 1,0 3.6,0a1.8,1.8 0 1,0 -3.6,0M568.70,164.50a1.8,1.8 0 1,0 3.6,0a1.8,1.8 0 1,0 -3.6,0M553.70,159.50a1.8,1.8 0 1,0 3.6,0a1.8,1.8 0 1,0 -3.6,0M552.70,165.50a1.8,1.8 0 1,0 3.6,0a1.8,1.8 0 1,0 -3.6,0M557.70,165.50a1.8,1.8 0 1,0 3.6,0a1.8,1.8 0 1,0 -3.6,0M541.70,164.50a1.8,1.8 0 1,0 3.6,0a1.8,1.8 0 1,0 -3.6,0M551.70,170.50a1.8,1.8 0 1,0 3.6,0a1.8,1.8 0 1,0 -3.6,0M556.70,170.50a1.8,1.8 0 1,0 3.6,0a1.8,1.8 0 1,0 -3.6,0M529.70,146.50a1.8,1.8 0 1,0 3.6,0a1.8,1.8 0 1,0 -3.6,0M531.70,150.50a1.8,1.8 0 1,0 3.6,0a1.8,1.8 0 1,0 -3.6,0M533.70,152.50a1.8,1.8 0 1,0 3.6,0a1.8,1.8 0 1,0 -3.6,0M532.70,155.50a1.8,1.8 0 1,0 3.6,0a1.8,1.8 0 1,0 -3.6,0M535.70,156.50a1.8,1.8 0 1,0 3.6,0a1.8,1.8 0 1,0 -3.6,0M537.70,157.50a1.8,1.8 0 1,0 3.6,0a1.8,1.8 0 1,0 -3.6,0M536.70,150.50a1.8,1.8 0 1,0 3.6,0a1.8,1.8 0 1,0 -3.6,0M539.70,146.50a1.8,1.8 0 1,0 3.6,0a1.8,1.8 0 1,0 -3.6,0M541.70,151.50a1.8,1.8 0 1,0 3.6,0a1.8,1.8 0 1,0 -3.6,0M541.70,159.50a1.8,1.8 0 1,0 3.6,0a1.8,1.8 0 1,0 -3.6,0M520.70,158.50a1.8,1.8 0 1,0 3.6,0a1.8,1.8 0 1,0 -3.6,0M519.70,161.50a1.8,1.8 0 1,0 3.6,0a1.8,1.8 0 1,0 -3.6,0M517.70,163.50a1.8,1.8 0 1,0 3.6,0a1.8,1.8 0 1,0 -3.6,0M522.70,154.50a1.8,1.8 0 1,0 3.6,0a1.8,1.8 0 1,0 -3.6,0M243.70,142.50a1.8,1.8 0 1,0 3.6,0a1.8,1.8 0 1,0 -3.6,0M240.70,145.50a1.8,1.8 0 1,0 3.6,0a1.8,1.8 0 1,0 -3.6,0M239.70,146.50a1.8,1.8 0 1,0 3.6,0a1.8,1.8 0 1,0 -3.6,0M239.70,150.50a1.8,1.8 0 1,0 3.6,0a1.8,1.8 0 1,0 -3.6,0M237.70,150.50a1.8,1.8 0 1,0 3.6,0a1.8,1.8 0 1,0 -3.6,0M236.70,155.50a1.8,1.8 0 1,0 3.6,0a1.8,1.8 0 1,0 -3.6,0M235.70,157.50a1.8,1.8 0 1,0 3.6,0a1.8,1.8 0 1,0 -3.6,0M234.70,155.50a1.8,1.8 0 1,0 3.6,0a1.8,1.8 0 1,0 -3.6,0M241.70,149.50a1.8,1.8 0 1,0 3.6,0a1.8,1.8 0 1,0 -3.6,0M244.70,147.50a1.8,1.8 0 1,0 3.6,0a1.8,1.8 0 1,0 -3.6,0M249.70,159.50a1.8,1.8 0 1,0 3.6,0a1.8,1.8 0 1,0 -3.6,0M247.70,157.50a1.8,1.8 0 1,0 3.6,0a1.8,1.8 0 1,0 -3.6,0M247.70,165.50a1.8,1.8 0 1,0 3.6,0a1.8,1.8 0 1,0 -3.6,0M224.70,181.50a1.8,1.8 0 1,0 3.6,0a1.8,1.8 0 1,0 -3.6,0M224.70,184.50a1.8,1.8 0 1,0 3.6,0a1.8,1.8 0 1,0 -3.6,0M229.70,190.50a1.8,1.8 0 1,0 3.6,0a1.8,1.8 0 1,0 -3.6,0M227.70,192.50a1.8,1.8 0 1,0 3.6,0a1.8,1.8 0 1,0 -3.6,0M229.70,186.50a1.8,1.8 0 1,0 3.6,0a1.8,1.8 0 1,0 -3.6,0M415.70,190.50a1.8,1.8 0 1,0 3.6,0a1.8,1.8 0 1,0 -3.6,0M416.70,188.50a1.8,1.8 0 1,0 3.6,0a1.8,1.8 0 1,0 -3.6,0M414.70,191.50a1.8,1.8 0 1,0 3.6,0a1.8,1.8 0 1,0 -3.6,0M417.70,191.50a1.8,1.8 0 1,0 3.6,0a1.8,1.8 0 1,0 -3.6,0M418.70,198.50a1.8,1.8 0 1,0 3.6,0a1.8,1.8 0 1,0 -3.6,0M420.70,199.50a1.8,1.8 0 1,0 3.6,0a1.8,1.8 0 1,0 -3.6,0M410.70,177.50a1.8,1.8 0 1,0 3.6,0a1.8,1.8 0 1,0 -3.6,0M411.70,179.50a1.8,1.8 0 1,0 3.6,0a1.8,1.8 0 1,0 -3.6,0M414.70,191.50a1.8,1.8 0 1,0 3.6,0a1.8,1.8 0 1,0 -3.6,0M552.70,168.50a1.8,1.8 0 1,0 3.6,0a1.8,1.8 0 1,0 -3.6,0M359.70,243.50a1.8,1.8 0 1,0 3.6,0a1.8,1.8 0 1,0 -3.6,0M551.70,152.50a1.8,1.8 0 1,0 3.6,0a1.8,1.8 0 1,0 -3.6,0M427.70,188.50a1.8,1.8 0 1,0 3.6,0a1.8,1.8 0 1,0 -3.6,0M414.70,188.50a1.8,1.8 0 1,0 3.6,0a1.8,1.8 0 1,0 -3.6,0M395.70,225.50a1.8,1.8 0 1,0 3.6,0a1.8,1.8 0 1,0 -3.6,0M383.70,217.50a1.8,1.8 0 1,0 3.6,0a1.8,1.8 0 1,0 -3.6,0M385.70,220.50a1.8,1.8 0 1,0 3.6,0a1.8,1.8 0 1,0 -3.6,0M537.70,151.50a1.8,1.8 0 1,0 3.6,0a1.8,1.8 0 1,0 -3.6,0M542.70,153.50a1.8,1.8 0 1,0 3.6,0a1.8,1.8 0 1,0 -3.6,0M522.70,154.50a1.8,1.8 0 1,0 3.6,0a1.8,1.8 0 1,0 -3.6,0M544.70,155.50a1.8,1.8 0 1,0 3.6,0a1.8,1.8 0 1,0 -3.6,0M543.70,161.50a1.8,1.8 0 1,0 3.6,0a1.8,1.8 0 1,0 -3.6,0M375.70,219.50a1.8,1.8 0 1,0 3.6,0a1.8,1.8 0 1,0 -3.6,0M398.70,204.50a1.8,1.8 0 1,0 3.6,0a1.8,1.8 0 1,0 -3.6,0M529.70,146.50a1.8,1.8 0 1,0 3.6,0a1.8,1.8 0 1,0 -3.6,0M552.70,164.50a1.8,1.8 0 1,0 3.6,0a1.8,1.8 0 1,0 -3.6,0M506.70,187.50a1.8,1.8 0 1,0 3.6,0a1.8,1.8 0 1,0 -3.6,0M358.70,244.50a1.8,1.8 0 1,0 3.6,0a1.8,1.8 0 1,0 -3.6,0M449.70,190.50a1.8,1.8 0 1,0 3.6,0a1.8,1.8 0 1,0 -3.6,0M394.70,215.50a1.8,1.8 0 1,0 3.6,0a1.8,1.8 0 1,0 -3.6,0M552.70,171.50a1.8,1.8 0 1,0 3.6,0a1.8,1.8 0 1,0 -3.6,0M555.70,152.50a1.8,1.8 0 1,0 3.6,0a1.8,1.8 0 1,0 -3.6,0M555.70,156.50a1.8,1.8 0 1,0 3.6,0a1.8,1.8 0 1,0 -3.6,0M350.70,240.50a1.8,1.8 0 1,0 3.6,0a1.8,1.8 0 1,0 -3.6,0M432.70,182.50a1.8,1.8 0 1,0 3.6,0a1.8,1.8 0 1,0 -3.6,0M412.70,189.50a1.8,1.8 0 1,0 3.6,0a1.8,1.8 0 1,0 -3.6,0M369.70,241.50a1.8,1.8 0 1,0 3.6,0a1.8,1.8 0 1,0 -3.6,0M506.70,182.50a1.8,1.8 0 1,0 3.6,0a1.8,1.8 0 1,0 -3.6,0M531.70,150.50a1.8,1.8 0 1,0 3.6,0a1.8,1.8 0 1,0 -3.6,0M391.70,223.50a1.8,1.8 0 1,0 3.6,0a1.8,1.8 0 1,0 -3.6,0M404.70,195.50a1.8,1.8 0 1,0 3.6,0a1.8,1.8 0 1,0 -3.6,0M506.70,182.50a1.8,1.8 0 1,0 3.6,0a1.8,1.8 0 1,0 -3.6,0M404.70,197.50a1.8,1.8 0 1,0 3.6,0a1.8,1.8 0 1,0 -3.6,0M553.70,165.50a1.8,1.8 0 1,0 3.6,0a1.8,1.8 0 1,0 -3.6,0M436.70,174.50a1.8,1.8 0 1,0 3.6,0a1.8,1.8 0 1,0 -3.6,0M418.70,198.50a1.8,1.8 0 1,0 3.6,0a1.8,1.8 0 1,0 -3.6,0M523.70,151.50a1.8,1.8 0 1,0 3.6,0a1.8,1.8 0 1,0 -3.6,0M543.70,159.50a1.8,1.8 0 1,0 3.6,0a1.8,1.8 0 1,0 -3.6,0M532.70,153.50a1.8,1.8 0 1,0 3.6,0a1.8,1.8 0 1,0 -3.6,0M547.70,153.50a1.8,1.8 0 1,0 3.6,0a1.8,1.8 0 1,0 -3.6,0M410.70,176.50a1.8,1.8 0 1,0 3.6,0a1.8,1.8 0 1,0 -3.6,0M496.70,162.50a1.8,1.8 0 1,0 3.6,0a1.8,1.8 0 1,0 -3.6,0M527.70,142.50a1.8,1.8 0 1,0 3.6,0a1.8,1.8 0 1,0 -3.6,0M549.70,155.50a1.8,1.8 0 1,0 3.6,0a1.8,1.8 0 1,0 -3.6,0M558.70,154.50a1.8,1.8 0 1,0 3.6,0a1.8,1.8 0 1,0 -3.6,0M429.70,181.50a1.8,1.8 0 1,0 3.6,0a1.8,1.8 0 1,0 -3.6,0M388.70,219.50a1.8,1.8 0 1,0 3.6,0a1.8,1.8 0 1,0 -3.6,0M358.70,243.50a1.8,1.8 0 1,0 3.6,0a1.8,1.8 0 1,0 -3.6,0M347.70,254.50a1.8,1.8 0 1,0 3.6,0a1.8,1.8 0 1,0 -3.6,0M415.70,192.50a1.8,1.8 0 1,0 3.6,0a1.8,1.8 0 1,0 -3.6,0M487.70,148.50a1.8,1.8 0 1,0 3.6,0a1.8,1.8 0 1,0 -3.6,0M437.70,182.50a1.8,1.8 0 1,0 3.6,0a1.8,1.8 0 1,0 -3.6,0M379.70,215.50a1.8,1.8 0 1,0 3.6,0a1.8,1.8 0 1,0 -3.6,0M490.70,151.50a1.8,1.8 0 1,0 3.6,0a1.8,1.8 0 1,0 -3.6,0M492.70,169.50a1.8,1.8 0 1,0 3.6,0a1.8,1.8 0 1,0 -3.6,0M362.70,232.50a1.8,1.8 0 1,0 3.6,0a1.8,1.8 0 1,0 -3.6,0M356.70,235.50a1.8,1.8 0 1,0 3.6,0a1.8,1.8 0 1,0 -3.6,0M453.70,185.50a1.8,1.8 0 1,0 3.6,0a1.8,1.8 0 1,0 -3.6,0M534.70,149.50a1.8,1.8 0 1,0 3.6,0a1.8,1.8 0 1,0 -3.6,0M527.70,143.50a1.8,1.8 0 1,0 3.6,0a1.8,1.8 0 1,0 -3.6,0M388.70,225.50a1.8,1.8 0 1,0 3.6,0a1.8,1.8 0 1,0 -3.6,0M387.70,225.50a1.8,1.8 0 1,0 3.6,0a1.8,1.8 0 1,0 -3.6,0M486.70,141.50a1.8,1.8 0 1,0 3.6,0a1.8,1.8 0 1,0 -3.6,0M497.70,157.50a1.8,1.8 0 1,0 3.6,0a1.8,1.8 0 1,0 -3.6,0M350.70,252.50a1.8,1.8 0 1,0 3.6,0a1.8,1.8 0 1,0 -3.6,0M528.70,145.50a1.8,1.8 0 1,0 3.6,0a1.8,1.8 0 1,0 -3.6,0M466.70,179.50a1.8,1.8 0 1,0 3.6,0a1.8,1.8 0 1,0 -3.6,0M560.70,158.50a1.8,1.8 0 1,0 3.6,0a1.8,1.8 0 1,0 -3.6,0M447.70,185.50a1.8,1.8 0 1,0 3.6,0a1.8,1.8 0 1,0 -3.6,0M529.70,140.50a1.8,1.8 0 1,0 3.6,0a1.8,1.8 0 1,0 -3.6,0M451.70,176.50a1.8,1.8 0 1,0 3.6,0a1.8,1.8 0 1,0 -3.6,0M429.70,180.50a1.8,1.8 0 1,0 3.6,0a1.8,1.8 0 1,0 -3.6,0M410.70,176.50a1.8,1.8 0 1,0 3.6,0a1.8,1.8 0 1,0 -3.6,0M442.70,182.50a1.8,1.8 0 1,0 3.6,0a1.8,1.8 0 1,0 -3.6,0M540.70,143.50a1.8,1.8 0 1,0 3.6,0a1.8,1.8 0 1,0 -3.6,0M377.70,218.50a1.8,1.8 0 1,0 3.6,0a1.8,1.8 0 1,0 -3.6,0M412.70,176.50a1.8,1.8 0 1,0 3.6,0a1.8,1.8 0 1,0 -3.6,0M562.70,159.50a1.8,1.8 0 1,0 3.6,0a1.8,1.8 0 1,0 -3.6,0M436.70,179.50a1.8,1.8 0 1,0 3.6,0a1.8,1.8 0 1,0 -3.6,0M394.70,226.50a1.8,1.8 0 1,0 3.6,0a1.8,1.8 0 1,0 -3.6,0M542.70,150.50a1.8,1.8 0 1,0 3.6,0a1.8,1.8 0 1,0 -3.6,0M509.70,178.50a1.8,1.8 0 1,0 3.6,0a1.8,1.8 0 1,0 -3.6,0M348.70,257.50a1.8,1.8 0 1,0 3.6,0a1.8,1.8 0 1,0 -3.6,0M351.70,255.50a1.8,1.8 0 1,0 3.6,0a1.8,1.8 0 1,0 -3.6,0M555.70,151.50a1.8,1.8 0 1,0 3.6,0a1.8,1.8 0 1,0 -3.6,0M353.70,238.50a1.8,1.8 0 1,0 3.6,0a1.8,1.8 0 1,0 -3.6,0M365.70,241.50a1.8,1.8 0 1,0 3.6,0a1.8,1.8 0 1,0 -3.6,0M352.70,248.50a1.8,1.8 0 1,0 3.6,0a1.8,1.8 0 1,0 -3.6,0M451.70,190.50a1.8,1.8 0 1,0 3.6,0a1.8,1.8 0 1,0 -3.6,0M368.70,235.50a1.8,1.8 0 1,0 3.6,0a1.8,1.8 0 1,0 -3.6,0M506.70,187.50a1.8,1.8 0 1,0 3.6,0a1.8,1.8 0 1,0 -3.6,0M400.70,207.50a1.8,1.8 0 1,0 3.6,0a1.8,1.8 0 1,0 -3.6,0M350.70,248.50a1.8,1.8 0 1,0 3.6,0a1.8,1.8 0 1,0 -3.6,0M375.70,217.50a1.8,1.8 0 1,0 3.6,0a1.8,1.8 0 1,0 -3.6,0M357.70,245.50a1.8,1.8 0 1,0 3.6,0a1.8,1.8 0 1,0 -3.6,0M535.70,153.50a1.8,1.8 0 1,0 3.6,0a1.8,1.8 0 1,0 -3.6,0M516.70,147.50a1.8,1.8 0 1,0 3.6,0a1.8,1.8 0 1,0 -3.6,0M531.70,155.50a1.8,1.8 0 1,0 3.6,0a1.8,1.8 0 1,0 -3.6,0M419.70,205.50a1.8,1.8 0 1,0 3.6,0a1.8,1.8 0 1,0 -3.6,0M533.70,155.50a1.8,1.8 0 1,0 3.6,0a1.8,1.8 0 1,0 -3.6,0M396.70,212.50a1.8,1.8 0 1,0 3.6,0a1.8,1.8 0 1,0 -3.6,0M556.70,165.50a1.8,1.8 0 1,0 3.6,0a1.8,1.8 0 1,0 -3.6,0M387.70,218.50a1.8,1.8 0 1,0 3.6,0a1.8,1.8 0 1,0 -3.6,0M430.70,178.50a1.8,1.8 0 1,0 3.6,0a1.8,1.8 0 1,0 -3.6,0M518.70,159.50a1.8,1.8 0 1,0 3.6,0a1.8,1.8 0 1,0 -3.6,0M497.70,160.50a1.8,1.8 0 1,0 3.6,0a1.8,1.8 0 1,0 -3.6,0M540.70,145.50a1.8,1.8 0 1,0 3.6,0a1.8,1.8 0 1,0 -3.6,0M571.70,149.50a1.8,1.8 0 1,0 3.6,0a1.8,1.8 0 1,0 -3.6,0M573.70,155.50a1.8,1.8 0 1,0 3.6,0a1.8,1.8 0 1,0 -3.6,0M542.70,151.50a1.8,1.8 0 1,0 3.6,0a1.8,1.8 0 1,0 -3.6,0M543.70,159.50a1.8,1.8 0 1,0 3.6,0a1.8,1.8 0 1,0 -3.6,0M497.70,161.50a1.8,1.8 0 1,0 3.6,0a1.8,1.8 0 1,0 -3.6,0M433.70,183.50a1.8,1.8 0 1,0 3.6,0a1.8,1.8 0 1,0 -3.6,0M488.70,141.50a1.8,1.8 0 1,0 3.6,0a1.8,1.8 0 1,0 -3.6,0M359.70,229.50a1.8,1.8 0 1,0 3.6,0a1.8,1.8 0 1,0 -3.6,0M470.70,200.50a1.8,1.8 0 1,0 3.6,0a1.8,1.8 0 1,0 -3.6,0M565.70,151.50a1.8,1.8 0 1,0 3.6,0a1.8,1.8 0 1,0 -3.6,0M480.70,185.50a1.8,1.8 0 1,0 3.6,0a1.8,1.8 0 1,0 -3.6,0M359.70,230.50a1.8,1.8 0 1,0 3.6,0a1.8,1.8 0 1,0 -3.6,0M351.70,255.50a1.8,1.8 0 1,0 3.6,0a1.8,1.8 0 1,0 -3.6,0M472.70,204.50a1.8,1.8 0 1,0 3.6,0a1.8,1.8 0 1,0 -3.6,0M562.70,159.50a1.8,1.8 0 1,0 3.6,0a1.8,1.8 0 1,0 -3.6,0M442.70,186.50a1.8,1.8 0 1,0 3.6,0a1.8,1.8 0 1,0 -3.6,0M539.70,156.50a1.8,1.8 0 1,0 3.6,0a1.8,1.8 0 1,0 -3.6,0M346.70,251.50a1.8,1.8 0 1,0 3.6,0a1.8,1.8 0 1,0 -3.6,0M520.70,154.50a1.8,1.8 0 1,0 3.6,0a1.8,1.8 0 1,0 -3.6,0M437.70,180.50a1.8,1.8 0 1,0 3.6,0a1.8,1.8 0 1,0 -3.6,0M382.70,220.50a1.8,1.8 0 1,0 3.6,0a1.8,1.8 0 1,0 -3.6,0M373.70,214.50a1.8,1.8 0 1,0 3.6,0a1.8,1.8 0 1,0 -3.6,0M426.70,198.50a1.8,1.8 0 1,0 3.6,0a1.8,1.8 0 1,0 -3.6,0M454.70,206.50a1.8,1.8 0 1,0 3.6,0a1.8,1.8 0 1,0 -3.6,0M493.70,169.50a1.8,1.8 0 1,0 3.6,0a1.8,1.8 0 1,0 -3.6,0M566.70,157.50a1.8,1.8 0 1,0 3.6,0a1.8,1.8 0 1,0 -3.6,0M517.70,155.50a1.8,1.8 0 1,0 3.6,0a1.8,1.8 0 1,0 -3.6,0M482.70,163.50a1.8,1.8 0 1,0 3.6,0a1.8,1.8 0 1,0 -3.6,0M397.70,221.50a1.8,1.8 0 1,0 3.6,0a1.8,1.8 0 1,0 -3.6,0M387.70,224.50a1.8,1.8 0 1,0 3.6,0a1.8,1.8 0 1,0 -3.6,0M559.70,163.50a1.8,1.8 0 1,0 3.6,0a1.8,1.8 0 1,0 -3.6,0M487.70,150.50a1.8,1.8 0 1,0 3.6,0a1.8,1.8 0 1,0 -3.6,0M570.70,148.50a1.8,1.8 0 1,0 3.6,0a1.8,1.8 0 1,0 -3.6,0M437.70,175.50a1.8,1.8 0 1,0 3.6,0a1.8,1.8 0 1,0 -3.6,0M467.70,183.50a1.8,1.8 0 1,0 3.6,0a1.8,1.8 0 1,0 -3.6,0M553.70,162.50a1.8,1.8 0 1,0 3.6,0a1.8,1.8 0 1,0 -3.6,0M524.70,171.50a1.8,1.8 0 1,0 3.6,0a1.8,1.8 0 1,0 -3.6,0M555.70,149.50a1.8,1.8 0 1,0 3.6,0a1.8,1.8 0 1,0 -3.6,0M567.70,151.50a1.8,1.8 0 1,0 3.6,0a1.8,1.8 0 1,0 -3.6,0M419.70,199.50a1.8,1.8 0 1,0 3.6,0a1.8,1.8 0 1,0 -3.6,0M503.70,180.50a1.8,1.8 0 1,0 3.6,0a1.8,1.8 0 1,0 -3.6,0M565.70,156.50a1.8,1.8 0 1,0 3.6,0a1.8,1.8 0 1,0 -3.6,0M568.70,161.50a1.8,1.8 0 1,0 3.6,0a1.8,1.8 0 1,0 -3.6,0M418.70,198.50a1.8,1.8 0 1,0 3.6,0a1.8,1.8 0 1,0 -3.6,0M464.70,199.50a1.8,1.8 0 1,0 3.6,0a1.8,1.8 0 1,0 -3.6,0M457.70,178.50a1.8,1.8 0 1,0 3.6,0a1.8,1.8 0 1,0 -3.6,0M466.70,186.50a1.8,1.8 0 1,0 3.6,0a1.8,1.8 0 1,0 -3.6,0M367.70,238.50a1.8,1.8 0 1,0 3.6,0a1.8,1.8 0 1,0 -3.6,0M413.70,177.50a1.8,1.8 0 1,0 3.6,0a1.8,1.8 0 1,0 -3.6,0M518.70,160.50a1.8,1.8 0 1,0 3.6,0a1.8,1.8 0 1,0 -3.6,0M346.70,251.50a1.8,1.8 0 1,0 3.6,0a1.8,1.8 0 1,0 -3.6,0M520.70,159.50a1.8,1.8 0 1,0 3.6,0a1.8,1.8 0 1,0 -3.6,0M353.70,241.50a1.8,1.8 0 1,0 3.6,0a1.8,1.8 0 1,0 -3.6,0M352.70,242.50a1.8,1.8 0 1,0 3.6,0a1.8,1.8 0 1,0 -3.6,0M502.70,184.50a1.8,1.8 0 1,0 3.6,0a1.8,1.8 0 1,0 -3.6,0M461.70,189.50a1.8,1.8 0 1,0 3.6,0a1.8,1.8 0 1,0 -3.6,0M415.70,189.50a1.8,1.8 0 1,0 3.6,0a1.8,1.8 0 1,0 -3.6,0M356.70,238.50a1.8,1.8 0 1,0 3.6,0a1.8,1.8 0 1,0 -3.6,0M493.70,171.50a1.8,1.8 0 1,0 3.6,0a1.8,1.8 0 1,0 -3.6,0M463.70,193.50a1.8,1.8 0 1,0 3.6,0a1.8,1.8 0 1,0 -3.6,0M417.70,196.50a1.8,1.8 0 1,0 3.6,0a1.8,1.8 0 1,0 -3.6,0M570.70,149.50a1.8,1.8 0 1,0 3.6,0a1.8,1.8 0 1,0 -3.6,0M519.70,154.50a1.8,1.8 0 1,0 3.6,0a1.8,1.8 0 1,0 -3.6,0M564.70,162.50a1.8,1.8 0 1,0 3.6,0a1.8,1.8 0 1,0 -3.6,0M538.70,143.50a1.8,1.8 0 1,0 3.6,0a1.8,1.8 0 1,0 -3.6,0M519.70,156.50a1.8,1.8 0 1,0 3.6,0a1.8,1.8 0 1,0 -3.6,0M521.70,174.50a1.8,1.8 0 1,0 3.6,0a1.8,1.8 0 1,0 -3.6,0M451.70,176.50a1.8,1.8 0 1,0 3.6,0a1.8,1.8 0 1,0 -3.6,0M533.70,156.50a1.8,1.8 0 1,0 3.6,0a1.8,1.8 0 1,0 -3.6,0M386.70,215.50a1.8,1.8 0 1,0 3.6,0a1.8,1.8 0 1,0 -3.6,0M384.70,214.50a1.8,1.8 0 1,0 3.6,0a1.8,1.8 0 1,0 -3.6,0M398.70,206.50a1.8,1.8 0 1,0 3.6,0a1.8,1.8 0 1,0 -3.6,0M567.70,160.50a1.8,1.8 0 1,0 3.6,0a1.8,1.8 0 1,0 -3.6,0M509.70,177.50a1.8,1.8 0 1,0 3.6,0a1.8,1.8 0 1,0 -3.6,0M369.70,236.50a1.8,1.8 0 1,0 3.6,0a1.8,1.8 0 1,0 -3.6,0M380.70,221.50a1.8,1.8 0 1,0 3.6,0a1.8,1.8 0 1,0 -3.6,0M384.70,216.50a1.8,1.8 0 1,0 3.6,0a1.8,1.8 0 1,0 -3.6,0M538.70,146.50a1.8,1.8 0 1,0 3.6,0a1.8,1.8 0 1,0 -3.6,0M361.70,242.50a1.8,1.8 0 1,0 3.6,0a1.8,1.8 0 1,0 -3.6,0M565.70,157.50a1.8,1.8 0 1,0 3.6,0a1.8,1.8 0 1,0 -3.6,0M556.70,152.50a1.8,1.8 0 1,0 3.6,0a1.8,1.8 0 1,0 -3.6,0M353.70,247.50a1.8,1.8 0 1,0 3.6,0a1.8,1.8 0 1,0 -3.6,0M469.70,204.50a1.8,1.8 0 1,0 3.6,0a1.8,1.8 0 1,0 -3.6,0M458.70,174.50a1.8,1.8 0 1,0 3.6,0a1.8,1.8 0 1,0 -3.6,0M480.70,183.50a1.8,1.8 0 1,0 3.6,0a1.8,1.8 0 1,0 -3.6,0M416.70,198.50a1.8,1.8 0 1,0 3.6,0a1.8,1.8 0 1,0 -3.6,0M558.70,154.50a1.8,1.8 0 1,0 3.6,0a1.8,1.8 0 1,0 -3.6,0M429.70,179.50a1.8,1.8 0 1,0 3.6,0a1.8,1.8 0 1,0 -3.6,0M561.70,156.50a1.8,1.8 0 1,0 3.6,0a1.8,1.8 0 1,0 -3.6,0M507.70,179.50a1.8,1.8 0 1,0 3.6,0a1.8,1.8 0 1,0 -3.6,0M563.70,160.50a1.8,1.8 0 1,0 3.6,0a1.8,1.8 0 1,0 -3.6,0M495.70,160.50a1.8,1.8 0 1,0 3.6,0a1.8,1.8 0 1,0 -3.6,0M427.70,201.50a1.8,1.8 0 1,0 3.6,0a1.8,1.8 0 1,0 -3.6,0M551.70,160.50a1.8,1.8 0 1,0 3.6,0a1.8,1.8 0 1,0 -3.6,0M394.70,214.50a1.8,1.8 0 1,0 3.6,0a1.8,1.8 0 1,0 -3.6,0M438.70,185.50a1.8,1.8 0 1,0 3.6,0a1.8,1.8 0 1,0 -3.6,0M396.70,222.50a1.8,1.8 0 1,0 3.6,0a1.8,1.8 0 1,0 -3.6,0M360.70,238.50a1.8,1.8 0 1,0 3.6,0a1.8,1.8 0 1,0 -3.6,0M361.70,237.50a1.8,1.8 0 1,0 3.6,0a1.8,1.8 0 1,0 -3.6,0M351.70,248.50a1.8,1.8 0 1,0 3.6,0a1.8,1.8 0 1,0 -3.6,0M479.70,185.50a1.8,1.8 0 1,0 3.6,0a1.8,1.8 0 1,0 -3.6,0M540.70,146.50a1.8,1.8 0 1,0 3.6,0a1.8,1.8 0 1,0 -3.6,0M409.70,179.50a1.8,1.8 0 1,0 3.6,0a1.8,1.8 0 1,0 -3.6,0M363.70,239.50a1.8,1.8 0 1,0 3.6,0a1.8,1.8 0 1,0 -3.6,0M477.70,179.50a1.8,1.8 0 1,0 3.6,0a1.8,1.8 0 1,0 -3.6,0M476.70,177.50a1.8,1.8 0 1,0 3.6,0a1.8,1.8 0 1,0 -3.6,0M421.70,206.50a1.8,1.8 0 1,0 3.6,0a1.8,1.8 0 1,0 -3.6,0M441.70,185.50a1.8,1.8 0 1,0 3.6,0a1.8,1.8 0 1,0 -3.6,0M427.70,185.50a1.8,1.8 0 1,0 3.6,0a1.8,1.8 0 1,0 -3.6,0M396.70,215.50a1.8,1.8 0 1,0 3.6,0a1.8,1.8 0 1,0 -3.6,0M572.70,150.50a1.8,1.8 0 1,0 3.6,0a1.8,1.8 0 1,0 -3.6,0M522.70,152.50a1.8,1.8 0 1,0 3.6,0a1.8,1.8 0 1,0 -3.6,0M466.70,179.50a1.8,1.8 0 1,0 3.6,0a1.8,1.8 0 1,0 -3.6,0M429.70,178.50a1.8,1.8 0 1,0 3.6,0a1.8,1.8 0 1,0 -3.6,0M398.70,208.50a1.8,1.8 0 1,0 3.6,0a1.8,1.8 0 1,0 -3.6,0M385.70,216.50a1.8,1.8 0 1,0 3.6,0a1.8,1.8 0 1,0 -3.6,0M522.70,167.50a1.8,1.8 0 1,0 3.6,0a1.8,1.8 0 1,0 -3.6,0M372.70,245.50a1.8,1.8 0 1,0 3.6,0a1.8,1.8 0 1,0 -3.6,0M371.70,245.50a1.8,1.8 0 1,0 3.6,0a1.8,1.8 0 1,0 -3.6,0M546.70,154.50a1.8,1.8 0 1,0 3.6,0a1.8,1.8 0 1,0 -3.6,0M487.70,144.50a1.8,1.8 0 1,0 3.6,0a1.8,1.8 0 1,0 -3.6,0M355.70,238.50a1.8,1.8 0 1,0 3.6,0a1.8,1.8 0 1,0 -3.6,0M370.70,242.50a1.8,1.8 0 1,0 3.6,0a1.8,1.8 0 1,0 -3.6,0M347.70,259.50a1.8,1.8 0 1,0 3.6,0a1.8,1.8 0 1,0 -3.6,0M540.70,148.50a1.8,1.8 0 1,0 3.6,0a1.8,1.8 0 1,0 -3.6,0M369.70,241.50a1.8,1.8 0 1,0 3.6,0a1.8,1.8 0 1,0 -3.6,0M491.70,150.50a1.8,1.8 0 1,0 3.6,0a1.8,1.8 0 1,0 -3.6,0M565.70,152.50a1.8,1.8 0 1,0 3.6,0a1.8,1.8 0 1,0 -3.6,0M359.70,240.50a1.8,1.8 0 1,0 3.6,0a1.8,1.8 0 1,0 -3.6,0M415.70,190.50a1.8,1.8 0 1,0 3.6,0a1.8,1.8 0 1,0 -3.6,0M418.70,192.50a1.8,1.8 0 1,0 3.6,0a1.8,1.8 0 1,0 -3.6,0M393.70,224.50a1.8,1.8 0 1,0 3.6,0a1.8,1.8 0 1,0 -3.6,0M504.70,185.50a1.8,1.8 0 1,0 3.6,0a1.8,1.8 0 1,0 -3.6,0M541.70,145.50a1.8,1.8 0 1,0 3.6,0a1.8,1.8 0 1,0 -3.6,0M377.70,224.50a1.8,1.8 0 1,0 3.6,0a1.8,1.8 0 1,0 -3.6,0M569.70,155.50a1.8,1.8 0 1,0 3.6,0a1.8,1.8 0 1,0 -3.6,0M399.70,204.50a1.8,1.8 0 1,0 3.6,0a1.8,1.8 0 1,0 -3.6,0M367.70,233.50a1.8,1.8 0 1,0 3.6,0a1.8,1.8 0 1,0 -3.6,0M461.70,188.50a1.8,1.8 0 1,0 3.6,0a1.8,1.8 0 1,0 -3.6,0M547.70,156.50a1.8,1.8 0 1,0 3.6,0a1.8,1.8 0 1,0 -3.6,0M411.70,179.50a1.8,1.8 0 1,0 3.6,0a1.8,1.8 0 1,0 -3.6,0M509.70,166.50a1.8,1.8 0 1,0 3.6,0a1.8,1.8 0 1,0 -3.6,0M516.70,159.50a1.8,1.8 0 1,0 3.6,0a1.8,1.8 0 1,0 -3.6,0M549.70,150.50a1.8,1.8 0 1,0 3.6,0a1.8,1.8 0 1,0 -3.6,0M428.70,196.50a1.8,1.8 0 1,0 3.6,0a1.8,1.8 0 1,0 -3.6,0M531.70,154.50a1.8,1.8 0 1,0 3.6,0a1.8,1.8 0 1,0 -3.6,0M544.70,155.50a1.8,1.8 0 1,0 3.6,0a1.8,1.8 0 1,0 -3.6,0M468.70,178.50a1.8,1.8 0 1,0 3.6,0a1.8,1.8 0 1,0 -3.6,0M482.70,164.50a1.8,1.8 0 1,0 3.6,0a1.8,1.8 0 1,0 -3.6,0M473.70,167.50a1.8,1.8 0 1,0 3.6,0a1.8,1.8 0 1,0 -3.6,0M448.70,182.50a1.8,1.8 0 1,0 3.6,0a1.8,1.8 0 1,0 -3.6,0M548.70,161.50a1.8,1.8 0 1,0 3.6,0a1.8,1.8 0 1,0 -3.6,0M378.70,218.50a1.8,1.8 0 1,0 3.6,0a1.8,1.8 0 1,0 -3.6,0M379.70,219.50a1.8,1.8 0 1,0 3.6,0a1.8,1.8 0 1,0 -3.6,0M365.70,231.50a1.8,1.8 0 1,0 3.6,0a1.8,1.8 0 1,0 -3.6,0M477.70,184.50a1.8,1.8 0 1,0 3.6,0a1.8,1.8 0 1,0 -3.6,0M521.70,158.50a1.8,1.8 0 1,0 3.6,0a1.8,1.8 0 1,0 -3.6,0M516.70,164.50a1.8,1.8 0 1,0 3.6,0a1.8,1.8 0 1,0 -3.6,0M516.70,163.50a1.8,1.8 0 1,0 3.6,0a1.8,1.8 0 1,0 -3.6,0M375.70,219.50a1.8,1.8 0 1,0 3.6,0a1.8,1.8 0 1,0 -3.6,0M390.70,228.50a1.8,1.8 0 1,0 3.6,0a1.8,1.8 0 1,0 -3.6,0M533.70,150.50a1.8,1.8 0 1,0 3.6,0a1.8,1.8 0 1,0 -3.6,0M381.70,224.50a1.8,1.8 0 1,0 3.6,0a1.8,1.8 0 1,0 -3.6,0M457.70,182.50a1.8,1.8 0 1,0 3.6,0a1.8,1.8 0 1,0 -3.6,0M429.70,199.50a1.8,1.8 0 1,0 3.6,0a1.8,1.8 0 1,0 -3.6,0M522.70,160.50a1.8,1.8 0 1,0 3.6,0a1.8,1.8 0 1,0 -3.6,0M386.70,221.50a1.8,1.8 0 1,0 3.6,0a1.8,1.8 0 1,0 -3.6,0M424.70,202.50a1.8,1.8 0 1,0 3.6,0a1.8,1.8 0 1,0 -3.6,0M470.70,200.50a1.8,1.8 0 1,0 3.6,0a1.8,1.8 0 1,0 -3.6,0M363.70,236.50a1.8,1.8 0 1,0 3.6,0a1.8,1.8 0 1,0 -3.6,0M376.70,219.50a1.8,1.8 0 1,0 3.6,0a1.8,1.8 0 1,0 -3.6,0M567.70,159.50a1.8,1.8 0 1,0 3.6,0a1.8,1.8 0 1,0 -3.6,0M540.70,148.50a1.8,1.8 0 1,0 3.6,0a1.8,1.8 0 1,0 -3.6,0M505.70,183.50a1.8,1.8 0 1,0 3.6,0a1.8,1.8 0 1,0 -3.6,0M402.70,207.50a1.8,1.8 0 1,0 3.6,0a1.8,1.8 0 1,0 -3.6,0M477.70,182.50a1.8,1.8 0 1,0 3.6,0a1.8,1.8 0 1,0 -3.6,0M551.70,149.50a1.8,1.8 0 1,0 3.6,0a1.8,1.8 0 1,0 -3.6,0M427.70,186.50a1.8,1.8 0 1,0 3.6,0a1.8,1.8 0 1,0 -3.6,0M487.70,143.50a1.8,1.8 0 1,0 3.6,0a1.8,1.8 0 1,0 -3.6,0M448.70,189.50a1.8,1.8 0 1,0 3.6,0a1.8,1.8 0 1,0 -3.6,0M439.70,186.50a1.8,1.8 0 1,0 3.6,0a1.8,1.8 0 1,0 -3.6,0M396.70,219.50a1.8,1.8 0 1,0 3.6,0a1.8,1.8 0 1,0 -3.6,0M430.70,188.50a1.8,1.8 0 1,0 3.6,0a1.8,1.8 0 1,0 -3.6,0M388.70,216.50a1.8,1.8 0 1,0 3.6,0a1.8,1.8 0 1,0 -3.6,0M474.70,166.50a1.8,1.8 0 1,0 3.6,0a1.8,1.8 0 1,0 -3.6,0M363.70,232.50a1.8,1.8 0 1,0 3.6,0a1.8,1.8 0 1,0 -3.6,0M536.70,148.50a1.8,1.8 0 1,0 3.6,0a1.8,1.8 0 1,0 -3.6,0M398.70,205.50a1.8,1.8 0 1,0 3.6,0a1.8,1.8 0 1,0 -3.6,0M356.70,235.50a1.8,1.8 0 1,0 3.6,0a1.8,1.8 0 1,0 -3.6,0M504.70,190.50a1.8,1.8 0 1,0 3.6,0a1.8,1.8 0 1,0 -3.6,0M374.70,213.50a1.8,1.8 0 1,0 3.6,0a1.8,1.8 0 1,0 -3.6,0M538.70,142.50a1.8,1.8 0 1,0 3.6,0a1.8,1.8 0 1,0 -3.6,0M357.70,237.50a1.8,1.8 0 1,0 3.6,0a1.8,1.8 0 1,0 -3.6,0M529.70,144.50a1.8,1.8 0 1,0 3.6,0a1.8,1.8 0 1,0 -3.6,0M346.70,255.50a1.8,1.8 0 1,0 3.6,0a1.8,1.8 0 1,0 -3.6,0M391.70,227.50a1.8,1.8 0 1,0 3.6,0a1.8,1.8 0 1,0 -3.6,0M551.70,153.50a1.8,1.8 0 1,0 3.6,0a1.8,1.8 0 1,0 -3.6,0M555.70,149.50a1.8,1.8 0 1,0 3.6,0a1.8,1.8 0 1,0 -3.6,0M552.70,170.50a1.8,1.8 0 1,0 3.6,0a1.8,1.8 0 1,0 -3.6,0M366.70,238.50a1.8,1.8 0 1,0 3.6,0a1.8,1.8 0 1,0 -3.6,0M439.70,181.50a1.8,1.8 0 1,0 3.6,0a1.8,1.8 0 1,0 -3.6,0M474.70,171.50a1.8,1.8 0 1,0 3.6,0a1.8,1.8 0 1,0 -3.6,0M475.70,176.50a1.8,1.8 0 1,0 3.6,0a1.8,1.8 0 1,0 -3.6,0M545.70,148.50a1.8,1.8 0 1,0 3.6,0a1.8,1.8 0 1,0 -3.6,0M364.70,235.50a1.8,1.8 0 1,0 3.6,0a1.8,1.8 0 1,0 -3.6,0M419.70,201.50a1.8,1.8 0 1,0 3.6,0a1.8,1.8 0 1,0 -3.6,0M519.70,158.50a1.8,1.8 0 1,0 3.6,0a1.8,1.8 0 1,0 -3.6,0M574.70,159.50a1.8,1.8 0 1,0 3.6,0a1.8,1.8 0 1,0 -3.6,0M470.70,176.50a1.8,1.8 0 1,0 3.6,0a1.8,1.8 0 1,0 -3.6,0M469.70,186.50a1.8,1.8 0 1,0 3.6,0a1.8,1.8 0 1,0 -3.6,0M359.70,241.50a1.8,1.8 0 1,0 3.6,0a1.8,1.8 0 1,0 -3.6,0M371.70,242.50a1.8,1.8 0 1,0 3.6,0a1.8,1.8 0 1,0 -3.6,0M346.70,249.50a1.8,1.8 0 1,0 3.6,0a1.8,1.8 0 1,0 -3.6,0M426.70,188.50a1.8,1.8 0 1,0 3.6,0a1.8,1.8 0 1,0 -3.6,0M404.70,196.50a1.8,1.8 0 1,0 3.6,0a1.8,1.8 0 1,0 -3.6,0M566.70,153.50a1.8,1.8 0 1,0 3.6,0a1.8,1.8 0 1,0 -3.6,0M459.70,181.50a1.8,1.8 0 1,0 3.6,0a1.8,1.8 0 1,0 -3.6,0M557.70,155.50a1.8,1.8 0 1,0 3.6,0a1.8,1.8 0 1,0 -3.6,0M364.70,242.50a1.8,1.8 0 1,0 3.6,0a1.8,1.8 0 1,0 -3.6,0M407.70,176.50a1.8,1.8 0 1,0 3.6,0a1.8,1.8 0 1,0 -3.6,0M569.70,163.50a1.8,1.8 0 1,0 3.6,0a1.8,1.8 0 1,0 -3.6,0M558.70,155.50a1.8,1.8 0 1,0 3.6,0a1.8,1.8 0 1,0 -3.6,0M570.70,156.50a1.8,1.8 0 1,0 3.6,0a1.8,1.8 0 1,0 -3.6,0M407.70,177.50a1.8,1.8 0 1,0 3.6,0a1.8,1.8 0 1,0 -3.6,0M419.70,204.50a1.8,1.8 0 1,0 3.6,0a1.8,1.8 0 1,0 -3.6,0M353.70,239.50a1.8,1.8 0 1,0 3.6,0a1.8,1.8 0 1,0 -3.6,0M398.70,209.50a1.8,1.8 0 1,0 3.6,0a1.8,1.8 0 1,0 -3.6,0M462.70,189.50a1.8,1.8 0 1,0 3.6,0a1.8,1.8 0 1,0 -3.6,0M554.70,149.50a1.8,1.8 0 1,0 3.6,0a1.8,1.8 0 1,0 -3.6,0M349.70,254.50a1.8,1.8 0 1,0 3.6,0a1.8,1.8 0 1,0 -3.6,0M554.70,153.50a1.8,1.8 0 1,0 3.6,0a1.8,1.8 0 1,0 -3.6,0M521.70,161.50a1.8,1.8 0 1,0 3.6,0a1.8,1.8 0 1,0 -3.6,0M350.70,251.50a1.8,1.8 0 1,0 3.6,0a1.8,1.8 0 1,0 -3.6,0M418.70,208.50a1.8,1.8 0 1,0 3.6,0a1.8,1.8 0 1,0 -3.6,0M416.70,192.50a1.8,1.8 0 1,0 3.6,0a1.8,1.8 0 1,0 -3.6,0M396.70,223.50a1.8,1.8 0 1,0 3.6,0a1.8,1.8 0 1,0 -3.6,0M408.70,178.50a1.8,1.8 0 1,0 3.6,0a1.8,1.8 0 1,0 -3.6,0M452.70,185.50a1.8,1.8 0 1,0 3.6,0a1.8,1.8 0 1,0 -3.6,0M468.70,182.50a1.8,1.8 0 1,0 3.6,0a1.8,1.8 0 1,0 -3.6,0M381.70,214.50a1.8,1.8 0 1,0 3.6,0a1.8,1.8 0 1,0 -3.6,0M348.70,250.50a1.8,1.8 0 1,0 3.6,0a1.8,1.8 0 1,0 -3.6,0M541.70,151.50a1.8,1.8 0 1,0 3.6,0a1.8,1.8 0 1,0 -3.6,0M532.70,149.50a1.8,1.8 0 1,0 3.6,0a1.8,1.8 0 1,0 -3.6,0M545.70,152.50a1.8,1.8 0 1,0 3.6,0a1.8,1.8 0 1,0 -3.6,0M537.70,150.50a1.8,1.8 0 1,0 3.6,0a1.8,1.8 0 1,0 -3.6,0M501.70,170.50a1.8,1.8 0 1,0 3.6,0a1.8,1.8 0 1,0 -3.6,0M491.70,168.50a1.8,1.8 0 1,0 3.6,0a1.8,1.8 0 1,0 -3.6,0M353.70,248.50a1.8,1.8 0 1,0 3.6,0a1.8,1.8 0 1,0 -3.6,0M564.70,157.50a1.8,1.8 0 1,0 3.6,0a1.8,1.8 0 1,0 -3.6,0M535.70,155.50a1.8,1.8 0 1,0 3.6,0a1.8,1.8 0 1,0 -3.6,0M429.70,189.50a1.8,1.8 0 1,0 3.6,0a1.8,1.8 0 1,0 -3.6,0M379.70,224.50a1.8,1.8 0 1,0 3.6,0a1.8,1.8 0 1,0 -3.6,0M396.70,207.50a1.8,1.8 0 1,0 3.6,0a1.8,1.8 0 1,0 -3.6,0M539.70,149.50a1.8,1.8 0 1,0 3.6,0a1.8,1.8 0 1,0 -3.6,0M403.70,207.50a1.8,1.8 0 1,0 3.6,0a1.8,1.8 0 1,0 -3.6,0M541.70,160.50a1.8,1.8 0 1,0 3.6,0a1.8,1.8 0 1,0 -3.6,0M563.70,159.50a1.8,1.8 0 1,0 3.6,0a1.8,1.8 0 1,0 -3.6,0M407.70,187.50a1.8,1.8 0 1,0 3.6,0a1.8,1.8 0 1,0 -3.6,0M571.70,154.50a1.8,1.8 0 1,0 3.6,0a1.8,1.8 0 1,0 -3.6,0M427.70,200.50a1.8,1.8 0 1,0 3.6,0a1.8,1.8 0 1,0 -3.6,0M520.70,164.50a1.8,1.8 0 1,0 3.6,0a1.8,1.8 0 1,0 -3.6,0M467.70,184.50a1.8,1.8 0 1,0 3.6,0a1.8,1.8 0 1,0 -3.6,0M351.70,248.50a1.8,1.8 0 1,0 3.6,0a1.8,1.8 0 1,0 -3.6,0M527.70,142.50a1.8,1.8 0 1,0 3.6,0a1.8,1.8 0 1,0 -3.6,0M535.70,156.50a1.8,1.8 0 1,0 3.6,0a1.8,1.8 0 1,0 -3.6,0M418.70,201.50a1.8,1.8 0 1,0 3.6,0a1.8,1.8 0 1,0 -3.6,0M357.70,235.50a1.8,1.8 0 1,0 3.6,0a1.8,1.8 0 1,0 -3.6,0M366.70,233.50a1.8,1.8 0 1,0 3.6,0a1.8,1.8 0 1,0 -3.6,0M474.70,169.50a1.8,1.8 0 1,0 3.6,0a1.8,1.8 0 1,0 -3.6,0M476.70,178.50a1.8,1.8 0 1,0 3.6,0a1.8,1.8 0 1,0 -3.6,0M571.70,152.50a1.8,1.8 0 1,0 3.6,0a1.8,1.8 0 1,0 -3.6,0M571.70,151.50a1.8,1.8 0 1,0 3.6,0a1.8,1.8 0 1,0 -3.6,0M544.70,150.50a1.8,1.8 0 1,0 3.6,0a1.8,1.8 0 1,0 -3.6,0M536.70,156.50a1.8,1.8 0 1,0 3.6,0a1.8,1.8 0 1,0 -3.6,0M371.70,246.50a1.8,1.8 0 1,0 3.6,0a1.8,1.8 0 1,0 -3.6,0M450.70,190.50a1.8,1.8 0 1,0 3.6,0a1.8,1.8 0 1,0 -3.6,0M405.70,192.50a1.8,1.8 0 1,0 3.6,0a1.8,1.8 0 1,0 -3.6,0M403.70,192.50a1.8,1.8 0 1,0 3.6,0a1.8,1.8 0 1,0 -3.6,0M428.70,196.50a1.8,1.8 0 1,0 3.6,0a1.8,1.8 0 1,0 -3.6,0M404.70,210.50a1.8,1.8 0 1,0 3.6,0a1.8,1.8 0 1,0 -3.6,0M503.70,179.50a1.8,1.8 0 1,0 3.6,0a1.8,1.8 0 1,0 -3.6,0M389.70,219.50a1.8,1.8 0 1,0 3.6,0a1.8,1.8 0 1,0 -3.6,0M413.70,188.50a1.8,1.8 0 1,0 3.6,0a1.8,1.8 0 1,0 -3.6,0M347.70,254.50a1.8,1.8 0 1,0 3.6,0a1.8,1.8 0 1,0 -3.6,0M547.70,151.50a1.8,1.8 0 1,0 3.6,0a1.8,1.8 0 1,0 -3.6,0M457.70,176.50a1.8,1.8 0 1,0 3.6,0a1.8,1.8 0 1,0 -3.6,0"/>
<g stroke="#000" stroke-width="1" fill="none">
<path d="M80.5,58 V428 M576.5,58 V428 M80,58.5 H577 M80,427.5 H577"/>
<line x1="75" y1="411.5" x2="80.5" y2="411.5"/>
<line x1="75" y1="326.8" x2="80.5" y2="326.8"/>
<line x1="75" y1="242.2" x2="80.5" y2="242.2"/>
<line x1="75" y1="157.5" x2="80.5" y2="157.5"/>
<line x1="80.5" y1="425.2" x2="80.5" y2="429.8"/>
<line x1="80.5" y1="56.2" x2="80.5" y2="60.8"/>
<line x1="163.5" y1="425.2" x2="163.5" y2="429.8"/>
<line x1="163.5" y1="56.2" x2="163.5" y2="60.8"/>
<line x1="245.5" y1="425.2" x2="245.5" y2="429.8"/>
<line x1="245.5" y1="56.2" x2="245.5" y2="60.8"/>
<line x1="328.5" y1="425.2" x2="328.5" y2="429.8"/>
<line x1="328.5" y1="56.2" x2="328.5" y2="60.8"/>
<line x1="411.5" y1="425.2" x2="411.5" y2="429.8"/>
<line x1="411.5" y1="56.2" x2="411.5" y2="60.8"/>
<line x1="493.5" y1="425.2" x2="493.5" y2="429.8"/>
<line x1="493.5" y1="56.2" x2="493.5" y2="60.8"/>
</g>
<text x="70.90" y="416.00" font-size="14.77" text-anchor="end" textLength="8.87" lengthAdjust="spacingAndGlyphs">0</text>
<text x="69.80" y="331.75" font-size="13.98" text-anchor="end" textLength="16.70" lengthAdjust="spacingAndGlyphs">90</text>
<text x="69.80" y="246.95" font-size="14.70" text-anchor="end" textLength="25.93" lengthAdjust="spacingAndGlyphs">180</text>
<text x="70.05" y="162.95" font-size="14.70" text-anchor="end" textLength="26.10" lengthAdjust="spacingAndGlyphs">270</text>
<text x="80.25" y="444.90" font-size="14.12" text-anchor="middle" textLength="8.84" lengthAdjust="spacingAndGlyphs">0</text>
<text x="163.25" y="444.90" font-size="14.13" text-anchor="middle" textLength="8.42" lengthAdjust="spacingAndGlyphs">4</text>
<text x="245.42" y="444.90" font-size="14.13" text-anchor="middle" textLength="8.60" lengthAdjust="spacingAndGlyphs">8</text>
<text x="328.22" y="444.90" font-size="14.12" text-anchor="middle" textLength="16.29" lengthAdjust="spacingAndGlyphs">12</text>
<text x="410.60" y="444.90" font-size="14.12" text-anchor="middle" textLength="16.12" lengthAdjust="spacingAndGlyphs">16</text>
<text x="492.78" y="444.90" font-size="14.12" text-anchor="middle" textLength="17.41" lengthAdjust="spacingAndGlyphs">20</text>
<text x="288.90" y="464.90" font-size="13.68" text-anchor="start" textLength="33.97" lengthAdjust="spacingAndGlyphs">Time</text>
<text x="327.85" y="464.90" font-size="13.68" text-anchor="start" textLength="37.89" lengthAdjust="spacingAndGlyphs">(UTC)</text>
<text transform="translate(34.05,305.05) rotate(-90)" font-size="13.64" text-anchor="start" textLength="34.17" lengthAdjust="spacingAndGlyphs">Wind</text>
<text transform="translate(34.05,266.30) rotate(-90)" font-size="13.64" text-anchor="start" textLength="62.62" lengthAdjust="spacingAndGlyphs">Direction</text>
<text transform="translate(34.05,198.85) rotate(-90)" font-size="13.64" text-anchor="start" textLength="17.84" lengthAdjust="spacingAndGlyphs">(°)</text>
</svg></body></html>
